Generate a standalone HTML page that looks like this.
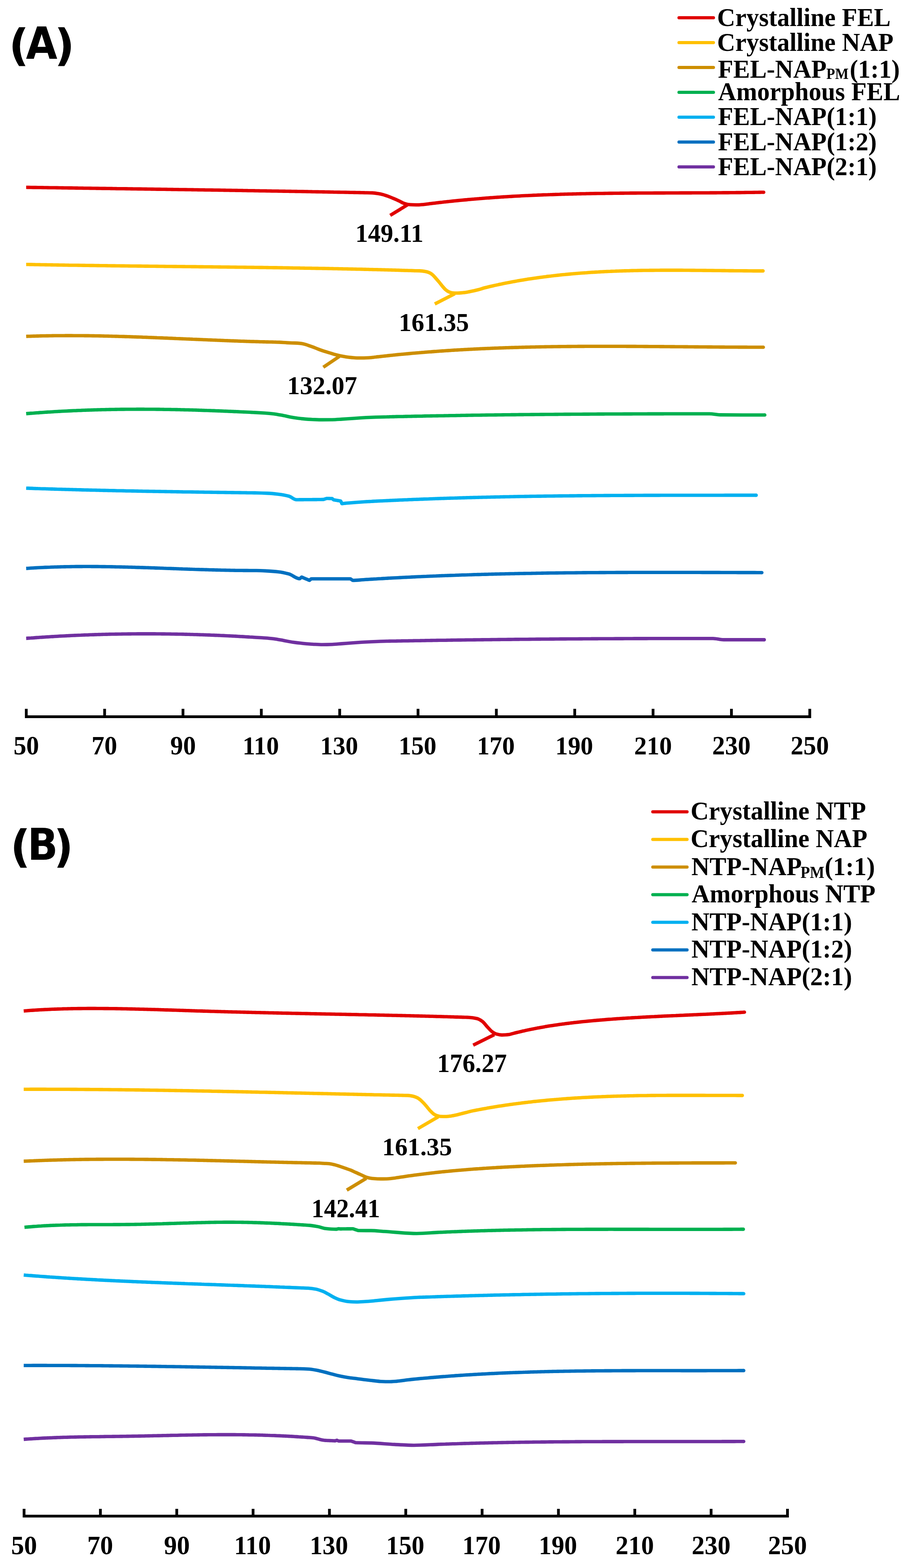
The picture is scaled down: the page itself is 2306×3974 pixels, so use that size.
<!DOCTYPE html>
<html><head><meta charset="utf-8"><title>DSC thermograms</title>
<style>html,body{margin:0;padding:0;background:#fff}svg{display:block;filter:blur(0.6px)}</style></head>
<body><svg width="2306" height="3974" viewBox="0 0 2306 3974">
<rect width="2306" height="3974" fill="#fff"/>
<text transform="translate(22.21,153.12) scale(1.0071,1)" font-family="DejaVu Sans, sans-serif" font-weight="bold" font-size="111.35">(</text>
<text transform="translate(65.77,149.10) scale(0.9192,1)" font-family="DejaVu Sans, sans-serif" font-weight="bold" font-size="111.94">A</text>
<text transform="translate(137.81,153.12) scale(1.0096,1)" font-family="DejaVu Sans, sans-serif" font-weight="bold" font-size="111.35">)</text>
<text transform="translate(25.91,2184.15) scale(0.9951,1)" font-family="DejaVu Sans, sans-serif" font-weight="bold" font-size="112.70">(</text>
<text transform="translate(69.83,2179.10) scale(0.9133,1)" font-family="DejaVu Sans, sans-serif" font-weight="bold" font-size="110.41">B</text>
<text transform="translate(136.34,2184.15) scale(0.9608,1)" font-family="DejaVu Sans, sans-serif" font-weight="bold" font-size="112.70">)</text>
<line x1="1720.6" y1="44.9" x2="1807.9" y2="44.9" stroke="#E00000" stroke-width="8" stroke-linecap="round"/>
<line x1="1720.6" y1="107.9" x2="1807.9" y2="107.9" stroke="#FFC000" stroke-width="8" stroke-linecap="round"/>
<line x1="1720.6" y1="170.9" x2="1807.9" y2="170.9" stroke="#CD8E00" stroke-width="8" stroke-linecap="round"/>
<line x1="1720.6" y1="233.9" x2="1807.9" y2="233.9" stroke="#00B050" stroke-width="8" stroke-linecap="round"/>
<line x1="1720.6" y1="296.9" x2="1807.9" y2="296.9" stroke="#00B0F0" stroke-width="8" stroke-linecap="round"/>
<line x1="1720.6" y1="359.9" x2="1807.9" y2="359.9" stroke="#0070C0" stroke-width="8" stroke-linecap="round"/>
<line x1="1720.6" y1="422.9" x2="1807.9" y2="422.9" stroke="#7030A0" stroke-width="8" stroke-linecap="round"/>
<text transform="translate(1817.32,65.70) scale(0.9783,1)" font-family="Liberation Serif, serif" font-weight="bold" font-size="65.00">Crystalline FEL</text>
<text transform="translate(1817.32,128.70) scale(0.9783,1)" font-family="Liberation Serif, serif" font-weight="bold" font-size="65.00">Crystalline NAP</text>
<text transform="translate(1819.23,197.20) scale(0.9783,1)" font-family="Liberation Serif, serif" font-weight="bold" font-size="65.00">FEL-NAP</text>
<text transform="translate(2094.08,200.00) scale(0.9210,1)" font-family="Liberation Serif, serif" font-weight="bold" font-size="39.23">PM</text>
<text transform="translate(2153.16,197.20) scale(0.9783,1)" font-family="Liberation Serif, serif" font-weight="bold" font-size="65.00">(1:1)</text>
<text transform="translate(1819.86,254.10) scale(0.9783,1)" font-family="Liberation Serif, serif" font-weight="bold" font-size="65.00">Amorphous FEL</text>
<text transform="translate(1819.23,316.70) scale(0.9783,1)" font-family="Liberation Serif, serif" font-weight="bold" font-size="65.00">FEL-NAP(1:1)</text>
<text transform="translate(1819.23,380.60) scale(0.9783,1)" font-family="Liberation Serif, serif" font-weight="bold" font-size="65.00">FEL-NAP(1:2)</text>
<text transform="translate(1819.23,443.60) scale(0.9783,1)" font-family="Liberation Serif, serif" font-weight="bold" font-size="65.00">FEL-NAP(2:1)</text>
<line x1="1654.2" y1="2057.4" x2="1741.0" y2="2057.4" stroke="#E00000" stroke-width="8" stroke-linecap="round"/>
<line x1="1654.2" y1="2127.4" x2="1741.0" y2="2127.4" stroke="#FFC000" stroke-width="8" stroke-linecap="round"/>
<line x1="1654.2" y1="2197.4" x2="1741.0" y2="2197.4" stroke="#CD8E00" stroke-width="8" stroke-linecap="round"/>
<line x1="1654.2" y1="2267.4" x2="1741.0" y2="2267.4" stroke="#00B050" stroke-width="8" stroke-linecap="round"/>
<line x1="1654.2" y1="2337.4" x2="1741.0" y2="2337.4" stroke="#00B0F0" stroke-width="8" stroke-linecap="round"/>
<line x1="1654.2" y1="2407.4" x2="1741.0" y2="2407.4" stroke="#0070C0" stroke-width="8" stroke-linecap="round"/>
<line x1="1654.2" y1="2477.4" x2="1741.0" y2="2477.4" stroke="#7030A0" stroke-width="8" stroke-linecap="round"/>
<text transform="translate(1750.01,2077.10) scale(0.9743,1)" font-family="Liberation Serif, serif" font-weight="bold" font-size="65.45">Crystalline NTP</text>
<text transform="translate(1750.01,2146.90) scale(0.9743,1)" font-family="Liberation Serif, serif" font-weight="bold" font-size="65.45">Crystalline NAP</text>
<text transform="translate(1751.92,2217.90) scale(0.9743,1)" font-family="Liberation Serif, serif" font-weight="bold" font-size="65.45">NTP-NAP</text>
<text transform="translate(2028.42,2225.30) scale(0.9459,1)" font-family="Liberation Serif, serif" font-weight="bold" font-size="41.23">PM</text>
<text transform="translate(2089.75,2217.90) scale(0.9743,1)" font-family="Liberation Serif, serif" font-weight="bold" font-size="65.45">(1:1)</text>
<text transform="translate(1752.56,2287.40) scale(0.9743,1)" font-family="Liberation Serif, serif" font-weight="bold" font-size="65.45">Amorphous NTP</text>
<text transform="translate(1751.92,2357.60) scale(0.9743,1)" font-family="Liberation Serif, serif" font-weight="bold" font-size="65.45">NTP-NAP(1:1)</text>
<text transform="translate(1751.92,2427.30) scale(0.9743,1)" font-family="Liberation Serif, serif" font-weight="bold" font-size="65.45">NTP-NAP(1:2)</text>
<text transform="translate(1751.92,2497.10) scale(0.9743,1)" font-family="Liberation Serif, serif" font-weight="bold" font-size="65.45">NTP-NAP(2:1)</text>
<path d="M66.6,1796.5 L66.6,1816.5 L2052.0,1816.5 L2052.0,1796.5" fill="none" stroke="#000" stroke-width="7" stroke-linejoin="miter"/>
<line x1="265.1" y1="1796.5" x2="265.1" y2="1816.5" stroke="#000" stroke-width="7"/>
<line x1="463.7" y1="1796.5" x2="463.7" y2="1816.5" stroke="#000" stroke-width="7"/>
<line x1="662.2" y1="1796.5" x2="662.2" y2="1816.5" stroke="#000" stroke-width="7"/>
<line x1="860.8" y1="1796.5" x2="860.8" y2="1816.5" stroke="#000" stroke-width="7"/>
<line x1="1059.3" y1="1796.5" x2="1059.3" y2="1816.5" stroke="#000" stroke-width="7"/>
<line x1="1257.8" y1="1796.5" x2="1257.8" y2="1816.5" stroke="#000" stroke-width="7"/>
<line x1="1456.4" y1="1796.5" x2="1456.4" y2="1816.5" stroke="#000" stroke-width="7"/>
<line x1="1654.9" y1="1796.5" x2="1654.9" y2="1816.5" stroke="#000" stroke-width="7"/>
<line x1="1853.5" y1="1796.5" x2="1853.5" y2="1816.5" stroke="#000" stroke-width="7"/>
<text transform="translate(34.19,1911.66) scale(0.9650,1)" font-family="Liberation Serif, serif" font-weight="bold" font-size="67.16">50</text>
<text transform="translate(232.09,1911.66) scale(0.9650,1)" font-family="Liberation Serif, serif" font-weight="bold" font-size="67.16">70</text>
<text transform="translate(431.60,1911.66) scale(0.9650,1)" font-family="Liberation Serif, serif" font-weight="bold" font-size="67.16">90</text>
<text transform="translate(614.64,1911.68) scale(0.9650,1)" font-family="Liberation Serif, serif" font-weight="bold" font-size="66.18">110</text>
<text transform="translate(811.59,1911.68) scale(0.9650,1)" font-family="Liberation Serif, serif" font-weight="bold" font-size="66.18">130</text>
<text transform="translate(1010.13,1911.68) scale(0.9650,1)" font-family="Liberation Serif, serif" font-weight="bold" font-size="66.18">150</text>
<text transform="translate(1208.67,1911.68) scale(0.9650,1)" font-family="Liberation Serif, serif" font-weight="bold" font-size="66.18">170</text>
<text transform="translate(1407.21,1911.68) scale(0.9650,1)" font-family="Liberation Serif, serif" font-weight="bold" font-size="66.18">190</text>
<text transform="translate(1607.02,1911.68) scale(0.9650,1)" font-family="Liberation Serif, serif" font-weight="bold" font-size="66.18">210</text>
<text transform="translate(1804.85,1911.66) scale(0.9650,1)" font-family="Liberation Serif, serif" font-weight="bold" font-size="67.16">230</text>
<text transform="translate(2003.39,1911.66) scale(0.9650,1)" font-family="Liberation Serif, serif" font-weight="bold" font-size="67.16">250</text>
<path d="M61.0,3824.1 L61.0,3842.4 L1995.5,3842.4 L1995.5,3824.1" fill="none" stroke="#000" stroke-width="7" stroke-linejoin="miter"/>
<line x1="254.4" y1="3824.1" x2="254.4" y2="3842.4" stroke="#000" stroke-width="7"/>
<line x1="447.9" y1="3824.1" x2="447.9" y2="3842.4" stroke="#000" stroke-width="7"/>
<line x1="641.3" y1="3824.1" x2="641.3" y2="3842.4" stroke="#000" stroke-width="7"/>
<line x1="834.8" y1="3824.1" x2="834.8" y2="3842.4" stroke="#000" stroke-width="7"/>
<line x1="1028.2" y1="3824.1" x2="1028.2" y2="3842.4" stroke="#000" stroke-width="7"/>
<line x1="1221.7" y1="3824.1" x2="1221.7" y2="3842.4" stroke="#000" stroke-width="7"/>
<line x1="1415.1" y1="3824.1" x2="1415.1" y2="3842.4" stroke="#000" stroke-width="7"/>
<line x1="1608.6" y1="3824.1" x2="1608.6" y2="3842.4" stroke="#000" stroke-width="7"/>
<line x1="1802.0" y1="3824.1" x2="1802.0" y2="3842.4" stroke="#000" stroke-width="7"/>
<text transform="translate(28.16,3938.64) scale(0.9650,1)" font-family="Liberation Serif, serif" font-weight="bold" font-size="68.06">50</text>
<text transform="translate(220.95,3938.64) scale(0.9650,1)" font-family="Liberation Serif, serif" font-weight="bold" font-size="68.06">70</text>
<text transform="translate(415.39,3938.64) scale(0.9650,1)" font-family="Liberation Serif, serif" font-weight="bold" font-size="68.06">90</text>
<text transform="translate(593.14,3938.66) scale(0.9650,1)" font-family="Liberation Serif, serif" font-weight="bold" font-size="67.06">110</text>
<text transform="translate(784.97,3938.66) scale(0.9650,1)" font-family="Liberation Serif, serif" font-weight="bold" font-size="67.06">130</text>
<text transform="translate(978.42,3938.66) scale(0.9650,1)" font-family="Liberation Serif, serif" font-weight="bold" font-size="67.06">150</text>
<text transform="translate(1171.87,3938.66) scale(0.9650,1)" font-family="Liberation Serif, serif" font-weight="bold" font-size="67.06">170</text>
<text transform="translate(1365.32,3938.66) scale(0.9650,1)" font-family="Liberation Serif, serif" font-weight="bold" font-size="67.06">190</text>
<text transform="translate(1560.07,3938.66) scale(0.9650,1)" font-family="Liberation Serif, serif" font-weight="bold" font-size="67.06">210</text>
<text transform="translate(1752.79,3938.64) scale(0.9650,1)" font-family="Liberation Serif, serif" font-weight="bold" font-size="68.06">230</text>
<text transform="translate(1946.24,3938.64) scale(0.9650,1)" font-family="Liberation Serif, serif" font-weight="bold" font-size="68.06">250</text>
<path d="M66.3,474.8 C68.3,474.8 70.3,474.9 72.3,474.9 C74.4,474.9 76.4,474.9 78.4,475.0 C80.4,475.0 82.4,475.0 84.4,475.1 C86.4,475.1 88.4,475.1 90.5,475.1 C92.5,475.2 94.5,475.2 96.5,475.2 C98.5,475.3 100.5,475.3 102.5,475.3 C104.6,475.4 106.6,475.4 108.6,475.4 C110.6,475.4 112.6,475.5 114.6,475.5 C116.6,475.5 118.6,475.6 120.7,475.6 C122.7,475.6 124.7,475.6 126.7,475.7 C128.7,475.7 130.7,475.7 132.7,475.8 C134.8,475.8 136.8,475.8 138.8,475.8 C140.8,475.9 142.8,475.9 144.8,475.9 C146.8,476.0 148.8,476.0 150.9,476.0 C152.9,476.0 154.9,476.1 156.9,476.1 C158.9,476.1 160.9,476.2 162.9,476.2 C165.0,476.2 167.0,476.2 169.0,476.3 C171.0,476.3 173.0,476.3 175.0,476.4 C177.0,476.4 179.0,476.4 181.1,476.4 C183.1,476.5 185.1,476.5 187.1,476.5 C189.1,476.6 191.1,476.6 193.1,476.6 C195.2,476.6 197.2,476.7 199.2,476.7 C201.2,476.7 203.2,476.8 205.2,476.8 C207.2,476.8 209.2,476.8 211.3,476.9 C213.3,476.9 215.3,476.9 217.3,477.0 C219.3,477.0 221.3,477.0 223.3,477.0 C225.3,477.1 227.4,477.1 229.4,477.1 C231.4,477.2 233.4,477.2 235.4,477.2 C237.4,477.2 239.4,477.3 241.5,477.3 C243.5,477.3 245.5,477.4 247.5,477.4 C249.5,477.4 251.5,477.4 253.5,477.5 C255.5,477.5 257.6,477.5 259.6,477.6 C261.6,477.6 263.6,477.6 265.6,477.6 C267.6,477.7 269.6,477.7 271.7,477.7 C273.7,477.8 275.7,477.8 277.7,477.8 C279.7,477.8 281.7,477.9 283.7,477.9 C285.7,477.9 287.8,478.0 289.8,478.0 C291.8,478.0 293.8,478.0 295.8,478.1 C297.8,478.1 299.8,478.1 301.9,478.2 C303.9,478.2 305.9,478.2 307.9,478.2 C309.9,478.3 311.9,478.3 313.9,478.3 C315.9,478.4 318.0,478.4 320.0,478.4 C322.0,478.5 324.0,478.5 326.0,478.5 C328.0,478.5 330.0,478.6 332.1,478.6 C334.1,478.6 336.1,478.7 338.1,478.7 C340.1,478.7 342.1,478.7 344.1,478.8 C346.1,478.8 348.2,478.8 350.2,478.9 C352.2,478.9 354.2,478.9 356.2,478.9 C358.2,479.0 360.2,479.0 362.3,479.0 C364.3,479.1 366.3,479.1 368.3,479.1 C370.3,479.1 372.3,479.2 374.3,479.2 C376.3,479.2 378.4,479.3 380.4,479.3 C382.4,479.3 384.4,479.4 386.4,479.4 C388.4,479.4 390.4,479.4 392.5,479.5 C394.5,479.5 396.5,479.5 398.5,479.6 C400.5,479.6 402.5,479.6 404.5,479.6 C406.5,479.7 408.6,479.7 410.6,479.7 C412.6,479.8 414.6,479.8 416.6,479.8 C418.6,479.9 420.6,479.9 422.7,479.9 C424.7,479.9 426.7,480.0 428.7,480.0 C430.7,480.0 432.7,480.1 434.7,480.1 C436.7,480.1 438.8,480.2 440.8,480.2 C442.8,480.2 444.8,480.2 446.8,480.3 C448.8,480.3 450.8,480.3 452.9,480.4 C454.9,480.4 456.9,480.4 458.9,480.5 C460.9,480.5 462.9,480.5 464.9,480.5 C466.9,480.6 469.0,480.6 471.0,480.6 C473.0,480.7 475.0,480.7 477.0,480.7 C479.0,480.8 481.0,480.8 483.1,480.8 C485.1,480.8 487.1,480.9 489.1,480.9 C491.1,480.9 493.1,481.0 495.1,481.0 C497.1,481.0 499.2,481.1 501.2,481.1 C503.2,481.1 505.2,481.1 507.2,481.2 C509.2,481.2 511.2,481.2 513.2,481.3 C515.3,481.3 517.3,481.3 519.3,481.4 C521.3,481.4 523.3,481.4 525.3,481.5 C527.3,481.5 529.4,481.5 531.4,481.5 C533.4,481.6 535.4,481.6 537.4,481.6 C539.4,481.7 541.4,481.7 543.4,481.7 C545.5,481.8 547.5,481.8 549.5,481.8 C551.5,481.9 553.5,481.9 555.5,481.9 C557.5,482.0 559.6,482.0 561.6,482.0 C563.6,482.0 565.6,482.1 567.6,482.1 C569.6,482.1 571.6,482.2 573.6,482.2 C575.7,482.2 577.7,482.3 579.7,482.3 C581.7,482.3 583.7,482.4 585.7,482.4 C587.7,482.4 589.8,482.5 591.8,482.5 C593.8,482.5 595.8,482.6 597.8,482.6 C599.8,482.6 601.8,482.7 603.8,482.7 C605.9,482.7 607.9,482.8 609.9,482.8 C611.9,482.8 613.9,482.8 615.9,482.9 C617.9,482.9 620.0,482.9 622.0,483.0 C624.0,483.0 626.0,483.0 628.0,483.1 C630.0,483.1 632.0,483.1 634.0,483.2 C636.1,483.2 638.1,483.2 640.1,483.3 C642.1,483.3 644.1,483.3 646.1,483.4 C648.1,483.4 650.2,483.4 652.2,483.5 C654.2,483.5 656.2,483.5 658.2,483.6 C660.2,483.6 662.2,483.6 664.2,483.7 C666.3,483.7 668.3,483.7 670.3,483.8 C672.3,483.8 674.3,483.8 676.3,483.9 C678.3,483.9 680.4,483.9 682.4,484.0 C684.4,484.0 686.4,484.0 688.4,484.1 C690.4,484.1 692.4,484.1 694.4,484.2 C696.5,484.2 698.5,484.2 700.5,484.3 C702.5,484.3 704.5,484.3 706.5,484.4 C708.5,484.4 710.6,484.4 712.6,484.5 C714.6,484.5 716.6,484.5 718.6,484.6 C720.6,484.6 722.6,484.7 724.6,484.7 C726.7,484.7 728.7,484.8 730.7,484.8 C732.7,484.8 734.7,484.9 736.7,484.9 C738.7,484.9 740.8,485.0 742.8,485.0 C744.8,485.0 746.8,485.1 748.8,485.1 C750.8,485.1 752.8,485.2 754.8,485.2 C756.9,485.2 758.9,485.3 760.9,485.3 C762.9,485.4 764.9,485.4 766.9,485.4 C768.9,485.5 771.0,485.5 773.0,485.5 C775.0,485.6 777.0,485.6 779.0,485.6 C781.0,485.7 783.0,485.7 785.0,485.8 C787.1,485.8 789.1,485.8 791.1,485.9 C793.1,485.9 795.1,485.9 797.1,486.0 C799.1,486.0 801.1,486.0 803.2,486.1 C805.2,486.1 807.2,486.2 809.2,486.2 C811.2,486.2 813.2,486.3 815.2,486.3 C817.3,486.3 819.3,486.4 821.3,486.4 C823.3,486.4 825.3,486.5 827.3,486.5 C829.3,486.6 831.3,486.6 833.4,486.6 C835.4,486.7 837.4,486.7 839.4,486.7 C841.4,486.8 843.4,486.8 845.4,486.9 C847.5,486.9 849.5,486.9 851.5,487.0 C853.5,487.0 855.5,487.0 857.5,487.1 C859.5,487.1 861.5,487.2 863.6,487.2 C865.6,487.2 867.6,487.3 869.6,487.3 C871.6,487.4 873.6,487.4 875.6,487.4 C877.7,487.5 879.7,487.5 881.7,487.5 C883.7,487.6 885.7,487.6 887.7,487.7 C889.7,487.7 891.7,487.7 893.8,487.8 C895.8,487.8 897.8,487.9 899.8,487.9 C901.8,487.9 903.8,488.0 905.8,488.0 C907.9,488.1 909.9,488.1 911.9,488.1 C913.9,488.2 915.9,488.2 917.9,488.3 C919.9,488.3 921.9,488.3 924.0,488.4 C926.0,488.4 928.0,488.5 930.0,488.5 C934.6,488.6 939.1,488.7 943.7,488.9 C948.3,489.1 952.8,489.8 957.4,490.5 C961.9,491.2 966.5,492.1 971.0,493.3 C975.6,494.5 980.1,496.3 984.7,498.0 C989.3,499.7 993.8,501.6 998.4,503.5 C1003.0,505.4 1007.5,507.5 1012.1,509.7 C1015.7,511.4 1019.4,513.8 1023.0,515.1 C1026.2,516.3 1029.4,517.5 1032.6,517.9 C1037.2,518.5 1041.7,518.9 1046.3,519.0 C1050.9,519.1 1055.4,519.2 1060.0,519.2 C1064.5,519.2 1069.1,518.6 1073.6,518.2 C1078.2,517.8 1082.7,517.1 1087.3,516.5 C1089.3,516.2 1091.3,516.0 1093.3,515.7 C1095.3,515.5 1097.3,515.3 1099.3,515.0 C1101.3,514.8 1103.3,514.5 1105.3,514.3 C1107.3,514.0 1109.3,513.8 1111.4,513.6 C1113.4,513.3 1115.4,513.1 1117.4,512.9 C1119.4,512.6 1121.4,512.4 1123.4,512.2 C1125.4,512.0 1127.4,511.7 1129.4,511.5 C1131.4,511.3 1133.4,511.1 1135.4,510.9 C1137.4,510.6 1139.4,510.4 1141.4,510.2 C1143.4,510.0 1145.4,509.8 1147.4,509.6 C1149.4,509.4 1151.4,509.2 1153.4,509.0 C1155.5,508.8 1157.5,508.6 1159.5,508.4 C1161.5,508.2 1163.5,508.0 1165.5,507.8 C1167.5,507.6 1169.5,507.4 1171.5,507.2 C1173.5,507.0 1175.5,506.8 1177.5,506.6 C1179.5,506.4 1181.5,506.2 1183.5,506.1 C1185.5,505.9 1187.5,505.7 1189.5,505.5 C1191.5,505.3 1193.5,505.2 1195.5,505.0 C1197.5,504.8 1199.6,504.6 1201.6,504.5 C1203.6,504.3 1205.6,504.1 1207.6,504.0 C1209.6,503.8 1211.6,503.6 1213.6,503.5 C1215.6,503.3 1217.6,503.1 1219.6,503.0 C1221.6,502.8 1223.6,502.7 1225.6,502.5 C1227.6,502.3 1229.6,502.2 1231.6,502.0 C1233.6,501.9 1235.6,501.7 1237.6,501.6 C1239.6,501.4 1241.6,501.3 1243.7,501.1 C1245.7,501.0 1247.7,500.9 1249.7,500.7 C1251.7,500.6 1253.7,500.4 1255.7,500.3 C1257.7,500.2 1259.7,500.0 1261.7,499.9 C1263.7,499.8 1265.7,499.6 1267.7,499.5 C1269.7,499.4 1271.7,499.2 1273.7,499.1 C1275.7,499.0 1277.7,498.8 1279.7,498.7 C1281.7,498.6 1283.7,498.5 1285.7,498.4 C1287.7,498.2 1289.8,498.1 1291.8,498.0 C1293.8,497.9 1295.8,497.8 1297.8,497.6 C1299.8,497.5 1301.8,497.4 1303.8,497.3 C1305.8,497.2 1307.8,497.1 1309.8,497.0 C1311.8,496.9 1313.8,496.8 1315.8,496.7 C1317.8,496.6 1319.8,496.4 1321.8,496.3 C1323.8,496.2 1325.8,496.1 1327.8,496.0 C1329.8,495.9 1331.8,495.8 1333.9,495.7 C1335.9,495.7 1337.9,495.6 1339.9,495.5 C1341.9,495.4 1343.9,495.3 1345.9,495.2 C1347.9,495.1 1349.9,495.0 1351.9,494.9 C1353.9,494.8 1355.9,494.7 1357.9,494.7 C1359.9,494.6 1361.9,494.5 1363.9,494.4 C1365.9,494.3 1367.9,494.2 1369.9,494.2 C1371.9,494.1 1373.9,494.0 1375.9,493.9 C1378.0,493.8 1380.0,493.8 1382.0,493.7 C1384.0,493.6 1386.0,493.5 1388.0,493.5 C1390.0,493.4 1392.0,493.3 1394.0,493.3 C1396.0,493.2 1398.0,493.1 1400.0,493.1 C1402.0,493.0 1404.0,492.9 1406.0,492.9 C1408.0,492.8 1410.0,492.7 1412.0,492.7 C1414.0,492.6 1416.0,492.5 1418.0,492.5 C1420.0,492.4 1422.1,492.4 1424.1,492.3 C1426.1,492.2 1428.1,492.2 1430.1,492.1 C1432.1,492.1 1434.1,492.0 1436.1,492.0 C1438.1,491.9 1440.1,491.9 1442.1,491.8 C1444.1,491.8 1446.1,491.7 1448.1,491.7 C1450.1,491.6 1452.1,491.6 1454.1,491.5 C1456.1,491.5 1458.1,491.4 1460.1,491.4 C1462.1,491.3 1464.1,491.3 1466.1,491.2 C1468.2,491.2 1470.2,491.1 1472.2,491.1 C1474.2,491.1 1476.2,491.0 1478.2,491.0 C1480.2,490.9 1482.2,490.9 1484.2,490.9 C1486.2,490.8 1488.2,490.8 1490.2,490.7 C1492.2,490.7 1494.2,490.7 1496.2,490.6 C1498.2,490.6 1500.2,490.6 1502.2,490.5 C1504.2,490.5 1506.2,490.5 1508.2,490.4 C1510.2,490.4 1512.3,490.4 1514.3,490.3 C1516.3,490.3 1518.3,490.3 1520.3,490.2 C1522.3,490.2 1524.3,490.2 1526.3,490.2 C1528.3,490.1 1530.3,490.1 1532.3,490.1 C1534.3,490.1 1536.3,490.0 1538.3,490.0 C1540.3,490.0 1542.3,490.0 1544.3,489.9 C1546.3,489.9 1548.3,489.9 1550.3,489.9 C1552.3,489.8 1554.3,489.8 1556.4,489.8 C1558.4,489.8 1560.4,489.8 1562.4,489.7 C1564.4,489.7 1566.4,489.7 1568.4,489.7 C1570.4,489.7 1572.4,489.6 1574.4,489.6 C1576.4,489.6 1578.4,489.6 1580.4,489.6 C1582.4,489.6 1584.4,489.5 1586.4,489.5 C1588.4,489.5 1590.4,489.5 1592.4,489.5 C1594.4,489.5 1596.4,489.5 1598.4,489.4 C1600.4,489.4 1602.5,489.4 1604.5,489.4 C1606.5,489.4 1608.5,489.4 1610.5,489.4 C1612.5,489.3 1614.5,489.3 1616.5,489.3 C1618.5,489.3 1620.5,489.3 1622.5,489.3 C1624.5,489.3 1626.5,489.3 1628.5,489.3 C1630.5,489.3 1632.5,489.2 1634.5,489.2 C1636.5,489.2 1638.5,489.2 1640.5,489.2 C1642.5,489.2 1644.5,489.2 1646.6,489.2 C1648.6,489.2 1650.6,489.2 1652.6,489.2 C1654.6,489.1 1656.6,489.1 1658.6,489.1 C1660.6,489.1 1662.6,489.1 1664.6,489.1 C1666.6,489.1 1668.6,489.1 1670.6,489.1 C1672.6,489.1 1674.6,489.1 1676.6,489.1 C1678.6,489.1 1680.6,489.1 1682.6,489.1 C1684.6,489.0 1686.6,489.0 1688.6,489.0 C1690.7,489.0 1692.7,489.0 1694.7,489.0 C1696.7,489.0 1698.7,489.0 1700.7,489.0 C1702.7,489.0 1704.7,489.0 1706.7,489.0 C1708.7,489.0 1710.7,489.0 1712.7,489.0 C1714.7,489.0 1716.7,489.0 1718.7,489.0 C1720.7,488.9 1722.7,488.9 1724.7,488.9 C1726.7,488.9 1728.7,488.9 1730.7,488.9 C1732.7,488.9 1734.8,488.9 1736.8,488.9 C1738.8,488.9 1740.8,488.9 1742.8,488.9 C1744.8,488.9 1746.8,488.9 1748.8,488.9 C1750.8,488.9 1752.8,488.8 1754.8,488.8 C1756.8,488.8 1758.8,488.8 1760.8,488.8 C1762.8,488.8 1764.8,488.8 1766.8,488.8 C1768.8,488.8 1770.8,488.8 1772.8,488.8 C1774.8,488.8 1776.8,488.8 1778.8,488.8 C1780.9,488.7 1782.9,488.7 1784.9,488.7 C1786.9,488.7 1788.9,488.7 1790.9,488.7 C1792.9,488.7 1794.9,488.7 1796.9,488.7 C1798.9,488.7 1800.9,488.6 1802.9,488.6 C1804.9,488.6 1806.9,488.6 1808.9,488.6 C1810.9,488.6 1812.9,488.6 1814.9,488.6 C1816.9,488.6 1818.9,488.5 1820.9,488.5 C1822.9,488.5 1825.0,488.5 1827.0,488.5 C1829.0,488.5 1831.0,488.5 1833.0,488.4 C1835.0,488.4 1837.0,488.4 1839.0,488.4 C1841.0,488.4 1843.0,488.4 1845.0,488.4 C1847.0,488.3 1849.0,488.3 1851.0,488.3 C1853.0,488.3 1855.0,488.3 1857.0,488.2 C1859.0,488.2 1861.0,488.2 1863.0,488.2 C1865.0,488.2 1867.0,488.1 1869.1,488.1 C1871.1,488.1 1873.1,488.1 1875.1,488.1 C1877.1,488.0 1879.1,488.0 1881.1,488.0 C1883.1,488.0 1885.1,487.9 1887.1,487.9 C1889.1,487.9 1891.1,487.9 1893.1,487.8 C1895.1,487.8 1897.1,487.8 1899.1,487.8 C1901.1,487.7 1903.1,487.7 1905.1,487.7 C1907.1,487.6 1909.1,487.6 1911.1,487.6 C1913.2,487.6 1915.2,487.5 1917.2,487.5 C1919.2,487.5 1921.2,487.4 1923.2,487.4 C1925.2,487.4 1927.2,487.3 1929.2,487.3 C1931.2,487.3 1933.2,487.2 1935.2,487.2" fill="none" stroke="#E00000" stroke-width="8.6" stroke-linecap="butt" stroke-linejoin="round"/>
<circle cx="1935.2" cy="487.2" r="4.3" fill="#E00000"/>
<path d="M66.3,670.2 C68.3,670.2 70.3,670.3 72.3,670.3 C74.3,670.3 76.4,670.4 78.4,670.4 C80.4,670.5 82.4,670.5 84.4,670.5 C86.4,670.6 88.4,670.6 90.4,670.7 C92.5,670.7 94.5,670.7 96.5,670.8 C98.5,670.8 100.5,670.8 102.5,670.9 C104.5,670.9 106.5,670.9 108.5,671.0 C110.6,671.0 112.6,671.1 114.6,671.1 C116.6,671.1 118.6,671.2 120.6,671.2 C122.6,671.2 124.6,671.3 126.6,671.3 C128.7,671.3 130.7,671.4 132.7,671.4 C134.7,671.4 136.7,671.5 138.7,671.5 C140.7,671.5 142.7,671.6 144.8,671.6 C146.8,671.6 148.8,671.7 150.8,671.7 C152.8,671.7 154.8,671.8 156.8,671.8 C158.8,671.8 160.8,671.9 162.9,671.9 C164.9,671.9 166.9,672.0 168.9,672.0 C170.9,672.0 172.9,672.0 174.9,672.1 C176.9,672.1 179.0,672.1 181.0,672.2 C183.0,672.2 185.0,672.2 187.0,672.3 C189.0,672.3 191.0,672.3 193.0,672.3 C195.0,672.4 197.1,672.4 199.1,672.4 C201.1,672.5 203.1,672.5 205.1,672.5 C207.1,672.6 209.1,672.6 211.1,672.6 C213.2,672.6 215.2,672.7 217.2,672.7 C219.2,672.7 221.2,672.8 223.2,672.8 C225.2,672.8 227.2,672.8 229.2,672.9 C231.3,672.9 233.3,672.9 235.3,672.9 C237.3,673.0 239.3,673.0 241.3,673.0 C243.3,673.1 245.3,673.1 247.3,673.1 C249.4,673.1 251.4,673.2 253.4,673.2 C255.4,673.2 257.4,673.2 259.4,673.3 C261.4,673.3 263.4,673.3 265.5,673.3 C267.5,673.4 269.5,673.4 271.5,673.4 C273.5,673.4 275.5,673.5 277.5,673.5 C279.5,673.5 281.5,673.5 283.6,673.6 C285.6,673.6 287.6,673.6 289.6,673.6 C291.6,673.7 293.6,673.7 295.6,673.7 C297.6,673.7 299.7,673.8 301.7,673.8 C303.7,673.8 305.7,673.8 307.7,673.9 C309.7,673.9 311.7,673.9 313.7,673.9 C315.7,674.0 317.8,674.0 319.8,674.0 C321.8,674.0 323.8,674.1 325.8,674.1 C327.8,674.1 329.8,674.1 331.8,674.2 C333.9,674.2 335.9,674.2 337.9,674.2 C339.9,674.2 341.9,674.3 343.9,674.3 C345.9,674.3 347.9,674.3 349.9,674.4 C352.0,674.4 354.0,674.4 356.0,674.4 C358.0,674.5 360.0,674.5 362.0,674.5 C364.0,674.5 366.0,674.5 368.0,674.6 C370.1,674.6 372.1,674.6 374.1,674.6 C376.1,674.7 378.1,674.7 380.1,674.7 C382.1,674.7 384.1,674.7 386.2,674.8 C388.2,674.8 390.2,674.8 392.2,674.8 C394.2,674.9 396.2,674.9 398.2,674.9 C400.2,674.9 402.2,674.9 404.3,675.0 C406.3,675.0 408.3,675.0 410.3,675.0 C412.3,675.0 414.3,675.1 416.3,675.1 C418.3,675.1 420.4,675.1 422.4,675.2 C424.4,675.2 426.4,675.2 428.4,675.2 C430.4,675.2 432.4,675.3 434.4,675.3 C436.4,675.3 438.5,675.3 440.5,675.4 C442.5,675.4 444.5,675.4 446.5,675.4 C448.5,675.4 450.5,675.5 452.5,675.5 C454.5,675.5 456.6,675.5 458.6,675.5 C460.6,675.6 462.6,675.6 464.6,675.6 C466.6,675.6 468.6,675.7 470.6,675.7 C472.7,675.7 474.7,675.7 476.7,675.7 C478.7,675.8 480.7,675.8 482.7,675.8 C484.7,675.8 486.7,675.9 488.7,675.9 C490.8,675.9 492.8,675.9 494.8,675.9 C496.8,676.0 498.8,676.0 500.8,676.0 C502.8,676.0 504.8,676.0 506.9,676.1 C508.9,676.1 510.9,676.1 512.9,676.1 C514.9,676.2 516.9,676.2 518.9,676.2 C520.9,676.2 522.9,676.2 525.0,676.3 C527.0,676.3 529.0,676.3 531.0,676.3 C533.0,676.4 535.0,676.4 537.0,676.4 C539.0,676.4 541.1,676.4 543.1,676.5 C545.1,676.5 547.1,676.5 549.1,676.5 C551.1,676.6 553.1,676.6 555.1,676.6 C557.1,676.6 559.2,676.7 561.2,676.7 C563.2,676.7 565.2,676.7 567.2,676.7 C569.2,676.8 571.2,676.8 573.2,676.8 C575.2,676.8 577.3,676.9 579.3,676.9 C581.3,676.9 583.3,676.9 585.3,677.0 C587.3,677.0 589.3,677.0 591.3,677.0 C593.4,677.1 595.4,677.1 597.4,677.1 C599.4,677.1 601.4,677.1 603.4,677.2 C605.4,677.2 607.4,677.2 609.4,677.2 C611.5,677.3 613.5,677.3 615.5,677.3 C617.5,677.3 619.5,677.4 621.5,677.4 C623.5,677.4 625.5,677.4 627.6,677.5 C629.6,677.5 631.6,677.5 633.6,677.5 C635.6,677.6 637.6,677.6 639.6,677.6 C641.6,677.6 643.6,677.7 645.7,677.7 C647.7,677.7 649.7,677.8 651.7,677.8 C653.7,677.8 655.7,677.8 657.7,677.9 C659.7,677.9 661.8,677.9 663.8,677.9 C665.8,678.0 667.8,678.0 669.8,678.0 C671.8,678.0 673.8,678.1 675.8,678.1 C677.8,678.1 679.9,678.2 681.9,678.2 C683.9,678.2 685.9,678.2 687.9,678.3 C689.9,678.3 691.9,678.3 693.9,678.4 C695.9,678.4 698.0,678.4 700.0,678.4 C702.0,678.5 704.0,678.5 706.0,678.5 C708.0,678.6 710.0,678.6 712.0,678.6 C714.1,678.6 716.1,678.7 718.1,678.7 C720.1,678.7 722.1,678.8 724.1,678.8 C726.1,678.8 728.1,678.9 730.1,678.9 C732.2,678.9 734.2,678.9 736.2,679.0 C738.2,679.0 740.2,679.0 742.2,679.1 C744.2,679.1 746.2,679.1 748.3,679.2 C750.3,679.2 752.3,679.2 754.3,679.3 C756.3,679.3 758.3,679.3 760.3,679.4 C762.3,679.4 764.3,679.4 766.4,679.5 C768.4,679.5 770.4,679.5 772.4,679.6 C774.4,679.6 776.4,679.6 778.4,679.7 C780.4,679.7 782.4,679.7 784.5,679.8 C786.5,679.8 788.5,679.8 790.5,679.9 C792.5,679.9 794.5,679.9 796.5,680.0 C798.5,680.0 800.6,680.0 802.6,680.1 C804.6,680.1 806.6,680.2 808.6,680.2 C810.6,680.2 812.6,680.3 814.6,680.3 C816.6,680.3 818.7,680.4 820.7,680.4 C822.7,680.5 824.7,680.5 826.7,680.5 C828.7,680.6 830.7,680.6 832.7,680.6 C834.8,680.7 836.8,680.7 838.8,680.8 C840.8,680.8 842.8,680.8 844.8,680.9 C846.8,680.9 848.8,681.0 850.8,681.0 C852.9,681.0 854.9,681.1 856.9,681.1 C858.9,681.2 860.9,681.2 862.9,681.3 C864.9,681.3 866.9,681.3 869.0,681.4 C871.0,681.4 873.0,681.5 875.0,681.5 C877.0,681.5 879.0,681.6 881.0,681.6 C883.0,681.7 885.0,681.7 887.1,681.8 C889.1,681.8 891.1,681.9 893.1,681.9 C895.1,681.9 897.1,682.0 899.1,682.0 C901.1,682.1 903.1,682.1 905.2,682.2 C907.2,682.2 909.2,682.3 911.2,682.3 C913.2,682.4 915.2,682.4 917.2,682.4 C919.2,682.5 921.3,682.5 923.3,682.6 C925.3,682.6 927.3,682.7 929.3,682.7 C931.3,682.8 933.3,682.8 935.3,682.9 C937.3,682.9 939.4,683.0 941.4,683.0 C943.4,683.1 945.4,683.1 947.4,683.2 C949.4,683.2 951.4,683.3 953.4,683.3 C955.5,683.4 957.5,683.4 959.5,683.5 C961.5,683.5 963.5,683.6 965.5,683.6 C967.5,683.7 969.5,683.8 971.5,683.8 C973.6,683.9 975.6,683.9 977.6,684.0 C979.6,684.0 981.6,684.1 983.6,684.1 C985.6,684.2 987.6,684.2 989.7,684.3 C991.7,684.4 993.7,684.4 995.7,684.5 C997.7,684.5 999.7,684.6 1001.7,684.6 C1003.7,684.7 1005.7,684.8 1007.8,684.8 C1009.8,684.9 1011.8,684.9 1013.8,685.0 C1015.8,685.1 1017.8,685.1 1019.8,685.2 C1021.8,685.2 1023.8,685.3 1025.9,685.4 C1027.9,685.4 1029.9,685.5 1031.9,685.5 C1033.9,685.6 1035.9,685.7 1037.9,685.7 C1039.9,685.8 1042.0,685.8 1044.0,685.9 C1046.0,686.0 1048.0,686.0 1050.0,686.1 C1054.6,686.2 1059.1,686.2 1063.7,686.4 C1068.3,686.6 1072.8,687.3 1077.4,688.1 C1081.0,688.7 1084.7,689.7 1088.3,691.2 C1091.0,692.3 1093.8,694.4 1096.5,696.7 C1099.2,699.0 1102.0,702.5 1104.7,705.6 C1107.4,708.7 1110.2,711.8 1112.9,715.1 C1115.6,718.4 1118.4,722.2 1121.1,725.4 C1123.8,728.6 1126.6,732.0 1129.3,734.3 C1132.1,736.6 1134.8,738.7 1137.6,739.8 C1140.3,740.9 1143.1,742.0 1145.8,742.2 C1150.3,742.6 1154.9,742.8 1159.4,742.8 C1164.0,742.8 1168.5,742.2 1173.1,741.8 C1177.7,741.4 1182.2,740.6 1186.8,739.8 C1191.4,739.0 1195.9,738.0 1200.5,737.0 C1205.1,736.0 1209.6,734.8 1214.2,733.6 C1218.7,732.4 1223.3,730.7 1227.8,729.5 C1235.2,727.5 1242.6,725.9 1250.0,724.2 C1252.0,723.7 1254.0,723.3 1256.0,722.9 C1258.1,722.4 1260.1,722.0 1262.1,721.6 C1264.1,721.1 1266.1,720.7 1268.1,720.3 C1270.2,719.9 1272.2,719.4 1274.2,719.0 C1276.2,718.6 1278.2,718.2 1280.2,717.8 C1282.3,717.4 1284.3,717.0 1286.3,716.6 C1288.3,716.2 1290.3,715.8 1292.3,715.5 C1294.4,715.1 1296.4,714.7 1298.4,714.3 C1300.4,713.9 1302.4,713.6 1304.4,713.2 C1306.5,712.8 1308.5,712.5 1310.5,712.1 C1312.5,711.8 1314.5,711.4 1316.5,711.1 C1318.6,710.7 1320.6,710.4 1322.6,710.0 C1324.6,709.7 1326.6,709.4 1328.6,709.0 C1330.7,708.7 1332.7,708.4 1334.7,708.1 C1336.7,707.7 1338.7,707.4 1340.7,707.1 C1342.8,706.8 1344.8,706.5 1346.8,706.2 C1348.8,705.9 1350.8,705.6 1352.8,705.3 C1354.9,705.0 1356.9,704.7 1358.9,704.4 C1360.9,704.1 1362.9,703.8 1364.9,703.6 C1367.0,703.3 1369.0,703.0 1371.0,702.7 C1373.0,702.5 1375.0,702.2 1377.0,701.9 C1379.1,701.7 1381.1,701.4 1383.1,701.2 C1385.1,700.9 1387.1,700.6 1389.1,700.4 C1391.2,700.2 1393.2,699.9 1395.2,699.7 C1397.2,699.4 1399.2,699.2 1401.2,699.0 C1403.3,698.7 1405.3,698.5 1407.3,698.3 C1409.3,698.0 1411.3,697.8 1413.3,697.6 C1415.4,697.4 1417.4,697.2 1419.4,696.9 C1421.4,696.7 1423.4,696.5 1425.4,696.3 C1427.5,696.1 1429.5,695.9 1431.5,695.7 C1433.5,695.5 1435.5,695.3 1437.5,695.1 C1439.6,694.9 1441.6,694.8 1443.6,694.6 C1445.6,694.4 1447.6,694.2 1449.6,694.0 C1451.7,693.8 1453.7,693.7 1455.7,693.5 C1457.7,693.3 1459.7,693.2 1461.7,693.0 C1463.8,692.8 1465.8,692.7 1467.8,692.5 C1469.8,692.3 1471.8,692.2 1473.8,692.0 C1475.9,691.9 1477.9,691.7 1479.9,691.6 C1481.9,691.4 1483.9,691.3 1485.9,691.2 C1487.9,691.0 1490.0,690.9 1492.0,690.7 C1494.0,690.6 1496.0,690.5 1498.0,690.3 C1500.0,690.2 1502.1,690.1 1504.1,690.0 C1506.1,689.8 1508.1,689.7 1510.1,689.6 C1512.1,689.5 1514.2,689.4 1516.2,689.3 C1518.2,689.1 1520.2,689.0 1522.2,688.9 C1524.2,688.8 1526.3,688.7 1528.3,688.6 C1530.3,688.5 1532.3,688.4 1534.3,688.3 C1536.3,688.2 1538.4,688.1 1540.4,688.0 C1542.4,687.9 1544.4,687.8 1546.4,687.8 C1548.4,687.7 1550.5,687.6 1552.5,687.5 C1554.5,687.4 1556.5,687.3 1558.5,687.3 C1560.5,687.2 1562.6,687.1 1564.6,687.0 C1566.6,687.0 1568.6,686.9 1570.6,686.8 C1572.6,686.7 1574.7,686.7 1576.7,686.6 C1578.7,686.5 1580.7,686.5 1582.7,686.4 C1584.7,686.4 1586.8,686.3 1588.8,686.3 C1590.8,686.2 1592.8,686.1 1594.8,686.1 C1596.8,686.0 1598.9,686.0 1600.9,685.9 C1602.9,685.9 1604.9,685.8 1606.9,685.8 C1608.9,685.8 1611.0,685.7 1613.0,685.7 C1615.0,685.6 1617.0,685.6 1619.0,685.5 C1621.0,685.5 1623.1,685.5 1625.1,685.4 C1627.1,685.4 1629.1,685.4 1631.1,685.3 C1633.1,685.3 1635.2,685.3 1637.2,685.3 C1639.2,685.2 1641.2,685.2 1643.2,685.2 C1645.2,685.2 1647.3,685.1 1649.3,685.1 C1651.3,685.1 1653.3,685.1 1655.3,685.1 C1657.3,685.0 1659.4,685.0 1661.4,685.0 C1663.4,685.0 1665.4,685.0 1667.4,685.0 C1669.4,685.0 1671.5,684.9 1673.5,684.9 C1675.5,684.9 1677.5,684.9 1679.5,684.9 C1681.5,684.9 1683.6,684.9 1685.6,684.9 C1687.6,684.9 1689.6,684.9 1691.6,684.9 C1693.6,684.9 1695.7,684.9 1697.7,684.9 C1699.7,684.9 1701.7,684.9 1703.7,684.9 C1705.7,684.9 1707.7,684.9 1709.8,684.9 C1711.8,684.9 1713.8,684.9 1715.8,684.9 C1717.8,684.9 1719.8,684.9 1721.9,684.9 C1723.9,684.9 1725.9,684.9 1727.9,684.9 C1729.9,685.0 1731.9,685.0 1734.0,685.0 C1736.0,685.0 1738.0,685.0 1740.0,685.0 C1742.0,685.0 1744.0,685.0 1746.1,685.0 C1748.1,685.1 1750.1,685.1 1752.1,685.1 C1754.1,685.1 1756.1,685.1 1758.2,685.1 C1760.2,685.2 1762.2,685.2 1764.2,685.2 C1766.2,685.2 1768.2,685.2 1770.3,685.2 C1772.3,685.3 1774.3,685.3 1776.3,685.3 C1778.3,685.3 1780.3,685.3 1782.4,685.4 C1784.4,685.4 1786.4,685.4 1788.4,685.4 C1790.4,685.4 1792.4,685.5 1794.5,685.5 C1796.5,685.5 1798.5,685.5 1800.5,685.5 C1802.5,685.6 1804.5,685.6 1806.6,685.6 C1808.6,685.6 1810.6,685.6 1812.6,685.7 C1814.6,685.7 1816.6,685.7 1818.7,685.7 C1820.7,685.8 1822.7,685.8 1824.7,685.8 C1826.7,685.8 1828.7,685.8 1830.8,685.9 C1832.8,685.9 1834.8,685.9 1836.8,685.9 C1838.8,685.9 1840.8,686.0 1842.9,686.0 C1844.9,686.0 1846.9,686.0 1848.9,686.1 C1850.9,686.1 1852.9,686.1 1855.0,686.1 C1857.0,686.1 1859.0,686.2 1861.0,686.2 C1863.0,686.2 1865.0,686.2 1867.1,686.2 C1869.1,686.3 1871.1,686.3 1873.1,686.3 C1875.1,686.3 1877.1,686.3 1879.2,686.3 C1881.2,686.4 1883.2,686.4 1885.2,686.4 C1887.2,686.4 1889.2,686.4 1891.3,686.4 C1893.3,686.5 1895.3,686.5 1897.3,686.5 C1899.3,686.5 1901.3,686.5 1903.4,686.5 C1905.4,686.5 1907.4,686.5 1909.4,686.6 C1911.4,686.6 1913.4,686.6 1915.5,686.6 C1917.5,686.6 1919.5,686.6 1921.5,686.6 C1923.5,686.6 1925.5,686.6 1927.6,686.6 C1929.6,686.6 1931.6,686.6 1933.6,686.6" fill="none" stroke="#FFC000" stroke-width="8.6" stroke-linecap="butt" stroke-linejoin="round"/>
<circle cx="1933.6" cy="686.6" r="4.3" fill="#FFC000"/>
<path d="M66.3,852.5 C68.3,852.4 70.3,852.4 72.3,852.3 C74.3,852.2 76.4,852.2 78.4,852.1 C80.4,852.0 82.4,852.0 84.4,851.9 C86.4,851.9 88.4,851.8 90.4,851.7 C92.5,851.7 94.5,851.6 96.5,851.6 C98.5,851.5 100.5,851.5 102.5,851.4 C104.5,851.4 106.5,851.4 108.5,851.3 C110.6,851.3 112.6,851.2 114.6,851.2 C116.6,851.2 118.6,851.1 120.6,851.1 C122.6,851.0 124.6,851.0 126.7,851.0 C128.7,851.0 130.7,850.9 132.7,850.9 C134.7,850.9 136.7,850.9 138.7,850.8 C140.7,850.8 142.7,850.8 144.8,850.8 C146.8,850.8 148.8,850.7 150.8,850.7 C152.8,850.7 154.8,850.7 156.8,850.7 C158.8,850.7 160.9,850.7 162.9,850.7 C164.9,850.7 166.9,850.6 168.9,850.6 C170.9,850.6 172.9,850.6 174.9,850.6 C176.9,850.6 179.0,850.6 181.0,850.6 C183.0,850.6 185.0,850.6 187.0,850.7 C189.0,850.7 191.0,850.7 193.0,850.7 C195.1,850.7 197.1,850.7 199.1,850.7 C201.1,850.7 203.1,850.7 205.1,850.8 C207.1,850.8 209.1,850.8 211.1,850.8 C213.2,850.8 215.2,850.9 217.2,850.9 C219.2,850.9 221.2,850.9 223.2,850.9 C225.2,851.0 227.2,851.0 229.3,851.0 C231.3,851.1 233.3,851.1 235.3,851.1 C237.3,851.1 239.3,851.2 241.3,851.2 C243.3,851.2 245.3,851.3 247.4,851.3 C249.4,851.4 251.4,851.4 253.4,851.4 C255.4,851.5 257.4,851.5 259.4,851.5 C261.4,851.6 263.5,851.6 265.5,851.7 C267.5,851.7 269.5,851.8 271.5,851.8 C273.5,851.9 275.5,851.9 277.5,852.0 C279.5,852.0 281.6,852.1 283.6,852.1 C285.6,852.2 287.6,852.2 289.6,852.3 C291.6,852.3 293.6,852.4 295.6,852.4 C297.7,852.5 299.7,852.5 301.7,852.6 C303.7,852.6 305.7,852.7 307.7,852.8 C309.7,852.8 311.7,852.9 313.7,852.9 C315.8,853.0 317.8,853.1 319.8,853.1 C321.8,853.2 323.8,853.3 325.8,853.3 C327.8,853.4 329.8,853.4 331.9,853.5 C333.9,853.6 335.9,853.6 337.9,853.7 C339.9,853.8 341.9,853.9 343.9,853.9 C345.9,854.0 347.9,854.1 350.0,854.1 C352.0,854.2 354.0,854.3 356.0,854.3 C358.0,854.4 360.0,854.5 362.0,854.6 C364.0,854.6 366.1,854.7 368.1,854.8 C370.1,854.9 372.1,854.9 374.1,855.0 C376.1,855.1 378.1,855.2 380.1,855.2 C382.1,855.3 384.2,855.4 386.2,855.5 C388.2,855.6 390.2,855.6 392.2,855.7 C394.2,855.8 396.2,855.9 398.2,856.0 C400.2,856.0 402.3,856.1 404.3,856.2 C406.3,856.3 408.3,856.4 410.3,856.4 C412.3,856.5 414.3,856.6 416.3,856.7 C418.4,856.8 420.4,856.9 422.4,856.9 C424.4,857.0 426.4,857.1 428.4,857.2 C430.4,857.3 432.4,857.4 434.4,857.4 C436.5,857.5 438.5,857.6 440.5,857.7 C442.5,857.8 444.5,857.9 446.5,858.0 C448.5,858.0 450.5,858.1 452.6,858.2 C454.6,858.3 456.6,858.4 458.6,858.5 C460.6,858.6 462.6,858.6 464.6,858.7 C466.6,858.8 468.6,858.9 470.7,859.0 C472.7,859.1 474.7,859.2 476.7,859.2 C478.7,859.3 480.7,859.4 482.7,859.5 C484.7,859.6 486.8,859.7 488.8,859.8 C490.8,859.8 492.8,859.9 494.8,860.0 C496.8,860.1 498.8,860.2 500.8,860.3 C502.8,860.4 504.9,860.4 506.9,860.5 C508.9,860.6 510.9,860.7 512.9,860.8 C514.9,860.9 516.9,861.0 518.9,861.0 C521.0,861.1 523.0,861.2 525.0,861.3 C527.0,861.4 529.0,861.5 531.0,861.5 C533.0,861.6 535.0,861.7 537.0,861.8 C539.1,861.9 541.1,862.0 543.1,862.0 C545.1,862.1 547.1,862.2 549.1,862.3 C551.1,862.4 553.1,862.5 555.2,862.5 C557.2,862.6 559.2,862.7 561.2,862.8 C563.2,862.9 565.2,862.9 567.2,863.0 C569.2,863.1 571.2,863.2 573.3,863.2 C575.3,863.3 577.3,863.4 579.3,863.5 C581.3,863.6 583.3,863.6 585.3,863.7 C587.3,863.8 589.4,863.9 591.4,863.9 C593.4,864.0 595.4,864.1 597.4,864.1 C599.4,864.2 601.4,864.3 603.4,864.4 C605.4,864.4 607.5,864.5 609.5,864.6 C611.5,864.6 613.5,864.7 615.5,864.8 C617.5,864.9 619.5,864.9 621.5,865.0 C623.6,865.1 625.6,865.1 627.6,865.2 C629.6,865.2 631.6,865.3 633.6,865.4 C635.6,865.4 637.6,865.5 639.6,865.6 C641.7,865.6 643.7,865.7 645.7,865.7 C647.7,865.8 649.7,865.9 651.7,865.9 C653.7,866.0 655.7,866.0 657.8,866.1 C659.8,866.1 661.8,866.2 663.8,866.3 C665.8,866.3 667.8,866.4 669.8,866.4 C671.8,866.5 673.8,866.5 675.9,866.6 C677.9,866.6 679.9,866.7 681.9,866.7 C683.9,866.8 685.9,866.8 687.9,866.8 C689.9,866.9 692.0,866.9 694.0,867.0 C696.0,867.0 698.0,867.0 700.0,867.1 C709.1,867.3 718.3,868.1 727.4,868.6 C731.6,868.8 735.8,869.0 740.0,869.2 C744.6,869.4 749.1,869.4 753.7,869.6 C758.3,869.8 762.8,870.4 767.4,871.2 C771.9,872.0 776.5,873.8 781.0,875.3 C785.6,876.8 790.1,878.4 794.7,880.1 C799.3,881.8 803.8,883.9 808.4,885.6 C813.0,887.3 817.5,888.9 822.1,890.4 C826.7,891.9 831.2,893.1 835.8,894.5 C840.3,895.9 844.9,897.4 849.4,898.6 C854.0,899.8 858.5,901.1 863.1,902.0 C867.7,902.9 872.2,903.7 876.8,904.4 C881.4,905.1 885.9,905.7 890.5,906.1 C895.1,906.5 899.6,907.2 904.2,907.2 C908.7,907.2 913.3,907.2 917.8,907.2 C925.5,907.2 933.3,906.7 941.0,906.2 C943.0,906.1 945.0,905.7 947.0,905.5 C949.0,905.2 951.0,905.0 953.0,904.8 C955.0,904.5 957.1,904.3 959.1,904.1 C961.1,903.9 963.1,903.6 965.1,903.4 C967.1,903.2 969.1,903.0 971.1,902.7 C973.1,902.5 975.1,902.3 977.1,902.1 C979.1,901.9 981.1,901.6 983.1,901.4 C985.1,901.2 987.2,901.0 989.2,900.8 C991.2,900.6 993.2,900.4 995.2,900.2 C997.2,900.0 999.2,899.7 1001.2,899.5 C1003.2,899.3 1005.2,899.1 1007.2,898.9 C1009.2,898.7 1011.2,898.5 1013.2,898.3 C1015.2,898.1 1017.3,898.0 1019.3,897.8 C1021.3,897.6 1023.3,897.4 1025.3,897.2 C1027.3,897.0 1029.3,896.8 1031.3,896.6 C1033.3,896.4 1035.3,896.3 1037.3,896.1 C1039.3,895.9 1041.3,895.7 1043.3,895.5 C1045.3,895.4 1047.4,895.2 1049.4,895.0 C1051.4,894.8 1053.4,894.7 1055.4,894.5 C1057.4,894.3 1059.4,894.1 1061.4,894.0 C1063.4,893.8 1065.4,893.6 1067.4,893.5 C1069.4,893.3 1071.4,893.1 1073.4,893.0 C1075.4,892.8 1077.5,892.7 1079.5,892.5 C1081.5,892.3 1083.5,892.2 1085.5,892.0 C1087.5,891.9 1089.5,891.7 1091.5,891.6 C1093.5,891.4 1095.5,891.3 1097.5,891.1 C1099.5,891.0 1101.5,890.8 1103.5,890.7 C1105.5,890.5 1107.6,890.4 1109.6,890.2 C1111.6,890.1 1113.6,889.9 1115.6,889.8 C1117.6,889.7 1119.6,889.5 1121.6,889.4 C1123.6,889.3 1125.6,889.1 1127.6,889.0 C1129.6,888.9 1131.6,888.7 1133.6,888.6 C1135.6,888.5 1137.7,888.3 1139.7,888.2 C1141.7,888.1 1143.7,887.9 1145.7,887.8 C1147.7,887.7 1149.7,887.6 1151.7,887.4 C1153.7,887.3 1155.7,887.2 1157.7,887.1 C1159.7,887.0 1161.7,886.8 1163.7,886.7 C1165.7,886.6 1167.8,886.5 1169.8,886.4 C1171.8,886.3 1173.8,886.2 1175.8,886.0 C1177.8,885.9 1179.8,885.8 1181.8,885.7 C1183.8,885.6 1185.8,885.5 1187.8,885.4 C1189.8,885.3 1191.8,885.2 1193.8,885.1 C1195.8,885.0 1197.9,884.9 1199.9,884.8 C1201.9,884.7 1203.9,884.6 1205.9,884.5 C1207.9,884.4 1209.9,884.3 1211.9,884.2 C1213.9,884.1 1215.9,884.0 1217.9,883.9 C1219.9,883.8 1221.9,883.7 1223.9,883.6 C1225.9,883.6 1228.0,883.5 1230.0,883.4 C1232.0,883.3 1234.0,883.2 1236.0,883.1 C1238.0,883.0 1240.0,882.9 1242.0,882.9 C1244.0,882.8 1246.0,882.7 1248.0,882.6 C1250.0,882.5 1252.0,882.5 1254.0,882.4 C1256.0,882.3 1258.1,882.2 1260.1,882.2 C1262.1,882.1 1264.1,882.0 1266.1,881.9 C1268.1,881.9 1270.1,881.8 1272.1,881.7 C1274.1,881.6 1276.1,881.6 1278.1,881.5 C1280.1,881.4 1282.1,881.4 1284.1,881.3 C1286.1,881.2 1288.2,881.2 1290.2,881.1 C1292.2,881.0 1294.2,881.0 1296.2,880.9 C1298.2,880.9 1300.2,880.8 1302.2,880.7 C1304.2,880.7 1306.2,880.6 1308.2,880.6 C1310.2,880.5 1312.2,880.4 1314.2,880.4 C1316.2,880.3 1318.3,880.3 1320.3,880.2 C1322.3,880.2 1324.3,880.1 1326.3,880.1 C1328.3,880.0 1330.3,880.0 1332.3,879.9 C1334.3,879.9 1336.3,879.8 1338.3,879.8 C1340.3,879.7 1342.3,879.7 1344.3,879.6 C1346.3,879.6 1348.4,879.5 1350.4,879.5 C1352.4,879.5 1354.4,879.4 1356.4,879.4 C1358.4,879.3 1360.4,879.3 1362.4,879.2 C1364.4,879.2 1366.4,879.2 1368.4,879.1 C1370.4,879.1 1372.4,879.1 1374.4,879.0 C1376.4,879.0 1378.5,878.9 1380.5,878.9 C1382.5,878.9 1384.5,878.8 1386.5,878.8 C1388.5,878.8 1390.5,878.7 1392.5,878.7 C1394.5,878.7 1396.5,878.7 1398.5,878.6 C1400.5,878.6 1402.5,878.6 1404.5,878.5 C1406.5,878.5 1408.6,878.5 1410.6,878.5 C1412.6,878.4 1414.6,878.4 1416.6,878.4 C1418.6,878.4 1420.6,878.3 1422.6,878.3 C1424.6,878.3 1426.6,878.3 1428.6,878.2 C1430.6,878.2 1432.6,878.2 1434.6,878.2 C1436.6,878.2 1438.7,878.1 1440.7,878.1 C1442.7,878.1 1444.7,878.1 1446.7,878.1 C1448.7,878.1 1450.7,878.0 1452.7,878.0 C1454.7,878.0 1456.7,878.0 1458.7,878.0 C1460.7,878.0 1462.7,877.9 1464.7,877.9 C1466.7,877.9 1468.8,877.9 1470.8,877.9 C1472.8,877.9 1474.8,877.9 1476.8,877.9 C1478.8,877.9 1480.8,877.8 1482.8,877.8 C1484.8,877.8 1486.8,877.8 1488.8,877.8 C1490.8,877.8 1492.8,877.8 1494.8,877.8 C1496.8,877.8 1498.9,877.8 1500.9,877.8 C1502.9,877.8 1504.9,877.8 1506.9,877.8 C1508.9,877.8 1510.9,877.7 1512.9,877.7 C1514.9,877.7 1516.9,877.7 1518.9,877.7 C1520.9,877.7 1522.9,877.7 1524.9,877.7 C1526.9,877.7 1529.0,877.7 1531.0,877.7 C1533.0,877.7 1535.0,877.7 1537.0,877.7 C1539.0,877.7 1541.0,877.7 1543.0,877.7 C1545.0,877.7 1547.0,877.7 1549.0,877.7 C1551.0,877.7 1553.0,877.7 1555.0,877.7 C1557.0,877.8 1559.1,877.8 1561.1,877.8 C1563.1,877.8 1565.1,877.8 1567.1,877.8 C1569.1,877.8 1571.1,877.8 1573.1,877.8 C1575.1,877.8 1577.1,877.8 1579.1,877.8 C1581.1,877.8 1583.1,877.8 1585.1,877.8 C1587.1,877.8 1589.2,877.9 1591.2,877.9 C1593.2,877.9 1595.2,877.9 1597.2,877.9 C1599.2,877.9 1601.2,877.9 1603.2,877.9 C1605.2,877.9 1607.2,877.9 1609.2,877.9 C1611.2,878.0 1613.2,878.0 1615.2,878.0 C1617.2,878.0 1619.3,878.0 1621.3,878.0 C1623.3,878.0 1625.3,878.0 1627.3,878.0 C1629.3,878.1 1631.3,878.1 1633.3,878.1 C1635.3,878.1 1637.3,878.1 1639.3,878.1 C1641.3,878.1 1643.3,878.1 1645.3,878.2 C1647.3,878.2 1649.4,878.2 1651.4,878.2 C1653.4,878.2 1655.4,878.2 1657.4,878.2 C1659.4,878.3 1661.4,878.3 1663.4,878.3 C1665.4,878.3 1667.4,878.3 1669.4,878.3 C1671.4,878.3 1673.4,878.4 1675.4,878.4 C1677.4,878.4 1679.5,878.4 1681.5,878.4 C1683.5,878.4 1685.5,878.5 1687.5,878.5 C1689.5,878.5 1691.5,878.5 1693.5,878.5 C1695.5,878.5 1697.5,878.6 1699.5,878.6 C1701.5,878.6 1703.5,878.6 1705.5,878.6 C1707.5,878.6 1709.6,878.7 1711.6,878.7 C1713.6,878.7 1715.6,878.7 1717.6,878.7 C1719.6,878.7 1721.6,878.8 1723.6,878.8 C1725.6,878.8 1727.6,878.8 1729.6,878.8 C1731.6,878.8 1733.6,878.9 1735.6,878.9 C1737.6,878.9 1739.7,878.9 1741.7,878.9 C1743.7,878.9 1745.7,879.0 1747.7,879.0 C1749.7,879.0 1751.7,879.0 1753.7,879.0 C1755.7,879.0 1757.7,879.1 1759.7,879.1 C1761.7,879.1 1763.7,879.1 1765.7,879.1 C1767.7,879.1 1769.8,879.2 1771.8,879.2 C1773.8,879.2 1775.8,879.2 1777.8,879.2 C1779.8,879.2 1781.8,879.3 1783.8,879.3 C1785.8,879.3 1787.8,879.3 1789.8,879.3 C1791.8,879.3 1793.8,879.4 1795.8,879.4 C1797.8,879.4 1799.9,879.4 1801.9,879.4 C1803.9,879.4 1805.9,879.4 1807.9,879.5 C1809.9,879.5 1811.9,879.5 1813.9,879.5 C1815.9,879.5 1817.9,879.5 1819.9,879.5 C1821.9,879.6 1823.9,879.6 1825.9,879.6 C1827.9,879.6 1830.0,879.6 1832.0,879.6 C1834.0,879.6 1836.0,879.7 1838.0,879.7 C1840.0,879.7 1842.0,879.7 1844.0,879.7 C1846.0,879.7 1848.0,879.7 1850.0,879.7 C1852.0,879.8 1854.0,879.8 1856.0,879.8 C1858.0,879.8 1860.1,879.8 1862.1,879.8 C1864.1,879.8 1866.1,879.8 1868.1,879.8 C1870.1,879.8 1872.1,879.9 1874.1,879.9 C1876.1,879.9 1878.1,879.9 1880.1,879.9 C1882.1,879.9 1884.1,879.9 1886.1,879.9 C1888.1,879.9 1890.2,879.9 1892.2,879.9 C1894.2,879.9 1896.2,880.0 1898.2,880.0 C1900.2,880.0 1902.2,880.0 1904.2,880.0 C1906.2,880.0 1908.2,880.0 1910.2,880.0 C1912.2,880.0 1914.2,880.0 1916.2,880.0 C1918.2,880.0 1920.3,880.0 1922.3,880.0 C1924.3,880.0 1926.3,880.0 1928.3,880.0 C1930.3,880.0 1932.3,880.0 1934.3,880.0" fill="none" stroke="#CD8E00" stroke-width="8.6" stroke-linecap="butt" stroke-linejoin="round"/>
<circle cx="1934.3" cy="880.0" r="4.3" fill="#CD8E00"/>
<path d="M66.3,1048.4 C68.3,1048.2 70.3,1048.1 72.3,1047.9 C74.3,1047.7 76.3,1047.6 78.3,1047.4 C80.4,1047.3 82.4,1047.1 84.4,1047.0 C86.4,1046.8 88.4,1046.7 90.4,1046.5 C92.4,1046.4 94.4,1046.2 96.4,1046.1 C98.4,1045.9 100.4,1045.8 102.4,1045.6 C104.5,1045.5 106.5,1045.4 108.5,1045.2 C110.5,1045.1 112.5,1045.0 114.5,1044.8 C116.5,1044.7 118.5,1044.6 120.5,1044.4 C122.5,1044.3 124.5,1044.2 126.5,1044.1 C128.5,1043.9 130.6,1043.8 132.6,1043.7 C134.6,1043.6 136.6,1043.4 138.6,1043.3 C140.6,1043.2 142.6,1043.1 144.6,1043.0 C146.6,1042.9 148.6,1042.7 150.6,1042.6 C152.6,1042.5 154.7,1042.4 156.7,1042.3 C158.7,1042.2 160.7,1042.1 162.7,1042.0 C164.7,1041.9 166.7,1041.8 168.7,1041.7 C170.7,1041.6 172.7,1041.5 174.7,1041.4 C176.7,1041.3 178.7,1041.2 180.8,1041.1 C182.8,1041.0 184.8,1040.9 186.8,1040.8 C188.8,1040.7 190.8,1040.6 192.8,1040.6 C194.8,1040.5 196.8,1040.4 198.8,1040.3 C200.8,1040.2 202.8,1040.1 204.9,1040.1 C206.9,1040.0 208.9,1039.9 210.9,1039.8 C212.9,1039.7 214.9,1039.7 216.9,1039.6 C218.9,1039.5 220.9,1039.5 222.9,1039.4 C224.9,1039.3 226.9,1039.2 228.9,1039.2 C231.0,1039.1 233.0,1039.1 235.0,1039.0 C237.0,1038.9 239.0,1038.9 241.0,1038.8 C243.0,1038.7 245.0,1038.7 247.0,1038.6 C249.0,1038.6 251.0,1038.5 253.0,1038.5 C255.1,1038.4 257.1,1038.4 259.1,1038.3 C261.1,1038.3 263.1,1038.2 265.1,1038.2 C267.1,1038.1 269.1,1038.1 271.1,1038.0 C273.1,1038.0 275.1,1037.9 277.1,1037.9 C279.1,1037.9 281.2,1037.8 283.2,1037.8 C285.2,1037.8 287.2,1037.7 289.2,1037.7 C291.2,1037.7 293.2,1037.6 295.2,1037.6 C297.2,1037.6 299.2,1037.5 301.2,1037.5 C303.2,1037.5 305.3,1037.5 307.3,1037.4 C309.3,1037.4 311.3,1037.4 313.3,1037.4 C315.3,1037.3 317.3,1037.3 319.3,1037.3 C321.3,1037.3 323.3,1037.3 325.3,1037.3 C327.3,1037.2 329.3,1037.2 331.4,1037.2 C333.4,1037.2 335.4,1037.2 337.4,1037.2 C339.4,1037.2 341.4,1037.2 343.4,1037.2 C345.4,1037.2 347.4,1037.1 349.4,1037.1 C351.4,1037.1 353.4,1037.1 355.5,1037.1 C357.5,1037.1 359.5,1037.1 361.5,1037.1 C363.5,1037.1 365.5,1037.2 367.5,1037.2 C369.5,1037.2 371.5,1037.2 373.5,1037.2 C375.5,1037.2 377.5,1037.2 379.5,1037.2 C381.6,1037.2 383.6,1037.2 385.6,1037.3 C387.6,1037.3 389.6,1037.3 391.6,1037.3 C393.6,1037.3 395.6,1037.3 397.6,1037.4 C399.6,1037.4 401.6,1037.4 403.6,1037.4 C405.6,1037.4 407.7,1037.5 409.7,1037.5 C411.7,1037.5 413.7,1037.5 415.7,1037.6 C417.7,1037.6 419.7,1037.6 421.7,1037.7 C423.7,1037.7 425.7,1037.7 427.7,1037.8 C429.7,1037.8 431.8,1037.8 433.8,1037.9 C435.8,1037.9 437.8,1037.9 439.8,1038.0 C441.8,1038.0 443.8,1038.1 445.8,1038.1 C447.8,1038.1 449.8,1038.2 451.8,1038.2 C453.8,1038.3 455.8,1038.3 457.9,1038.4 C459.9,1038.4 461.9,1038.5 463.9,1038.5 C465.9,1038.6 467.9,1038.6 469.9,1038.7 C471.9,1038.7 473.9,1038.8 475.9,1038.8 C477.9,1038.9 479.9,1038.9 482.0,1039.0 C484.0,1039.0 486.0,1039.1 488.0,1039.1 C490.0,1039.2 492.0,1039.3 494.0,1039.3 C496.0,1039.4 498.0,1039.4 500.0,1039.5 C502.0,1039.6 504.0,1039.6 506.0,1039.7 C508.1,1039.7 510.1,1039.8 512.1,1039.9 C514.1,1039.9 516.1,1040.0 518.1,1040.1 C520.1,1040.1 522.1,1040.2 524.1,1040.3 C526.1,1040.3 528.1,1040.4 530.1,1040.5 C532.2,1040.6 534.2,1040.6 536.2,1040.7 C538.2,1040.8 540.2,1040.9 542.2,1040.9 C544.2,1041.0 546.2,1041.1 548.2,1041.2 C550.2,1041.2 552.2,1041.3 554.2,1041.4 C556.2,1041.5 558.3,1041.5 560.3,1041.6 C562.3,1041.7 564.3,1041.8 566.3,1041.9 C568.3,1041.9 570.3,1042.0 572.3,1042.1 C574.3,1042.2 576.3,1042.3 578.3,1042.4 C580.3,1042.4 582.4,1042.5 584.4,1042.6 C586.4,1042.7 588.4,1042.8 590.4,1042.9 C592.4,1043.0 594.4,1043.1 596.4,1043.1 C598.4,1043.2 600.4,1043.3 602.4,1043.4 C604.4,1043.5 606.4,1043.6 608.5,1043.7 C610.5,1043.8 612.5,1043.9 614.5,1044.0 C616.5,1044.1 618.5,1044.1 620.5,1044.2 C622.5,1044.3 624.5,1044.4 626.5,1044.5 C628.5,1044.6 630.5,1044.7 632.6,1044.8 C634.6,1044.9 636.6,1045.0 638.6,1045.1 C640.6,1045.2 642.6,1045.3 644.6,1045.4 C652.8,1045.8 661.0,1046.2 669.2,1046.7 C677.4,1047.2 685.7,1047.9 693.9,1048.9 C702.1,1049.9 710.3,1051.8 718.5,1053.3 C726.7,1054.8 734.9,1056.9 743.1,1058.2 C751.3,1059.5 759.5,1060.6 767.7,1061.4 C775.9,1062.2 784.2,1062.9 792.4,1063.2 C800.6,1063.5 808.8,1063.9 817.0,1063.9 C825.2,1063.9 833.4,1063.8 841.6,1063.7 C849.8,1063.6 858.0,1062.9 866.2,1062.4 C874.4,1061.9 882.7,1061.3 890.9,1060.7 C899.1,1060.1 907.3,1059.5 915.5,1059.0 C923.7,1058.5 931.9,1058.1 940.1,1057.8 C953.4,1057.3 966.7,1056.8 980.0,1056.5 C982.0,1056.4 984.0,1056.4 986.0,1056.4 C988.0,1056.3 990.0,1056.3 992.0,1056.2 C994.0,1056.2 996.0,1056.1 998.0,1056.1 C1000.0,1056.0 1002.1,1056.0 1004.1,1055.9 C1006.1,1055.9 1008.1,1055.9 1010.1,1055.8 C1012.1,1055.8 1014.1,1055.7 1016.1,1055.7 C1018.1,1055.6 1020.1,1055.6 1022.1,1055.6 C1024.1,1055.5 1026.1,1055.5 1028.1,1055.4 C1030.1,1055.4 1032.1,1055.3 1034.1,1055.3 C1036.1,1055.3 1038.1,1055.2 1040.1,1055.2 C1042.2,1055.1 1044.2,1055.1 1046.2,1055.0 C1048.2,1055.0 1050.2,1055.0 1052.2,1054.9 C1054.2,1054.9 1056.2,1054.8 1058.2,1054.8 C1060.2,1054.8 1062.2,1054.7 1064.2,1054.7 C1066.2,1054.6 1068.2,1054.6 1070.2,1054.6 C1072.2,1054.5 1074.2,1054.5 1076.2,1054.4 C1078.2,1054.4 1080.2,1054.4 1082.2,1054.3 C1084.3,1054.3 1086.3,1054.3 1088.3,1054.2 C1090.3,1054.2 1092.3,1054.1 1094.3,1054.1 C1096.3,1054.1 1098.3,1054.0 1100.3,1054.0 C1102.3,1054.0 1104.3,1053.9 1106.3,1053.9 C1108.3,1053.9 1110.3,1053.8 1112.3,1053.8 C1114.3,1053.7 1116.3,1053.7 1118.3,1053.7 C1120.3,1053.6 1122.3,1053.6 1124.4,1053.6 C1126.4,1053.5 1128.4,1053.5 1130.4,1053.5 C1132.4,1053.4 1134.4,1053.4 1136.4,1053.4 C1138.4,1053.3 1140.4,1053.3 1142.4,1053.3 C1144.4,1053.2 1146.4,1053.2 1148.4,1053.2 C1150.4,1053.1 1152.4,1053.1 1154.4,1053.1 C1156.4,1053.0 1158.4,1053.0 1160.4,1053.0 C1162.4,1052.9 1164.5,1052.9 1166.5,1052.9 C1168.5,1052.8 1170.5,1052.8 1172.5,1052.8 C1174.5,1052.8 1176.5,1052.7 1178.5,1052.7 C1180.5,1052.7 1182.5,1052.6 1184.5,1052.6 C1186.5,1052.6 1188.5,1052.5 1190.5,1052.5 C1192.5,1052.5 1194.5,1052.5 1196.5,1052.4 C1198.5,1052.4 1200.5,1052.4 1202.5,1052.3 C1204.5,1052.3 1206.6,1052.3 1208.6,1052.3 C1210.6,1052.2 1212.6,1052.2 1214.6,1052.2 C1216.6,1052.1 1218.6,1052.1 1220.6,1052.1 C1222.6,1052.1 1224.6,1052.0 1226.6,1052.0 C1228.6,1052.0 1230.6,1052.0 1232.6,1051.9 C1234.6,1051.9 1236.6,1051.9 1238.6,1051.8 C1240.6,1051.8 1242.6,1051.8 1244.6,1051.8 C1246.7,1051.7 1248.7,1051.7 1250.7,1051.7 C1252.7,1051.7 1254.7,1051.6 1256.7,1051.6 C1258.7,1051.6 1260.7,1051.6 1262.7,1051.5 C1264.7,1051.5 1266.7,1051.5 1268.7,1051.5 C1270.7,1051.4 1272.7,1051.4 1274.7,1051.4 C1276.7,1051.4 1278.7,1051.4 1280.7,1051.3 C1282.7,1051.3 1284.7,1051.3 1286.8,1051.3 C1288.8,1051.2 1290.8,1051.2 1292.8,1051.2 C1294.8,1051.2 1296.8,1051.1 1298.8,1051.1 C1300.8,1051.1 1302.8,1051.1 1304.8,1051.1 C1306.8,1051.0 1308.8,1051.0 1310.8,1051.0 C1312.8,1051.0 1314.8,1051.0 1316.8,1050.9 C1318.8,1050.9 1320.8,1050.9 1322.8,1050.9 C1324.8,1050.9 1326.8,1050.8 1328.9,1050.8 C1330.9,1050.8 1332.9,1050.8 1334.9,1050.7 C1336.9,1050.7 1338.9,1050.7 1340.9,1050.7 C1342.9,1050.7 1344.9,1050.7 1346.9,1050.6 C1348.9,1050.6 1350.9,1050.6 1352.9,1050.6 C1354.9,1050.6 1356.9,1050.5 1358.9,1050.5 C1360.9,1050.5 1362.9,1050.5 1364.9,1050.5 C1366.9,1050.4 1369.0,1050.4 1371.0,1050.4 C1373.0,1050.4 1375.0,1050.4 1377.0,1050.4 C1379.0,1050.3 1381.0,1050.3 1383.0,1050.3 C1385.0,1050.3 1387.0,1050.3 1389.0,1050.3 C1391.0,1050.2 1393.0,1050.2 1395.0,1050.2 C1397.0,1050.2 1399.0,1050.2 1401.0,1050.2 C1403.0,1050.1 1405.0,1050.1 1407.0,1050.1 C1409.0,1050.1 1411.1,1050.1 1413.1,1050.1 C1415.1,1050.1 1417.1,1050.0 1419.1,1050.0 C1421.1,1050.0 1423.1,1050.0 1425.1,1050.0 C1427.1,1050.0 1429.1,1050.0 1431.1,1049.9 C1433.1,1049.9 1435.1,1049.9 1437.1,1049.9 C1439.1,1049.9 1441.1,1049.9 1443.1,1049.9 C1445.1,1049.8 1447.1,1049.8 1449.1,1049.8 C1451.2,1049.8 1453.2,1049.8 1455.2,1049.8 C1457.2,1049.8 1459.2,1049.7 1461.2,1049.7 C1463.2,1049.7 1465.2,1049.7 1467.2,1049.7 C1469.2,1049.7 1471.2,1049.7 1473.2,1049.7 C1475.2,1049.6 1477.2,1049.6 1479.2,1049.6 C1481.2,1049.6 1483.2,1049.6 1485.2,1049.6 C1487.2,1049.6 1489.2,1049.6 1491.2,1049.6 C1493.3,1049.5 1495.3,1049.5 1497.3,1049.5 C1499.3,1049.5 1501.3,1049.5 1503.3,1049.5 C1505.3,1049.5 1507.3,1049.5 1509.3,1049.5 C1511.3,1049.4 1513.3,1049.4 1515.3,1049.4 C1517.3,1049.4 1519.3,1049.4 1521.3,1049.4 C1523.3,1049.4 1525.3,1049.4 1527.3,1049.4 C1529.3,1049.4 1531.3,1049.3 1533.4,1049.3 C1535.4,1049.3 1537.4,1049.3 1539.4,1049.3 C1541.4,1049.3 1543.4,1049.3 1545.4,1049.3 C1547.4,1049.3 1549.4,1049.3 1551.4,1049.3 C1553.4,1049.2 1555.4,1049.2 1557.4,1049.2 C1559.4,1049.2 1561.4,1049.2 1563.4,1049.2 C1565.4,1049.2 1567.4,1049.2 1569.4,1049.2 C1571.4,1049.2 1573.5,1049.2 1575.5,1049.2 C1577.5,1049.1 1579.5,1049.1 1581.5,1049.1 C1583.5,1049.1 1585.5,1049.1 1587.5,1049.1 C1589.5,1049.1 1591.5,1049.1 1593.5,1049.1 C1595.5,1049.1 1597.5,1049.1 1599.5,1049.1 C1601.5,1049.1 1603.5,1049.1 1605.5,1049.0 C1607.5,1049.0 1609.5,1049.0 1611.5,1049.0 C1613.5,1049.0 1615.6,1049.0 1617.6,1049.0 C1619.6,1049.0 1621.6,1049.0 1623.6,1049.0 C1625.6,1049.0 1627.6,1049.0 1629.6,1049.0 C1631.6,1049.0 1633.6,1049.0 1635.6,1049.0 C1637.6,1049.0 1639.6,1048.9 1641.6,1048.9 C1643.6,1048.9 1645.6,1048.9 1647.6,1048.9 C1649.6,1048.9 1651.6,1048.9 1653.6,1048.9 C1655.7,1048.9 1657.7,1048.9 1659.7,1048.9 C1661.7,1048.9 1663.7,1048.9 1665.7,1048.9 C1667.7,1048.9 1669.7,1048.9 1671.7,1048.9 C1673.7,1048.9 1675.7,1048.9 1677.7,1048.9 C1679.7,1048.9 1681.7,1048.8 1683.7,1048.8 C1685.7,1048.8 1687.7,1048.8 1689.7,1048.8 C1691.7,1048.8 1693.7,1048.8 1695.8,1048.8 C1697.8,1048.8 1699.8,1048.8 1701.8,1048.8 C1703.8,1048.8 1705.8,1048.8 1707.8,1048.8 C1709.8,1048.8 1711.8,1048.8 1713.8,1048.8 C1715.8,1048.8 1717.8,1048.8 1719.8,1048.8 C1721.8,1048.8 1723.8,1048.8 1725.8,1048.8 C1727.8,1048.8 1729.8,1048.8 1731.8,1048.8 C1733.8,1048.8 1735.8,1048.8 1737.9,1048.8 C1739.9,1048.8 1741.9,1048.8 1743.9,1048.7 C1745.9,1048.7 1747.9,1048.7 1749.9,1048.7 C1751.9,1048.7 1753.9,1048.7 1755.9,1048.7 C1757.9,1048.7 1759.9,1048.7 1761.9,1048.7 C1763.9,1048.7 1765.9,1048.7 1767.9,1048.7 C1769.9,1048.7 1771.9,1048.7 1773.9,1048.7 C1775.9,1048.7 1778.0,1048.7 1780.0,1048.7 C1782.0,1048.7 1784.0,1048.7 1786.0,1048.7 C1788.0,1048.7 1790.0,1048.7 1792.0,1048.7 C1794.0,1048.7 1796.0,1048.7 1798.0,1048.7 C1806.9,1048.7 1815.8,1051.3 1824.7,1051.4 C1862.5,1051.7 1900.2,1051.7 1938.0,1051.8" fill="none" stroke="#00B050" stroke-width="8.6" stroke-linecap="butt" stroke-linejoin="round"/>
<circle cx="1938.0" cy="1051.8" r="4.3" fill="#00B050"/>
<path d="M66.3,1237.2 C68.3,1237.3 70.3,1237.4 72.3,1237.4 C74.3,1237.5 76.3,1237.6 78.3,1237.6 C80.3,1237.7 82.3,1237.8 84.4,1237.9 C86.4,1237.9 88.4,1238.0 90.4,1238.1 C92.4,1238.1 94.4,1238.2 96.4,1238.3 C98.4,1238.3 100.4,1238.4 102.4,1238.5 C104.4,1238.5 106.4,1238.6 108.4,1238.7 C110.4,1238.7 112.4,1238.8 114.4,1238.8 C116.4,1238.9 118.5,1239.0 120.5,1239.0 C122.5,1239.1 124.5,1239.2 126.5,1239.2 C128.5,1239.3 130.5,1239.4 132.5,1239.4 C134.5,1239.5 136.5,1239.5 138.5,1239.6 C140.5,1239.7 142.5,1239.7 144.5,1239.8 C146.5,1239.8 148.5,1239.9 150.5,1240.0 C152.6,1240.0 154.6,1240.1 156.6,1240.1 C158.6,1240.2 160.6,1240.2 162.6,1240.3 C164.6,1240.4 166.6,1240.4 168.6,1240.5 C170.6,1240.5 172.6,1240.6 174.6,1240.6 C176.6,1240.7 178.6,1240.8 180.6,1240.8 C182.6,1240.9 184.6,1240.9 186.7,1241.0 C188.7,1241.0 190.7,1241.1 192.7,1241.1 C194.7,1241.2 196.7,1241.2 198.7,1241.3 C200.7,1241.3 202.7,1241.4 204.7,1241.4 C206.7,1241.5 208.7,1241.6 210.7,1241.6 C212.7,1241.7 214.7,1241.7 216.7,1241.8 C218.7,1241.8 220.7,1241.9 222.8,1241.9 C224.8,1242.0 226.8,1242.0 228.8,1242.1 C230.8,1242.1 232.8,1242.2 234.8,1242.2 C236.8,1242.3 238.8,1242.3 240.8,1242.3 C242.8,1242.4 244.8,1242.4 246.8,1242.5 C248.8,1242.5 250.8,1242.6 252.8,1242.6 C254.8,1242.7 256.9,1242.7 258.9,1242.8 C260.9,1242.8 262.9,1242.9 264.9,1242.9 C266.9,1243.0 268.9,1243.0 270.9,1243.0 C272.9,1243.1 274.9,1243.1 276.9,1243.2 C278.9,1243.2 280.9,1243.3 282.9,1243.3 C284.9,1243.3 286.9,1243.4 288.9,1243.4 C291.0,1243.5 293.0,1243.5 295.0,1243.6 C297.0,1243.6 299.0,1243.6 301.0,1243.7 C303.0,1243.7 305.0,1243.8 307.0,1243.8 C309.0,1243.9 311.0,1243.9 313.0,1243.9 C315.0,1244.0 317.0,1244.0 319.0,1244.1 C321.0,1244.1 323.0,1244.1 325.1,1244.2 C327.1,1244.2 329.1,1244.3 331.1,1244.3 C333.1,1244.3 335.1,1244.4 337.1,1244.4 C339.1,1244.5 341.1,1244.5 343.1,1244.5 C345.1,1244.6 347.1,1244.6 349.1,1244.6 C351.1,1244.7 353.1,1244.7 355.1,1244.8 C357.1,1244.8 359.2,1244.8 361.2,1244.9 C363.2,1244.9 365.2,1244.9 367.2,1245.0 C369.2,1245.0 371.2,1245.0 373.2,1245.1 C375.2,1245.1 377.2,1245.2 379.2,1245.2 C381.2,1245.2 383.2,1245.3 385.2,1245.3 C387.2,1245.3 389.2,1245.4 391.2,1245.4 C393.3,1245.4 395.3,1245.5 397.3,1245.5 C399.3,1245.5 401.3,1245.6 403.3,1245.6 C405.3,1245.6 407.3,1245.7 409.3,1245.7 C411.3,1245.7 413.3,1245.8 415.3,1245.8 C417.3,1245.8 419.3,1245.9 421.3,1245.9 C423.3,1245.9 425.3,1246.0 427.4,1246.0 C429.4,1246.0 431.4,1246.1 433.4,1246.1 C435.4,1246.1 437.4,1246.2 439.4,1246.2 C441.4,1246.2 443.4,1246.3 445.4,1246.3 C447.4,1246.3 449.4,1246.4 451.4,1246.4 C453.4,1246.4 455.4,1246.4 457.4,1246.5 C459.4,1246.5 461.5,1246.5 463.5,1246.6 C465.5,1246.6 467.5,1246.6 469.5,1246.7 C471.5,1246.7 473.5,1246.7 475.5,1246.8 C477.5,1246.8 479.5,1246.8 481.5,1246.8 C483.5,1246.9 485.5,1246.9 487.5,1246.9 C489.5,1247.0 491.5,1247.0 493.5,1247.0 C495.6,1247.1 497.6,1247.1 499.6,1247.1 C501.6,1247.1 503.6,1247.2 505.6,1247.2 C507.6,1247.2 509.6,1247.3 511.6,1247.3 C513.6,1247.3 515.6,1247.3 517.6,1247.4 C519.6,1247.4 521.6,1247.4 523.6,1247.5 C525.6,1247.5 527.6,1247.5 529.6,1247.5 C531.7,1247.6 533.7,1247.6 535.7,1247.6 C537.7,1247.7 539.7,1247.7 541.7,1247.7 C543.7,1247.7 545.7,1247.8 547.7,1247.8 C549.7,1247.8 551.7,1247.9 553.7,1247.9 C555.7,1247.9 557.7,1247.9 559.7,1248.0 C561.7,1248.0 563.7,1248.0 565.8,1248.0 C567.8,1248.1 569.8,1248.1 571.8,1248.1 C573.8,1248.2 575.8,1248.2 577.8,1248.2 C579.8,1248.2 581.8,1248.3 583.8,1248.3 C585.8,1248.3 587.8,1248.4 589.8,1248.4 C591.8,1248.4 593.8,1248.4 595.8,1248.5 C597.8,1248.5 599.9,1248.5 601.9,1248.5 C603.9,1248.6 605.9,1248.6 607.9,1248.6 C609.9,1248.7 611.9,1248.7 613.9,1248.7 C615.9,1248.7 617.9,1248.8 619.9,1248.8 C621.9,1248.8 623.9,1248.8 625.9,1248.9 C627.9,1248.9 629.9,1248.9 631.9,1249.0 C634.0,1249.0 636.0,1249.0 638.0,1249.0 C640.0,1249.1 642.0,1249.1 644.0,1249.1 C646.0,1249.1 648.0,1249.2 650.0,1249.2 C659.1,1249.4 668.3,1249.7 677.4,1250.1 C686.5,1250.5 695.6,1251.4 704.7,1252.5 C713.8,1253.6 723.0,1255.0 732.1,1257.5 C738.5,1259.2 744.8,1266.5 751.2,1266.5 C751.9,1266.5 752.6,1266.5 753.3,1266.5 C754.0,1266.5 754.7,1266.5 755.4,1266.5 C756.1,1266.5 756.8,1266.5 757.5,1266.4 C758.2,1266.4 758.9,1266.4 759.6,1266.4 C760.3,1266.4 761.0,1266.4 761.7,1266.4 C762.4,1266.4 763.1,1266.4 763.8,1266.4 C764.5,1266.4 765.2,1266.4 765.9,1266.4 C766.6,1266.4 767.3,1266.4 768.0,1266.4 C768.7,1266.4 769.3,1266.3 770.0,1266.3 C770.7,1266.3 771.4,1266.3 772.1,1266.3 C772.8,1266.3 773.5,1266.3 774.2,1266.3 C774.9,1266.3 775.6,1266.3 776.3,1266.3 C777.0,1266.3 777.7,1266.3 778.4,1266.3 C779.1,1266.3 779.8,1266.3 780.5,1266.3 C781.2,1266.2 781.9,1266.2 782.6,1266.2 C783.3,1266.2 784.0,1266.2 784.7,1266.2 C785.4,1266.2 786.1,1266.2 786.8,1266.2 C787.5,1266.2 788.2,1266.2 788.8,1266.2 C789.5,1266.2 790.2,1266.2 790.9,1266.2 C791.6,1266.2 792.3,1266.1 792.9,1266.1 C793.6,1266.1 794.3,1266.1 795.0,1266.1 C795.7,1266.1 796.4,1266.1 797.0,1266.1 C797.7,1266.1 798.4,1266.1 799.1,1266.1 C799.8,1266.1 800.5,1266.1 801.1,1266.1 C801.8,1266.1 802.5,1266.1 803.2,1266.1 C803.9,1266.0 804.6,1266.0 805.2,1266.0 C805.9,1266.0 806.6,1266.0 807.3,1266.0 C808.0,1266.0 808.7,1266.0 809.4,1266.0 C810.0,1266.0 810.7,1266.0 811.4,1266.0 C812.1,1266.0 812.8,1266.0 813.5,1266.0 C814.1,1266.0 814.8,1265.9 815.5,1265.9 C816.2,1265.9 816.9,1265.9 817.6,1265.9 C818.2,1265.9 818.9,1265.9 819.6,1265.9 C820.3,1265.9 821.0,1265.5 821.6,1265.2 C822.3,1265.0 823.0,1264.8 823.7,1264.6 C824.4,1264.3 825.1,1264.1 825.8,1263.9 C826.4,1263.7 827.1,1263.2 827.8,1263.2 C828.6,1263.2 829.3,1263.2 830.1,1263.3 C830.8,1263.3 831.6,1263.3 832.4,1263.3 C833.1,1263.4 833.9,1263.4 834.6,1263.4 C835.4,1263.4 836.2,1263.4 836.9,1263.5 C837.7,1263.5 838.5,1263.5 839.2,1263.5 C840.0,1263.6 840.7,1263.6 841.5,1263.6 C842.2,1263.6 842.9,1264.7 843.5,1265.2 C844.2,1265.7 844.9,1266.6 845.6,1266.8 C846.3,1267.0 846.9,1267.0 847.6,1267.1 C848.2,1267.2 848.9,1267.4 849.6,1267.5 C850.2,1267.6 850.9,1267.7 851.5,1267.8 C852.2,1267.9 852.9,1268.0 853.5,1268.1 C854.2,1268.2 854.8,1268.4 855.5,1268.5 C856.1,1268.6 856.8,1268.7 857.5,1268.8 C858.1,1268.9 858.8,1269.0 859.4,1269.1 C860.1,1269.2 860.8,1269.4 861.4,1269.5 C862.1,1269.6 862.7,1269.6 863.4,1269.8 C863.7,1269.9 864.1,1271.3 864.4,1272.0 C864.8,1272.7 865.1,1273.5 865.5,1274.2 C865.8,1274.9 866.2,1276.4 866.5,1276.4 C867.2,1276.4 867.9,1276.3 868.6,1276.2 C869.3,1276.1 870.0,1276.0 870.7,1276.0 C871.4,1275.9 872.2,1275.8 872.9,1275.7 C873.6,1275.7 874.3,1275.6 875.0,1275.5 C875.7,1275.4 876.4,1275.4 877.1,1275.3 C892.6,1273.9 908.1,1272.6 923.6,1271.7 C925.6,1271.6 927.6,1271.5 929.6,1271.4 C931.6,1271.3 933.6,1271.2 935.6,1271.1 C937.6,1271.0 939.6,1270.9 941.6,1270.8 C943.7,1270.6 945.7,1270.5 947.7,1270.4 C949.7,1270.3 951.7,1270.2 953.7,1270.1 C955.7,1270.0 957.7,1269.9 959.7,1269.8 C961.7,1269.7 963.7,1269.6 965.7,1269.5 C967.7,1269.5 969.7,1269.4 971.7,1269.3 C973.7,1269.2 975.7,1269.1 977.7,1269.0 C979.7,1268.9 981.8,1268.8 983.8,1268.7 C985.8,1268.6 987.8,1268.5 989.8,1268.4 C991.8,1268.3 993.8,1268.2 995.8,1268.1 C997.8,1268.0 999.8,1268.0 1001.8,1267.9 C1003.8,1267.8 1005.8,1267.7 1007.8,1267.6 C1009.8,1267.5 1011.8,1267.4 1013.8,1267.3 C1015.8,1267.2 1017.8,1267.2 1019.9,1267.1 C1021.9,1267.0 1023.9,1266.9 1025.9,1266.8 C1027.9,1266.7 1029.9,1266.6 1031.9,1266.6 C1033.9,1266.5 1035.9,1266.4 1037.9,1266.3 C1039.9,1266.2 1041.9,1266.2 1043.9,1266.1 C1045.9,1266.0 1047.9,1265.9 1049.9,1265.8 C1051.9,1265.8 1053.9,1265.7 1055.9,1265.6 C1058.0,1265.5 1060.0,1265.4 1062.0,1265.4 C1064.0,1265.3 1066.0,1265.2 1068.0,1265.1 C1070.0,1265.1 1072.0,1265.0 1074.0,1264.9 C1076.0,1264.8 1078.0,1264.8 1080.0,1264.7 C1082.0,1264.6 1084.0,1264.5 1086.0,1264.5 C1088.0,1264.4 1090.0,1264.3 1092.0,1264.2 C1094.0,1264.2 1096.1,1264.1 1098.1,1264.0 C1100.1,1264.0 1102.1,1263.9 1104.1,1263.8 C1106.1,1263.8 1108.1,1263.7 1110.1,1263.6 C1112.1,1263.5 1114.1,1263.5 1116.1,1263.4 C1118.1,1263.3 1120.1,1263.3 1122.1,1263.2 C1124.1,1263.1 1126.1,1263.1 1128.1,1263.0 C1130.1,1263.0 1132.1,1262.9 1134.2,1262.8 C1136.2,1262.8 1138.2,1262.7 1140.2,1262.6 C1142.2,1262.6 1144.2,1262.5 1146.2,1262.5 C1148.2,1262.4 1150.2,1262.3 1152.2,1262.3 C1154.2,1262.2 1156.2,1262.1 1158.2,1262.1 C1160.2,1262.0 1162.2,1262.0 1164.2,1261.9 C1166.2,1261.9 1168.2,1261.8 1170.2,1261.7 C1172.3,1261.7 1174.3,1261.6 1176.3,1261.6 C1178.3,1261.5 1180.3,1261.5 1182.3,1261.4 C1184.3,1261.3 1186.3,1261.3 1188.3,1261.2 C1190.3,1261.2 1192.3,1261.1 1194.3,1261.1 C1196.3,1261.0 1198.3,1261.0 1200.3,1260.9 C1202.3,1260.9 1204.3,1260.8 1206.3,1260.8 C1208.3,1260.7 1210.4,1260.7 1212.4,1260.6 C1214.4,1260.6 1216.4,1260.5 1218.4,1260.5 C1220.4,1260.4 1222.4,1260.4 1224.4,1260.3 C1226.4,1260.3 1228.4,1260.2 1230.4,1260.2 C1232.4,1260.1 1234.4,1260.1 1236.4,1260.0 C1238.4,1260.0 1240.4,1259.9 1242.4,1259.9 C1244.4,1259.8 1246.4,1259.8 1248.5,1259.7 C1250.5,1259.7 1252.5,1259.7 1254.5,1259.6 C1256.5,1259.6 1258.5,1259.5 1260.5,1259.5 C1262.5,1259.4 1264.5,1259.4 1266.5,1259.4 C1268.5,1259.3 1270.5,1259.3 1272.5,1259.2 C1274.5,1259.2 1276.5,1259.1 1278.5,1259.1 C1280.5,1259.1 1282.5,1259.0 1284.5,1259.0 C1286.6,1258.9 1288.6,1258.9 1290.6,1258.9 C1292.6,1258.8 1294.6,1258.8 1296.6,1258.8 C1298.6,1258.7 1300.6,1258.7 1302.6,1258.6 C1304.6,1258.6 1306.6,1258.6 1308.6,1258.5 C1310.6,1258.5 1312.6,1258.5 1314.6,1258.4 C1316.6,1258.4 1318.6,1258.4 1320.6,1258.3 C1322.6,1258.3 1324.7,1258.3 1326.7,1258.2 C1328.7,1258.2 1330.7,1258.1 1332.7,1258.1 C1334.7,1258.1 1336.7,1258.1 1338.7,1258.0 C1340.7,1258.0 1342.7,1258.0 1344.7,1257.9 C1346.7,1257.9 1348.7,1257.9 1350.7,1257.8 C1352.7,1257.8 1354.7,1257.8 1356.7,1257.7 C1358.7,1257.7 1360.7,1257.7 1362.8,1257.6 C1364.8,1257.6 1366.8,1257.6 1368.8,1257.6 C1370.8,1257.5 1372.8,1257.5 1374.8,1257.5 C1376.8,1257.4 1378.8,1257.4 1380.8,1257.4 C1382.8,1257.4 1384.8,1257.3 1386.8,1257.3 C1388.8,1257.3 1390.8,1257.3 1392.8,1257.2 C1394.8,1257.2 1396.8,1257.2 1398.8,1257.2 C1400.9,1257.1 1402.9,1257.1 1404.9,1257.1 C1406.9,1257.1 1408.9,1257.0 1410.9,1257.0 C1412.9,1257.0 1414.9,1257.0 1416.9,1256.9 C1418.9,1256.9 1420.9,1256.9 1422.9,1256.9 C1424.9,1256.8 1426.9,1256.8 1428.9,1256.8 C1430.9,1256.8 1432.9,1256.8 1434.9,1256.7 C1436.9,1256.7 1438.9,1256.7 1441.0,1256.7 C1443.0,1256.7 1445.0,1256.6 1447.0,1256.6 C1449.0,1256.6 1451.0,1256.6 1453.0,1256.6 C1455.0,1256.5 1457.0,1256.5 1459.0,1256.5 C1461.0,1256.5 1463.0,1256.5 1465.0,1256.4 C1467.0,1256.4 1469.0,1256.4 1471.0,1256.4 C1473.0,1256.4 1475.0,1256.3 1477.0,1256.3 C1479.1,1256.3 1481.1,1256.3 1483.1,1256.3 C1485.1,1256.3 1487.1,1256.2 1489.1,1256.2 C1491.1,1256.2 1493.1,1256.2 1495.1,1256.2 C1497.1,1256.2 1499.1,1256.2 1501.1,1256.1 C1503.1,1256.1 1505.1,1256.1 1507.1,1256.1 C1509.1,1256.1 1511.1,1256.1 1513.1,1256.0 C1515.1,1256.0 1517.2,1256.0 1519.2,1256.0 C1521.2,1256.0 1523.2,1256.0 1525.2,1256.0 C1527.2,1256.0 1529.2,1255.9 1531.2,1255.9 C1533.2,1255.9 1535.2,1255.9 1537.2,1255.9 C1539.2,1255.9 1541.2,1255.9 1543.2,1255.9 C1545.2,1255.8 1547.2,1255.8 1549.2,1255.8 C1551.2,1255.8 1553.2,1255.8 1555.3,1255.8 C1557.3,1255.8 1559.3,1255.8 1561.3,1255.7 C1563.3,1255.7 1565.3,1255.7 1567.3,1255.7 C1569.3,1255.7 1571.3,1255.7 1573.3,1255.7 C1575.3,1255.7 1577.3,1255.7 1579.3,1255.7 C1581.3,1255.7 1583.3,1255.6 1585.3,1255.6 C1587.3,1255.6 1589.3,1255.6 1591.3,1255.6 C1593.4,1255.6 1595.4,1255.6 1597.4,1255.6 C1599.4,1255.6 1601.4,1255.6 1603.4,1255.6 C1605.4,1255.5 1607.4,1255.5 1609.4,1255.5 C1611.4,1255.5 1613.4,1255.5 1615.4,1255.5 C1617.4,1255.5 1619.4,1255.5 1621.4,1255.5 C1623.4,1255.5 1625.4,1255.5 1627.4,1255.5 C1629.4,1255.5 1631.5,1255.5 1633.5,1255.4 C1635.5,1255.4 1637.5,1255.4 1639.5,1255.4 C1641.5,1255.4 1643.5,1255.4 1645.5,1255.4 C1647.5,1255.4 1649.5,1255.4 1651.5,1255.4 C1653.5,1255.4 1655.5,1255.4 1657.5,1255.4 C1659.5,1255.4 1661.5,1255.4 1663.5,1255.4 C1665.5,1255.4 1667.5,1255.4 1669.6,1255.4 C1671.6,1255.3 1673.6,1255.3 1675.6,1255.3 C1677.6,1255.3 1679.6,1255.3 1681.6,1255.3 C1683.6,1255.3 1685.6,1255.3 1687.6,1255.3 C1689.6,1255.3 1691.6,1255.3 1693.6,1255.3 C1695.6,1255.3 1697.6,1255.3 1699.6,1255.3 C1701.6,1255.3 1703.6,1255.3 1705.6,1255.3 C1707.7,1255.3 1709.7,1255.3 1711.7,1255.3 C1713.7,1255.3 1715.7,1255.3 1717.7,1255.3 C1719.7,1255.3 1721.7,1255.3 1723.7,1255.3 C1725.7,1255.3 1727.7,1255.2 1729.7,1255.2 C1731.7,1255.2 1733.7,1255.2 1735.7,1255.2 C1737.7,1255.2 1739.7,1255.2 1741.7,1255.2 C1743.7,1255.2 1745.8,1255.2 1747.8,1255.2 C1749.8,1255.2 1751.8,1255.2 1753.8,1255.2 C1755.8,1255.2 1757.8,1255.2 1759.8,1255.2 C1761.8,1255.2 1763.8,1255.2 1765.8,1255.2 C1767.8,1255.2 1769.8,1255.2 1771.8,1255.2 C1773.8,1255.2 1775.8,1255.2 1777.8,1255.2 C1779.8,1255.2 1781.8,1255.2 1783.9,1255.2 C1785.9,1255.2 1787.9,1255.2 1789.9,1255.2 C1791.9,1255.2 1793.9,1255.2 1795.9,1255.2 C1797.9,1255.2 1799.9,1255.2 1801.9,1255.2 C1803.9,1255.2 1805.9,1255.2 1807.9,1255.2 C1809.9,1255.2 1811.9,1255.2 1813.9,1255.2 C1815.9,1255.2 1817.9,1255.2 1819.9,1255.2 C1822.0,1255.2 1824.0,1255.2 1826.0,1255.2 C1828.0,1255.2 1830.0,1255.2 1832.0,1255.2 C1834.0,1255.2 1836.0,1255.2 1838.0,1255.1 C1840.0,1255.1 1842.0,1255.1 1844.0,1255.1 C1846.0,1255.1 1848.0,1255.1 1850.0,1255.1 C1852.0,1255.1 1854.0,1255.1 1856.0,1255.1 C1858.0,1255.1 1860.1,1255.1 1862.1,1255.1 C1864.1,1255.1 1866.1,1255.1 1868.1,1255.1 C1870.1,1255.1 1872.1,1255.1 1874.1,1255.1 C1876.1,1255.1 1878.1,1255.1 1880.1,1255.1 C1882.1,1255.1 1884.1,1255.1 1886.1,1255.1 C1888.1,1255.1 1890.1,1255.1 1892.1,1255.1 C1894.1,1255.1 1896.1,1255.1 1898.2,1255.1 C1900.2,1255.1 1902.2,1255.1 1904.2,1255.1 C1906.2,1255.1 1908.2,1255.1 1910.2,1255.1 C1912.2,1255.1 1914.2,1255.1 1916.2,1255.1" fill="none" stroke="#00B0F0" stroke-width="8.6" stroke-linecap="butt" stroke-linejoin="round"/>
<circle cx="1916.2" cy="1255.1" r="4.3" fill="#00B0F0"/>
<path d="M66.3,1440.6 C68.3,1440.5 70.3,1440.4 72.3,1440.2 C74.3,1440.1 76.3,1440.0 78.3,1439.8 C80.3,1439.7 82.3,1439.6 84.4,1439.5 C86.4,1439.4 88.4,1439.2 90.4,1439.1 C92.4,1439.0 94.4,1438.9 96.4,1438.8 C98.4,1438.7 100.4,1438.6 102.4,1438.5 C104.4,1438.4 106.4,1438.3 108.4,1438.2 C110.4,1438.1 112.4,1438.0 114.4,1437.9 C116.4,1437.9 118.5,1437.8 120.5,1437.7 C122.5,1437.6 124.5,1437.5 126.5,1437.5 C128.5,1437.4 130.5,1437.3 132.5,1437.2 C134.5,1437.2 136.5,1437.1 138.5,1437.0 C140.5,1437.0 142.5,1436.9 144.5,1436.9 C146.5,1436.8 148.5,1436.7 150.5,1436.7 C152.6,1436.6 154.6,1436.6 156.6,1436.5 C158.6,1436.5 160.6,1436.4 162.6,1436.4 C164.6,1436.4 166.6,1436.3 168.6,1436.3 C170.6,1436.2 172.6,1436.2 174.6,1436.2 C176.6,1436.1 178.6,1436.1 180.6,1436.1 C182.6,1436.1 184.6,1436.0 186.7,1436.0 C188.7,1436.0 190.7,1436.0 192.7,1435.9 C194.7,1435.9 196.7,1435.9 198.7,1435.9 C200.7,1435.9 202.7,1435.9 204.7,1435.9 C206.7,1435.9 208.7,1435.8 210.7,1435.8 C212.7,1435.8 214.7,1435.8 216.7,1435.8 C218.7,1435.8 220.7,1435.8 222.8,1435.8 C224.8,1435.8 226.8,1435.8 228.8,1435.8 C230.8,1435.8 232.8,1435.9 234.8,1435.9 C236.8,1435.9 238.8,1435.9 240.8,1435.9 C242.8,1435.9 244.8,1435.9 246.8,1435.9 C248.8,1436.0 250.8,1436.0 252.8,1436.0 C254.8,1436.0 256.9,1436.0 258.9,1436.1 C260.9,1436.1 262.9,1436.1 264.9,1436.1 C266.9,1436.2 268.9,1436.2 270.9,1436.2 C272.9,1436.3 274.9,1436.3 276.9,1436.3 C278.9,1436.4 280.9,1436.4 282.9,1436.4 C284.9,1436.5 286.9,1436.5 288.9,1436.5 C291.0,1436.6 293.0,1436.6 295.0,1436.7 C297.0,1436.7 299.0,1436.7 301.0,1436.8 C303.0,1436.8 305.0,1436.9 307.0,1436.9 C309.0,1437.0 311.0,1437.0 313.0,1437.1 C315.0,1437.1 317.0,1437.2 319.0,1437.2 C321.0,1437.3 323.0,1437.3 325.1,1437.4 C327.1,1437.4 329.1,1437.5 331.1,1437.5 C333.1,1437.6 335.1,1437.6 337.1,1437.7 C339.1,1437.8 341.1,1437.8 343.1,1437.9 C345.1,1437.9 347.1,1438.0 349.1,1438.1 C351.1,1438.1 353.1,1438.2 355.1,1438.2 C357.1,1438.3 359.2,1438.4 361.2,1438.4 C363.2,1438.5 365.2,1438.6 367.2,1438.6 C369.2,1438.7 371.2,1438.7 373.2,1438.8 C375.2,1438.9 377.2,1438.9 379.2,1439.0 C381.2,1439.1 383.2,1439.1 385.2,1439.2 C387.2,1439.3 389.2,1439.3 391.2,1439.4 C393.3,1439.5 395.3,1439.6 397.3,1439.6 C399.3,1439.7 401.3,1439.8 403.3,1439.8 C405.3,1439.9 407.3,1440.0 409.3,1440.0 C411.3,1440.1 413.3,1440.2 415.3,1440.3 C417.3,1440.3 419.3,1440.4 421.3,1440.5 C423.3,1440.5 425.3,1440.6 427.4,1440.7 C429.4,1440.8 431.4,1440.8 433.4,1440.9 C435.4,1441.0 437.4,1441.0 439.4,1441.1 C441.4,1441.2 443.4,1441.3 445.4,1441.3 C447.4,1441.4 449.4,1441.5 451.4,1441.5 C453.4,1441.6 455.4,1441.7 457.4,1441.7 C459.4,1441.8 461.5,1441.9 463.5,1442.0 C465.5,1442.0 467.5,1442.1 469.5,1442.2 C471.5,1442.2 473.5,1442.3 475.5,1442.4 C477.5,1442.4 479.5,1442.5 481.5,1442.6 C483.5,1442.6 485.5,1442.7 487.5,1442.8 C489.5,1442.8 491.5,1442.9 493.5,1443.0 C495.6,1443.0 497.6,1443.1 499.6,1443.2 C501.6,1443.2 503.6,1443.3 505.6,1443.4 C507.6,1443.4 509.6,1443.5 511.6,1443.6 C513.6,1443.6 515.6,1443.7 517.6,1443.7 C519.6,1443.8 521.6,1443.9 523.6,1443.9 C525.6,1444.0 527.6,1444.0 529.6,1444.1 C531.7,1444.1 533.7,1444.2 535.7,1444.3 C537.7,1444.3 539.7,1444.4 541.7,1444.4 C543.7,1444.5 545.7,1444.5 547.7,1444.6 C549.7,1444.6 551.7,1444.7 553.7,1444.7 C555.7,1444.8 557.7,1444.8 559.7,1444.9 C561.7,1444.9 563.7,1445.0 565.8,1445.0 C567.8,1445.1 569.8,1445.1 571.8,1445.1 C573.8,1445.2 575.8,1445.2 577.8,1445.3 C579.8,1445.3 581.8,1445.3 583.8,1445.4 C585.8,1445.4 587.8,1445.4 589.8,1445.5 C591.8,1445.5 593.8,1445.5 595.8,1445.6 C597.8,1445.6 599.9,1445.6 601.9,1445.7 C603.9,1445.7 605.9,1445.7 607.9,1445.7 C609.9,1445.8 611.9,1445.8 613.9,1445.8 C615.9,1445.8 617.9,1445.9 619.9,1445.9 C621.9,1445.9 623.9,1445.9 625.9,1445.9 C627.9,1445.9 629.9,1445.9 631.9,1446.0 C634.0,1446.0 636.0,1446.0 638.0,1446.0 C640.0,1446.0 642.0,1446.0 644.0,1446.0 C646.0,1446.0 648.0,1446.0 650.0,1446.0 C659.1,1446.0 668.3,1446.6 677.4,1447.1 C686.5,1447.6 695.6,1448.2 704.7,1449.2 C713.8,1450.2 723.0,1452.2 732.1,1454.7 C741.2,1457.2 750.3,1466.8 759.4,1466.8 C760.0,1466.8 760.5,1465.9 761.1,1465.4 C761.7,1464.9 762.2,1464.5 762.8,1464.0 C763.4,1463.5 763.9,1462.6 764.5,1462.6 C765.2,1462.6 765.8,1463.2 766.5,1463.4 C767.1,1463.7 767.8,1464.0 768.5,1464.3 C769.1,1464.5 769.8,1464.8 770.4,1465.1 C771.1,1465.4 771.8,1465.6 772.4,1465.9 C773.1,1466.2 773.7,1466.5 774.4,1466.8 C775.1,1467.0 775.7,1467.3 776.4,1467.6 C777.0,1467.9 777.7,1468.1 778.4,1468.4 C779.0,1468.7 779.7,1469.0 780.3,1469.2 C781.0,1469.5 781.7,1469.8 782.3,1470.1 C783.0,1470.3 783.6,1470.9 784.3,1470.9 C785.0,1470.9 785.7,1469.6 786.4,1469.0 C787.1,1468.3 787.8,1467.0 788.5,1467.0 C789.2,1467.0 789.9,1467.0 790.5,1467.0 C791.2,1467.0 791.9,1467.0 792.6,1467.0 C793.2,1467.0 793.9,1467.0 794.6,1467.0 C795.3,1467.0 795.9,1467.0 796.6,1467.0 C797.3,1467.0 798.0,1467.0 798.7,1467.0 C799.3,1467.0 800.0,1467.0 800.7,1467.0 C801.4,1467.0 802.0,1467.0 802.7,1467.0 C803.4,1467.0 804.1,1467.0 804.7,1467.0 C805.4,1467.0 806.1,1467.0 806.8,1467.0 C807.5,1467.0 808.1,1467.0 808.8,1467.0 C809.5,1467.0 810.2,1467.0 810.8,1467.0 C811.5,1467.0 812.2,1467.0 812.9,1467.0 C813.5,1467.0 814.2,1467.0 814.9,1467.0 C815.6,1467.0 816.3,1467.0 816.9,1467.0 C817.6,1467.0 818.3,1467.0 819.0,1467.0 C819.6,1467.0 820.3,1467.0 821.0,1467.0 C821.7,1467.0 822.3,1467.0 823.0,1467.0 C823.7,1467.0 824.4,1467.0 825.1,1467.0 C825.7,1467.0 826.4,1467.0 827.1,1467.0 C827.8,1467.0 828.4,1467.0 829.1,1467.0 C829.8,1467.0 830.5,1467.0 831.1,1467.0 C831.8,1467.0 832.5,1467.0 833.2,1467.0 C833.9,1467.0 834.5,1467.0 835.2,1467.0 C835.9,1467.0 836.6,1467.0 837.2,1467.0 C837.9,1467.0 838.6,1467.0 839.3,1467.0 C839.9,1467.0 840.6,1467.0 841.3,1467.0 C842.0,1467.0 842.6,1467.0 843.3,1467.0 C844.0,1467.0 844.7,1467.0 845.4,1467.0 C846.0,1467.0 846.7,1467.0 847.4,1467.0 C848.1,1467.0 848.7,1467.0 849.4,1467.0 C850.1,1467.0 850.8,1467.0 851.4,1467.0 C852.1,1467.0 852.8,1467.0 853.5,1467.0 C854.2,1467.0 854.8,1467.0 855.5,1467.0 C856.2,1467.0 856.9,1467.0 857.5,1467.0 C858.2,1467.0 858.9,1467.0 859.6,1467.0 C860.2,1467.0 860.9,1467.0 861.6,1467.0 C862.3,1467.0 863.0,1467.0 863.6,1467.0 C864.3,1467.0 865.0,1467.0 865.7,1467.0 C866.3,1467.0 867.0,1467.0 867.7,1467.0 C868.4,1467.0 869.0,1467.0 869.7,1467.0 C870.4,1467.0 871.1,1467.0 871.8,1467.0 C872.4,1467.0 873.1,1467.0 873.8,1467.0 C874.5,1467.0 875.1,1467.0 875.8,1467.0 C876.5,1467.0 877.2,1467.0 877.8,1467.0 C878.5,1467.0 879.2,1467.0 879.9,1467.0 C880.6,1467.0 881.2,1467.0 881.9,1467.0 C882.6,1467.0 883.3,1467.0 883.9,1467.0 C884.6,1467.0 885.3,1467.0 886.0,1467.0 C886.6,1467.0 887.3,1467.0 888.0,1467.0 C888.7,1467.0 889.3,1467.9 890.0,1468.3 C890.7,1468.8 891.3,1469.2 892.0,1469.7 C892.7,1470.1 893.3,1471.0 894.0,1471.0 C903.9,1471.0 913.7,1469.6 923.6,1469.0 C925.6,1468.9 927.6,1468.7 929.6,1468.6 C931.6,1468.5 933.6,1468.4 935.7,1468.2 C937.7,1468.1 939.7,1468.0 941.7,1467.9 C943.7,1467.8 945.7,1467.6 947.7,1467.5 C949.7,1467.4 951.7,1467.3 953.7,1467.2 C955.8,1467.0 957.8,1466.9 959.8,1466.8 C961.8,1466.7 963.8,1466.6 965.8,1466.5 C967.8,1466.3 969.8,1466.2 971.8,1466.1 C973.8,1466.0 975.9,1465.9 977.9,1465.8 C979.9,1465.7 981.9,1465.6 983.9,1465.4 C985.9,1465.3 987.9,1465.2 989.9,1465.1 C991.9,1465.0 993.9,1464.9 996.0,1464.8 C998.0,1464.7 1000.0,1464.6 1002.0,1464.5 C1004.0,1464.4 1006.0,1464.3 1008.0,1464.2 C1010.0,1464.1 1012.0,1464.0 1014.0,1463.9 C1016.0,1463.8 1018.1,1463.6 1020.1,1463.5 C1022.1,1463.4 1024.1,1463.3 1026.1,1463.2 C1028.1,1463.1 1030.1,1463.1 1032.1,1463.0 C1034.1,1462.9 1036.1,1462.8 1038.2,1462.7 C1040.2,1462.6 1042.2,1462.5 1044.2,1462.4 C1046.2,1462.3 1048.2,1462.2 1050.2,1462.1 C1052.2,1462.0 1054.2,1461.9 1056.2,1461.8 C1058.3,1461.7 1060.3,1461.6 1062.3,1461.5 C1064.3,1461.5 1066.3,1461.4 1068.3,1461.3 C1070.3,1461.2 1072.3,1461.1 1074.3,1461.0 C1076.3,1460.9 1078.4,1460.8 1080.4,1460.8 C1082.4,1460.7 1084.4,1460.6 1086.4,1460.5 C1088.4,1460.4 1090.4,1460.3 1092.4,1460.2 C1094.4,1460.2 1096.4,1460.1 1098.5,1460.0 C1100.5,1459.9 1102.5,1459.8 1104.5,1459.8 C1106.5,1459.7 1108.5,1459.6 1110.5,1459.5 C1112.5,1459.4 1114.5,1459.4 1116.5,1459.3 C1118.5,1459.2 1120.6,1459.1 1122.6,1459.0 C1124.6,1459.0 1126.6,1458.9 1128.6,1458.8 C1130.6,1458.7 1132.6,1458.7 1134.6,1458.6 C1136.6,1458.5 1138.6,1458.5 1140.7,1458.4 C1142.7,1458.3 1144.7,1458.2 1146.7,1458.2 C1148.7,1458.1 1150.7,1458.0 1152.7,1458.0 C1154.7,1457.9 1156.7,1457.8 1158.7,1457.7 C1160.8,1457.7 1162.8,1457.6 1164.8,1457.5 C1166.8,1457.5 1168.8,1457.4 1170.8,1457.3 C1172.8,1457.3 1174.8,1457.2 1176.8,1457.2 C1178.8,1457.1 1180.9,1457.0 1182.9,1457.0 C1184.9,1456.9 1186.9,1456.8 1188.9,1456.8 C1190.9,1456.7 1192.9,1456.6 1194.9,1456.6 C1196.9,1456.5 1198.9,1456.5 1200.9,1456.4 C1203.0,1456.3 1205.0,1456.3 1207.0,1456.2 C1209.0,1456.2 1211.0,1456.1 1213.0,1456.1 C1215.0,1456.0 1217.0,1455.9 1219.0,1455.9 C1221.0,1455.8 1223.1,1455.8 1225.1,1455.7 C1227.1,1455.7 1229.1,1455.6 1231.1,1455.6 C1233.1,1455.5 1235.1,1455.4 1237.1,1455.4 C1239.1,1455.3 1241.1,1455.3 1243.2,1455.2 C1245.2,1455.2 1247.2,1455.1 1249.2,1455.1 C1251.2,1455.0 1253.2,1455.0 1255.2,1454.9 C1257.2,1454.9 1259.2,1454.8 1261.2,1454.8 C1263.3,1454.7 1265.3,1454.7 1267.3,1454.6 C1269.3,1454.6 1271.3,1454.6 1273.3,1454.5 C1275.3,1454.5 1277.3,1454.4 1279.3,1454.4 C1281.3,1454.3 1283.4,1454.3 1285.4,1454.2 C1287.4,1454.2 1289.4,1454.2 1291.4,1454.1 C1293.4,1454.1 1295.4,1454.0 1297.4,1454.0 C1299.4,1453.9 1301.4,1453.9 1303.4,1453.9 C1305.5,1453.8 1307.5,1453.8 1309.5,1453.7 C1311.5,1453.7 1313.5,1453.7 1315.5,1453.6 C1317.5,1453.6 1319.5,1453.5 1321.5,1453.5 C1323.5,1453.5 1325.6,1453.4 1327.6,1453.4 C1329.6,1453.4 1331.6,1453.3 1333.6,1453.3 C1335.6,1453.2 1337.6,1453.2 1339.6,1453.2 C1341.6,1453.1 1343.6,1453.1 1345.7,1453.1 C1347.7,1453.0 1349.7,1453.0 1351.7,1453.0 C1353.7,1452.9 1355.7,1452.9 1357.7,1452.9 C1359.7,1452.8 1361.7,1452.8 1363.7,1452.8 C1365.8,1452.7 1367.8,1452.7 1369.8,1452.7 C1371.8,1452.7 1373.8,1452.6 1375.8,1452.6 C1377.8,1452.6 1379.8,1452.5 1381.8,1452.5 C1383.8,1452.5 1385.8,1452.5 1387.9,1452.4 C1389.9,1452.4 1391.9,1452.4 1393.9,1452.3 C1395.9,1452.3 1397.9,1452.3 1399.9,1452.3 C1401.9,1452.2 1403.9,1452.2 1405.9,1452.2 C1408.0,1452.2 1410.0,1452.1 1412.0,1452.1 C1414.0,1452.1 1416.0,1452.1 1418.0,1452.0 C1420.0,1452.0 1422.0,1452.0 1424.0,1452.0 C1426.0,1451.9 1428.1,1451.9 1430.1,1451.9 C1432.1,1451.9 1434.1,1451.9 1436.1,1451.8 C1438.1,1451.8 1440.1,1451.8 1442.1,1451.8 C1444.1,1451.8 1446.1,1451.7 1448.2,1451.7 C1450.2,1451.7 1452.2,1451.7 1454.2,1451.7 C1456.2,1451.6 1458.2,1451.6 1460.2,1451.6 C1462.2,1451.6 1464.2,1451.6 1466.2,1451.5 C1468.3,1451.5 1470.3,1451.5 1472.3,1451.5 C1474.3,1451.5 1476.3,1451.5 1478.3,1451.4 C1480.3,1451.4 1482.3,1451.4 1484.3,1451.4 C1486.3,1451.4 1488.3,1451.4 1490.4,1451.3 C1492.4,1451.3 1494.4,1451.3 1496.4,1451.3 C1498.4,1451.3 1500.4,1451.3 1502.4,1451.3 C1504.4,1451.2 1506.4,1451.2 1508.4,1451.2 C1510.5,1451.2 1512.5,1451.2 1514.5,1451.2 C1516.5,1451.2 1518.5,1451.2 1520.5,1451.1 C1522.5,1451.1 1524.5,1451.1 1526.5,1451.1 C1528.5,1451.1 1530.6,1451.1 1532.6,1451.1 C1534.6,1451.1 1536.6,1451.1 1538.6,1451.0 C1540.6,1451.0 1542.6,1451.0 1544.6,1451.0 C1546.6,1451.0 1548.6,1451.0 1550.7,1451.0 C1552.7,1451.0 1554.7,1451.0 1556.7,1451.0 C1558.7,1451.0 1560.7,1451.0 1562.7,1450.9 C1564.7,1450.9 1566.7,1450.9 1568.7,1450.9 C1570.7,1450.9 1572.8,1450.9 1574.8,1450.9 C1576.8,1450.9 1578.8,1450.9 1580.8,1450.9 C1582.8,1450.9 1584.8,1450.9 1586.8,1450.9 C1588.8,1450.9 1590.8,1450.8 1592.9,1450.8 C1594.9,1450.8 1596.9,1450.8 1598.9,1450.8 C1600.9,1450.8 1602.9,1450.8 1604.9,1450.8 C1606.9,1450.8 1608.9,1450.8 1610.9,1450.8 C1613.0,1450.8 1615.0,1450.8 1617.0,1450.8 C1619.0,1450.8 1621.0,1450.8 1623.0,1450.8 C1625.0,1450.8 1627.0,1450.8 1629.0,1450.8 C1631.0,1450.8 1633.1,1450.8 1635.1,1450.8 C1637.1,1450.8 1639.1,1450.8 1641.1,1450.8 C1643.1,1450.8 1645.1,1450.8 1647.1,1450.8 C1649.1,1450.8 1651.1,1450.8 1653.2,1450.7 C1655.2,1450.7 1657.2,1450.7 1659.2,1450.7 C1661.2,1450.7 1663.2,1450.7 1665.2,1450.7 C1667.2,1450.7 1669.2,1450.7 1671.2,1450.7 C1673.2,1450.7 1675.3,1450.7 1677.3,1450.7 C1679.3,1450.7 1681.3,1450.7 1683.3,1450.7 C1685.3,1450.7 1687.3,1450.7 1689.3,1450.7 C1691.3,1450.7 1693.3,1450.7 1695.4,1450.7 C1697.4,1450.7 1699.4,1450.8 1701.4,1450.8 C1703.4,1450.8 1705.4,1450.8 1707.4,1450.8 C1709.4,1450.8 1711.4,1450.8 1713.4,1450.8 C1715.5,1450.8 1717.5,1450.8 1719.5,1450.8 C1721.5,1450.8 1723.5,1450.8 1725.5,1450.8 C1727.5,1450.8 1729.5,1450.8 1731.5,1450.8 C1733.5,1450.8 1735.6,1450.8 1737.6,1450.8 C1739.6,1450.8 1741.6,1450.8 1743.6,1450.8 C1745.6,1450.8 1747.6,1450.8 1749.6,1450.8 C1751.6,1450.8 1753.6,1450.8 1755.6,1450.8 C1757.7,1450.8 1759.7,1450.8 1761.7,1450.8 C1763.7,1450.8 1765.7,1450.8 1767.7,1450.8 C1769.7,1450.8 1771.7,1450.8 1773.7,1450.8 C1775.7,1450.9 1777.8,1450.9 1779.8,1450.9 C1781.8,1450.9 1783.8,1450.9 1785.8,1450.9 C1787.8,1450.9 1789.8,1450.9 1791.8,1450.9 C1793.8,1450.9 1795.8,1450.9 1797.9,1450.9 C1799.9,1450.9 1801.9,1450.9 1803.9,1450.9 C1805.9,1450.9 1807.9,1450.9 1809.9,1450.9 C1811.9,1450.9 1813.9,1450.9 1815.9,1450.9 C1818.0,1450.9 1820.0,1450.9 1822.0,1450.9 C1824.0,1451.0 1826.0,1451.0 1828.0,1451.0 C1830.0,1451.0 1832.0,1451.0 1834.0,1451.0 C1836.0,1451.0 1838.1,1451.0 1840.1,1451.0 C1842.1,1451.0 1844.1,1451.0 1846.1,1451.0 C1848.1,1451.0 1850.1,1451.0 1852.1,1451.0 C1854.1,1451.0 1856.1,1451.0 1858.1,1451.0 C1860.2,1451.0 1862.2,1451.0 1864.2,1451.0 C1866.2,1451.0 1868.2,1451.0 1870.2,1451.1 C1872.2,1451.1 1874.2,1451.1 1876.2,1451.1 C1878.2,1451.1 1880.3,1451.1 1882.3,1451.1 C1884.3,1451.1 1886.3,1451.1 1888.3,1451.1 C1890.3,1451.1 1892.3,1451.1 1894.3,1451.1 C1896.3,1451.1 1898.3,1451.1 1900.4,1451.1 C1902.4,1451.1 1904.4,1451.1 1906.4,1451.1 C1908.4,1451.1 1910.4,1451.1 1912.4,1451.1 C1914.4,1451.1 1916.4,1451.1 1918.4,1451.2 C1920.5,1451.2 1922.5,1451.2 1924.5,1451.2 C1926.5,1451.2 1928.5,1451.2 1930.5,1451.2" fill="none" stroke="#0070C0" stroke-width="8.6" stroke-linecap="butt" stroke-linejoin="round"/>
<circle cx="1930.5" cy="1451.2" r="4.3" fill="#0070C0"/>
<path d="M66.3,1617.9 C68.3,1617.8 70.3,1617.6 72.3,1617.4 C74.3,1617.3 76.3,1617.1 78.3,1617.0 C80.4,1616.8 82.4,1616.7 84.4,1616.6 C86.4,1616.4 88.4,1616.3 90.4,1616.1 C92.4,1616.0 94.4,1615.8 96.4,1615.7 C98.4,1615.6 100.4,1615.4 102.4,1615.3 C104.5,1615.2 106.5,1615.0 108.5,1614.9 C110.5,1614.8 112.5,1614.6 114.5,1614.5 C116.5,1614.4 118.5,1614.2 120.5,1614.1 C122.5,1614.0 124.5,1613.9 126.5,1613.7 C128.5,1613.6 130.6,1613.5 132.6,1613.4 C134.6,1613.3 136.6,1613.1 138.6,1613.0 C140.6,1612.9 142.6,1612.8 144.6,1612.7 C146.6,1612.6 148.6,1612.5 150.6,1612.3 C152.6,1612.2 154.7,1612.1 156.7,1612.0 C158.7,1611.9 160.7,1611.8 162.7,1611.7 C164.7,1611.6 166.7,1611.5 168.7,1611.4 C170.7,1611.3 172.7,1611.2 174.7,1611.1 C176.7,1611.0 178.7,1610.9 180.8,1610.8 C182.8,1610.7 184.8,1610.6 186.8,1610.5 C188.8,1610.4 190.8,1610.4 192.8,1610.3 C194.8,1610.2 196.8,1610.1 198.8,1610.0 C200.8,1609.9 202.8,1609.8 204.9,1609.8 C206.9,1609.7 208.9,1609.6 210.9,1609.5 C212.9,1609.4 214.9,1609.4 216.9,1609.3 C218.9,1609.2 220.9,1609.1 222.9,1609.1 C224.9,1609.0 226.9,1608.9 228.9,1608.8 C231.0,1608.8 233.0,1608.7 235.0,1608.6 C237.0,1608.6 239.0,1608.5 241.0,1608.4 C243.0,1608.4 245.0,1608.3 247.0,1608.2 C249.0,1608.2 251.0,1608.1 253.0,1608.1 C255.1,1608.0 257.1,1608.0 259.1,1607.9 C261.1,1607.8 263.1,1607.8 265.1,1607.7 C267.1,1607.7 269.1,1607.6 271.1,1607.6 C273.1,1607.5 275.1,1607.5 277.1,1607.4 C279.1,1607.4 281.2,1607.4 283.2,1607.3 C285.2,1607.3 287.2,1607.2 289.2,1607.2 C291.2,1607.2 293.2,1607.1 295.2,1607.1 C297.2,1607.0 299.2,1607.0 301.2,1607.0 C303.2,1606.9 305.3,1606.9 307.3,1606.9 C309.3,1606.8 311.3,1606.8 313.3,1606.8 C315.3,1606.8 317.3,1606.7 319.3,1606.7 C321.3,1606.7 323.3,1606.7 325.3,1606.6 C327.3,1606.6 329.3,1606.6 331.4,1606.6 C333.4,1606.6 335.4,1606.5 337.4,1606.5 C339.4,1606.5 341.4,1606.5 343.4,1606.5 C345.4,1606.5 347.4,1606.5 349.4,1606.4 C351.4,1606.4 353.4,1606.4 355.5,1606.4 C357.5,1606.4 359.5,1606.4 361.5,1606.4 C363.5,1606.4 365.5,1606.4 367.5,1606.4 C369.5,1606.4 371.5,1606.4 373.5,1606.4 C375.5,1606.4 377.5,1606.4 379.5,1606.4 C381.6,1606.4 383.6,1606.4 385.6,1606.4 C387.6,1606.4 389.6,1606.4 391.6,1606.4 C393.6,1606.5 395.6,1606.5 397.6,1606.5 C399.6,1606.5 401.6,1606.5 403.6,1606.5 C405.6,1606.5 407.7,1606.6 409.7,1606.6 C411.7,1606.6 413.7,1606.6 415.7,1606.6 C417.7,1606.7 419.7,1606.7 421.7,1606.7 C423.7,1606.7 425.7,1606.8 427.7,1606.8 C429.7,1606.8 431.8,1606.8 433.8,1606.9 C435.8,1606.9 437.8,1606.9 439.8,1607.0 C441.8,1607.0 443.8,1607.0 445.8,1607.1 C447.8,1607.1 449.8,1607.2 451.8,1607.2 C453.8,1607.2 455.8,1607.3 457.9,1607.3 C459.9,1607.4 461.9,1607.4 463.9,1607.4 C465.9,1607.5 467.9,1607.5 469.9,1607.6 C471.9,1607.6 473.9,1607.7 475.9,1607.7 C477.9,1607.8 479.9,1607.8 482.0,1607.9 C484.0,1607.9 486.0,1608.0 488.0,1608.0 C490.0,1608.1 492.0,1608.2 494.0,1608.2 C496.0,1608.3 498.0,1608.3 500.0,1608.4 C502.0,1608.5 504.0,1608.5 506.0,1608.6 C508.1,1608.7 510.1,1608.7 512.1,1608.8 C514.1,1608.9 516.1,1608.9 518.1,1609.0 C520.1,1609.1 522.1,1609.1 524.1,1609.2 C526.1,1609.3 528.1,1609.4 530.1,1609.4 C532.2,1609.5 534.2,1609.6 536.2,1609.7 C538.2,1609.7 540.2,1609.8 542.2,1609.9 C544.2,1610.0 546.2,1610.1 548.2,1610.1 C550.2,1610.2 552.2,1610.3 554.2,1610.4 C556.2,1610.5 558.3,1610.6 560.3,1610.7 C562.3,1610.7 564.3,1610.8 566.3,1610.9 C568.3,1611.0 570.3,1611.1 572.3,1611.2 C574.3,1611.3 576.3,1611.4 578.3,1611.5 C580.3,1611.6 582.4,1611.7 584.4,1611.8 C586.4,1611.9 588.4,1612.0 590.4,1612.1 C592.4,1612.2 594.4,1612.3 596.4,1612.4 C598.4,1612.5 600.4,1612.6 602.4,1612.7 C604.4,1612.8 606.4,1612.9 608.5,1613.1 C610.5,1613.2 612.5,1613.3 614.5,1613.4 C616.5,1613.5 618.5,1613.6 620.5,1613.7 C622.5,1613.9 624.5,1614.0 626.5,1614.1 C628.5,1614.2 630.5,1614.3 632.6,1614.5 C634.6,1614.6 636.6,1614.7 638.6,1614.8 C640.6,1614.9 642.6,1615.1 644.6,1615.2 C652.8,1615.7 661.0,1616.1 669.2,1616.7 C677.4,1617.3 685.7,1617.9 693.9,1618.9 C702.1,1619.9 710.3,1621.8 718.5,1623.3 C726.7,1624.8 734.9,1626.6 743.1,1627.8 C751.3,1629.0 759.5,1629.9 767.7,1630.7 C775.9,1631.5 784.2,1632.3 792.4,1632.7 C800.6,1633.1 808.8,1633.7 817.0,1633.7 C825.2,1633.7 833.4,1633.5 841.6,1633.2 C849.8,1632.9 858.0,1632.0 866.2,1631.4 C874.4,1630.8 882.7,1630.1 890.9,1629.5 C899.1,1628.9 907.3,1628.3 915.5,1627.8 C923.7,1627.3 931.9,1626.9 940.1,1626.5 C953.4,1625.9 966.7,1625.3 980.0,1625.0 C982.0,1625.0 984.0,1624.9 986.0,1624.9 C988.0,1624.9 990.1,1624.8 992.1,1624.8 C994.1,1624.7 996.1,1624.7 998.1,1624.7 C1000.1,1624.6 1002.1,1624.6 1004.1,1624.6 C1006.2,1624.5 1008.2,1624.5 1010.2,1624.5 C1012.2,1624.4 1014.2,1624.4 1016.2,1624.4 C1018.2,1624.3 1020.2,1624.3 1022.3,1624.3 C1024.3,1624.2 1026.3,1624.2 1028.3,1624.2 C1030.3,1624.1 1032.3,1624.1 1034.3,1624.1 C1036.3,1624.0 1038.3,1624.0 1040.4,1624.0 C1042.4,1623.9 1044.4,1623.9 1046.4,1623.9 C1048.4,1623.8 1050.4,1623.8 1052.4,1623.8 C1054.4,1623.7 1056.5,1623.7 1058.5,1623.7 C1060.5,1623.6 1062.5,1623.6 1064.5,1623.6 C1066.5,1623.5 1068.5,1623.5 1070.5,1623.5 C1072.5,1623.4 1074.6,1623.4 1076.6,1623.4 C1078.6,1623.3 1080.6,1623.3 1082.6,1623.3 C1084.6,1623.3 1086.6,1623.2 1088.6,1623.2 C1090.7,1623.2 1092.7,1623.1 1094.7,1623.1 C1096.7,1623.1 1098.7,1623.0 1100.7,1623.0 C1102.7,1623.0 1104.7,1622.9 1106.8,1622.9 C1108.8,1622.9 1110.8,1622.9 1112.8,1622.8 C1114.8,1622.8 1116.8,1622.8 1118.8,1622.7 C1120.8,1622.7 1122.8,1622.7 1124.9,1622.7 C1126.9,1622.6 1128.9,1622.6 1130.9,1622.6 C1132.9,1622.5 1134.9,1622.5 1136.9,1622.5 C1138.9,1622.5 1141.0,1622.4 1143.0,1622.4 C1145.0,1622.4 1147.0,1622.3 1149.0,1622.3 C1151.0,1622.3 1153.0,1622.3 1155.0,1622.2 C1157.0,1622.2 1159.1,1622.2 1161.1,1622.1 C1163.1,1622.1 1165.1,1622.1 1167.1,1622.1 C1169.1,1622.0 1171.1,1622.0 1173.1,1622.0 C1175.2,1622.0 1177.2,1621.9 1179.2,1621.9 C1181.2,1621.9 1183.2,1621.9 1185.2,1621.8 C1187.2,1621.8 1189.2,1621.8 1191.3,1621.8 C1193.3,1621.7 1195.3,1621.7 1197.3,1621.7 C1199.3,1621.7 1201.3,1621.6 1203.3,1621.6 C1205.3,1621.6 1207.3,1621.6 1209.4,1621.5 C1211.4,1621.5 1213.4,1621.5 1215.4,1621.5 C1217.4,1621.4 1219.4,1621.4 1221.4,1621.4 C1223.4,1621.4 1225.5,1621.3 1227.5,1621.3 C1229.5,1621.3 1231.5,1621.3 1233.5,1621.2 C1235.5,1621.2 1237.5,1621.2 1239.5,1621.2 C1241.5,1621.1 1243.6,1621.1 1245.6,1621.1 C1247.6,1621.1 1249.6,1621.0 1251.6,1621.0 C1253.6,1621.0 1255.6,1621.0 1257.6,1621.0 C1259.7,1620.9 1261.7,1620.9 1263.7,1620.9 C1265.7,1620.9 1267.7,1620.8 1269.7,1620.8 C1271.7,1620.8 1273.7,1620.8 1275.8,1620.8 C1277.8,1620.7 1279.8,1620.7 1281.8,1620.7 C1283.8,1620.7 1285.8,1620.7 1287.8,1620.6 C1289.8,1620.6 1291.8,1620.6 1293.9,1620.6 C1295.9,1620.5 1297.9,1620.5 1299.9,1620.5 C1301.9,1620.5 1303.9,1620.5 1305.9,1620.4 C1307.9,1620.4 1310.0,1620.4 1312.0,1620.4 C1314.0,1620.4 1316.0,1620.3 1318.0,1620.3 C1320.0,1620.3 1322.0,1620.3 1324.0,1620.3 C1326.1,1620.2 1328.1,1620.2 1330.1,1620.2 C1332.1,1620.2 1334.1,1620.2 1336.1,1620.2 C1338.1,1620.1 1340.1,1620.1 1342.1,1620.1 C1344.2,1620.1 1346.2,1620.1 1348.2,1620.0 C1350.2,1620.0 1352.2,1620.0 1354.2,1620.0 C1356.2,1620.0 1358.2,1620.0 1360.3,1619.9 C1362.3,1619.9 1364.3,1619.9 1366.3,1619.9 C1368.3,1619.9 1370.3,1619.8 1372.3,1619.8 C1374.3,1619.8 1376.3,1619.8 1378.4,1619.8 C1380.4,1619.8 1382.4,1619.7 1384.4,1619.7 C1386.4,1619.7 1388.4,1619.7 1390.4,1619.7 C1392.4,1619.7 1394.5,1619.6 1396.5,1619.6 C1398.5,1619.6 1400.5,1619.6 1402.5,1619.6 C1404.5,1619.6 1406.5,1619.6 1408.5,1619.5 C1410.6,1619.5 1412.6,1619.5 1414.6,1619.5 C1416.6,1619.5 1418.6,1619.5 1420.6,1619.4 C1422.6,1619.4 1424.6,1619.4 1426.6,1619.4 C1428.7,1619.4 1430.7,1619.4 1432.7,1619.4 C1434.7,1619.3 1436.7,1619.3 1438.7,1619.3 C1440.7,1619.3 1442.7,1619.3 1444.8,1619.3 C1446.8,1619.3 1448.8,1619.2 1450.8,1619.2 C1452.8,1619.2 1454.8,1619.2 1456.8,1619.2 C1458.8,1619.2 1460.8,1619.2 1462.9,1619.2 C1464.9,1619.1 1466.9,1619.1 1468.9,1619.1 C1470.9,1619.1 1472.9,1619.1 1474.9,1619.1 C1476.9,1619.1 1479.0,1619.0 1481.0,1619.0 C1483.0,1619.0 1485.0,1619.0 1487.0,1619.0 C1489.0,1619.0 1491.0,1619.0 1493.0,1619.0 C1495.1,1619.0 1497.1,1618.9 1499.1,1618.9 C1501.1,1618.9 1503.1,1618.9 1505.1,1618.9 C1507.1,1618.9 1509.1,1618.9 1511.1,1618.9 C1513.2,1618.9 1515.2,1618.8 1517.2,1618.8 C1519.2,1618.8 1521.2,1618.8 1523.2,1618.8 C1525.2,1618.8 1527.2,1618.8 1529.3,1618.8 C1531.3,1618.8 1533.3,1618.7 1535.3,1618.7 C1537.3,1618.7 1539.3,1618.7 1541.3,1618.7 C1543.3,1618.7 1545.4,1618.7 1547.4,1618.7 C1549.4,1618.7 1551.4,1618.7 1553.4,1618.7 C1555.4,1618.6 1557.4,1618.6 1559.4,1618.6 C1561.4,1618.6 1563.5,1618.6 1565.5,1618.6 C1567.5,1618.6 1569.5,1618.6 1571.5,1618.6 C1573.5,1618.6 1575.5,1618.6 1577.5,1618.6 C1579.6,1618.5 1581.6,1618.5 1583.6,1618.5 C1585.6,1618.5 1587.6,1618.5 1589.6,1618.5 C1591.6,1618.5 1593.6,1618.5 1595.6,1618.5 C1597.7,1618.5 1599.7,1618.5 1601.7,1618.5 C1603.7,1618.5 1605.7,1618.5 1607.7,1618.4 C1609.7,1618.4 1611.7,1618.4 1613.8,1618.4 C1615.8,1618.4 1617.8,1618.4 1619.8,1618.4 C1621.8,1618.4 1623.8,1618.4 1625.8,1618.4 C1627.8,1618.4 1629.9,1618.4 1631.9,1618.4 C1633.9,1618.4 1635.9,1618.4 1637.9,1618.4 C1639.9,1618.3 1641.9,1618.3 1643.9,1618.3 C1645.9,1618.3 1648.0,1618.3 1650.0,1618.3 C1652.0,1618.3 1654.0,1618.3 1656.0,1618.3 C1658.0,1618.3 1660.0,1618.3 1662.0,1618.3 C1664.1,1618.3 1666.1,1618.3 1668.1,1618.3 C1670.1,1618.3 1672.1,1618.3 1674.1,1618.3 C1676.1,1618.3 1678.1,1618.3 1680.1,1618.3 C1682.2,1618.3 1684.2,1618.3 1686.2,1618.2 C1688.2,1618.2 1690.2,1618.2 1692.2,1618.2 C1694.2,1618.2 1696.2,1618.2 1698.3,1618.2 C1700.3,1618.2 1702.3,1618.2 1704.3,1618.2 C1706.3,1618.2 1708.3,1618.2 1710.3,1618.2 C1712.3,1618.2 1714.4,1618.2 1716.4,1618.2 C1718.4,1618.2 1720.4,1618.2 1722.4,1618.2 C1724.4,1618.2 1726.4,1618.2 1728.4,1618.2 C1730.4,1618.2 1732.5,1618.2 1734.5,1618.2 C1736.5,1618.2 1738.5,1618.2 1740.5,1618.2 C1742.5,1618.2 1744.5,1618.2 1746.5,1618.2 C1748.6,1618.2 1750.6,1618.2 1752.6,1618.2 C1754.6,1618.2 1756.6,1618.2 1758.6,1618.2 C1760.6,1618.2 1762.6,1618.2 1764.6,1618.2 C1766.7,1618.2 1768.7,1618.2 1770.7,1618.2 C1772.7,1618.2 1774.7,1618.2 1776.7,1618.2 C1778.7,1618.2 1780.7,1618.2 1782.8,1618.2 C1784.8,1618.2 1786.8,1618.2 1788.8,1618.2 C1790.8,1618.2 1792.8,1618.2 1794.8,1618.2 C1796.8,1618.2 1798.9,1618.2 1800.9,1618.2 C1802.9,1618.2 1804.9,1618.2 1806.9,1618.2 C1815.8,1618.2 1824.7,1621.4 1833.6,1621.4 C1868.0,1621.4 1902.3,1621.4 1936.7,1621.4" fill="none" stroke="#7030A0" stroke-width="8.6" stroke-linecap="butt" stroke-linejoin="round"/>
<circle cx="1936.7" cy="1621.4" r="4.3" fill="#7030A0"/>
<path d="M60.1,2562.2 C62.1,2562.0 64.1,2561.9 66.1,2561.7 C68.1,2561.5 70.1,2561.4 72.2,2561.2 C74.2,2561.1 76.2,2560.9 78.2,2560.8 C80.2,2560.7 82.2,2560.5 84.2,2560.4 C86.2,2560.3 88.2,2560.1 90.2,2560.0 C92.2,2559.9 94.2,2559.8 96.3,2559.6 C98.3,2559.5 100.3,2559.4 102.3,2559.3 C104.3,2559.2 106.3,2559.1 108.3,2559.0 C110.3,2558.8 112.3,2558.7 114.3,2558.6 C116.3,2558.5 118.3,2558.4 120.4,2558.4 C122.4,2558.3 124.4,2558.2 126.4,2558.1 C128.4,2558.0 130.4,2557.9 132.4,2557.8 C134.4,2557.7 136.4,2557.7 138.4,2557.6 C140.4,2557.5 142.4,2557.4 144.5,2557.4 C146.5,2557.3 148.5,2557.2 150.5,2557.2 C152.5,2557.1 154.5,2557.0 156.5,2557.0 C158.5,2556.9 160.5,2556.9 162.5,2556.8 C164.5,2556.8 166.5,2556.7 168.6,2556.7 C170.6,2556.6 172.6,2556.6 174.6,2556.5 C176.6,2556.5 178.6,2556.4 180.6,2556.4 C182.6,2556.4 184.6,2556.3 186.6,2556.3 C188.6,2556.3 190.6,2556.2 192.7,2556.2 C194.7,2556.2 196.7,2556.2 198.7,2556.1 C200.7,2556.1 202.7,2556.1 204.7,2556.1 C206.7,2556.0 208.7,2556.0 210.7,2556.0 C212.7,2556.0 214.7,2556.0 216.8,2556.0 C218.8,2556.0 220.8,2556.0 222.8,2555.9 C224.8,2555.9 226.8,2555.9 228.8,2555.9 C230.8,2555.9 232.8,2555.9 234.8,2555.9 C236.8,2555.9 238.8,2555.9 240.9,2555.9 C242.9,2555.9 244.9,2555.9 246.9,2556.0 C248.9,2556.0 250.9,2556.0 252.9,2556.0 C254.9,2556.0 256.9,2556.0 258.9,2556.0 C260.9,2556.0 262.9,2556.0 265.0,2556.1 C267.0,2556.1 269.0,2556.1 271.0,2556.1 C273.0,2556.1 275.0,2556.2 277.0,2556.2 C279.0,2556.2 281.0,2556.2 283.0,2556.3 C285.0,2556.3 287.0,2556.3 289.1,2556.3 C291.1,2556.4 293.1,2556.4 295.1,2556.4 C297.1,2556.5 299.1,2556.5 301.1,2556.5 C303.1,2556.5 305.1,2556.6 307.1,2556.6 C309.1,2556.7 311.1,2556.7 313.2,2556.7 C315.2,2556.8 317.2,2556.8 319.2,2556.8 C321.2,2556.9 323.2,2556.9 325.2,2557.0 C327.2,2557.0 329.2,2557.0 331.2,2557.1 C333.2,2557.1 335.2,2557.2 337.3,2557.2 C339.3,2557.3 341.3,2557.3 343.3,2557.4 C345.3,2557.4 347.3,2557.5 349.3,2557.5 C351.3,2557.6 353.3,2557.6 355.3,2557.7 C357.3,2557.7 359.3,2557.8 361.4,2557.8 C363.4,2557.9 365.4,2557.9 367.4,2558.0 C369.4,2558.0 371.4,2558.1 373.4,2558.1 C375.4,2558.2 377.4,2558.2 379.4,2558.3 C381.4,2558.4 383.4,2558.4 385.5,2558.5 C387.5,2558.5 389.5,2558.6 391.5,2558.6 C393.5,2558.7 395.5,2558.8 397.5,2558.8 C399.5,2558.9 401.5,2558.9 403.5,2559.0 C405.5,2559.1 407.5,2559.1 409.6,2559.2 C411.6,2559.2 413.6,2559.3 415.6,2559.4 C417.6,2559.4 419.6,2559.5 421.6,2559.6 C423.6,2559.6 425.6,2559.7 427.6,2559.7 C429.6,2559.8 431.6,2559.9 433.7,2559.9 C435.7,2560.0 437.7,2560.1 439.7,2560.1 C441.7,2560.2 443.7,2560.3 445.7,2560.3 C447.7,2560.4 449.7,2560.5 451.7,2560.5 C453.7,2560.6 455.8,2560.6 457.8,2560.7 C459.8,2560.8 461.8,2560.8 463.8,2560.9 C465.8,2561.0 467.8,2561.0 469.8,2561.1 C471.8,2561.2 473.8,2561.2 475.8,2561.3 C477.8,2561.4 479.9,2561.4 481.9,2561.5 C483.9,2561.6 485.9,2561.6 487.9,2561.7 C489.9,2561.7 491.9,2561.8 493.9,2561.9 C495.9,2561.9 497.9,2562.0 499.9,2562.1 C501.9,2562.1 504.0,2562.2 506.0,2562.3 C508.0,2562.3 510.0,2562.4 512.0,2562.4 C514.0,2562.5 516.0,2562.6 518.0,2562.6 C520.0,2562.7 522.0,2562.8 524.0,2562.8 C526.0,2562.9 528.1,2562.9 530.1,2563.0 C532.1,2563.1 534.1,2563.1 536.1,2563.2 C538.1,2563.2 540.1,2563.3 542.1,2563.3 C544.1,2563.4 546.1,2563.5 548.1,2563.5 C550.1,2563.6 552.2,2563.6 554.2,2563.7 C556.2,2563.8 558.2,2563.8 560.2,2563.9 C562.2,2563.9 564.2,2564.0 566.2,2564.0 C568.2,2564.1 570.2,2564.1 572.2,2564.2 C574.2,2564.3 576.3,2564.3 578.3,2564.4 C580.3,2564.4 582.3,2564.5 584.3,2564.5 C586.3,2564.6 588.3,2564.6 590.3,2564.7 C592.3,2564.7 594.3,2564.8 596.3,2564.8 C598.3,2564.9 600.4,2564.9 602.4,2565.0 C604.4,2565.0 606.4,2565.1 608.4,2565.1 C610.4,2565.2 612.4,2565.2 614.4,2565.3 C616.4,2565.3 618.4,2565.4 620.4,2565.4 C622.4,2565.5 624.5,2565.5 626.5,2565.6 C628.5,2565.6 630.5,2565.7 632.5,2565.7 C634.5,2565.8 636.5,2565.8 638.5,2565.9 C640.5,2565.9 642.5,2566.0 644.5,2566.0 C646.5,2566.1 648.6,2566.1 650.6,2566.2 C652.6,2566.2 654.6,2566.3 656.6,2566.3 C658.6,2566.4 660.6,2566.4 662.6,2566.5 C664.6,2566.5 666.6,2566.6 668.6,2566.6 C670.6,2566.6 672.7,2566.7 674.7,2566.7 C676.7,2566.8 678.7,2566.8 680.7,2566.9 C682.7,2566.9 684.7,2567.0 686.7,2567.0 C688.7,2567.0 690.7,2567.1 692.7,2567.1 C694.7,2567.2 696.8,2567.2 698.8,2567.3 C700.8,2567.3 702.8,2567.4 704.8,2567.4 C706.8,2567.4 708.8,2567.5 710.8,2567.5 C712.8,2567.6 714.8,2567.6 716.8,2567.7 C718.8,2567.7 720.9,2567.7 722.9,2567.8 C724.9,2567.8 726.9,2567.9 728.9,2567.9 C730.9,2568.0 732.9,2568.0 734.9,2568.0 C736.9,2568.1 738.9,2568.1 740.9,2568.2 C742.9,2568.2 745.0,2568.3 747.0,2568.3 C749.0,2568.3 751.0,2568.4 753.0,2568.4 C755.0,2568.5 757.0,2568.5 759.0,2568.5 C761.0,2568.6 763.0,2568.6 765.0,2568.7 C767.0,2568.7 769.1,2568.8 771.1,2568.8 C773.1,2568.8 775.1,2568.9 777.1,2568.9 C779.1,2569.0 781.1,2569.0 783.1,2569.0 C785.1,2569.1 787.1,2569.1 789.1,2569.2 C791.1,2569.2 793.2,2569.2 795.2,2569.3 C797.2,2569.3 799.2,2569.4 801.2,2569.4 C803.2,2569.4 805.2,2569.5 807.2,2569.5 C809.2,2569.6 811.2,2569.6 813.2,2569.6 C815.3,2569.7 817.3,2569.7 819.3,2569.8 C821.3,2569.8 823.3,2569.8 825.3,2569.9 C827.3,2569.9 829.3,2570.0 831.3,2570.0 C833.3,2570.0 835.3,2570.1 837.3,2570.1 C839.4,2570.2 841.4,2570.2 843.4,2570.2 C845.4,2570.3 847.4,2570.3 849.4,2570.4 C851.4,2570.4 853.4,2570.4 855.4,2570.5 C857.4,2570.5 859.4,2570.6 861.4,2570.6 C863.5,2570.6 865.5,2570.7 867.5,2570.7 C869.5,2570.8 871.5,2570.8 873.5,2570.8 C875.5,2570.9 877.5,2570.9 879.5,2571.0 C881.5,2571.0 883.5,2571.0 885.5,2571.1 C887.6,2571.1 889.6,2571.2 891.6,2571.2 C893.6,2571.2 895.6,2571.3 897.6,2571.3 C899.6,2571.4 901.6,2571.4 903.6,2571.4 C905.6,2571.5 907.6,2571.5 909.6,2571.6 C911.7,2571.6 913.7,2571.6 915.7,2571.7 C917.7,2571.7 919.7,2571.8 921.7,2571.8 C923.7,2571.9 925.7,2571.9 927.7,2571.9 C929.7,2572.0 931.7,2572.0 933.7,2572.1 C935.8,2572.1 937.8,2572.1 939.8,2572.2 C941.8,2572.2 943.8,2572.3 945.8,2572.3 C947.8,2572.4 949.8,2572.4 951.8,2572.4 C953.8,2572.5 955.8,2572.5 957.8,2572.6 C959.9,2572.6 961.9,2572.7 963.9,2572.7 C965.9,2572.7 967.9,2572.8 969.9,2572.8 C971.9,2572.9 973.9,2572.9 975.9,2573.0 C977.9,2573.0 979.9,2573.0 981.9,2573.1 C984.0,2573.1 986.0,2573.2 988.0,2573.2 C990.0,2573.3 992.0,2573.3 994.0,2573.4 C996.0,2573.4 998.0,2573.4 1000.0,2573.5 C1002.0,2573.5 1004.0,2573.6 1006.0,2573.6 C1008.1,2573.7 1010.1,2573.7 1012.1,2573.8 C1014.1,2573.8 1016.1,2573.9 1018.1,2573.9 C1020.1,2573.9 1022.1,2574.0 1024.1,2574.0 C1026.1,2574.1 1028.1,2574.1 1030.1,2574.2 C1032.2,2574.2 1034.2,2574.3 1036.2,2574.3 C1038.2,2574.4 1040.2,2574.4 1042.2,2574.5 C1044.2,2574.5 1046.2,2574.6 1048.2,2574.6 C1050.2,2574.7 1052.2,2574.7 1054.2,2574.8 C1056.3,2574.8 1058.3,2574.9 1060.3,2574.9 C1062.3,2575.0 1064.3,2575.0 1066.3,2575.1 C1068.3,2575.1 1070.3,2575.2 1072.3,2575.2 C1074.3,2575.3 1076.3,2575.3 1078.3,2575.4 C1080.4,2575.4 1082.4,2575.5 1084.4,2575.5 C1086.4,2575.6 1088.4,2575.6 1090.4,2575.7 C1092.4,2575.7 1094.4,2575.8 1096.4,2575.8 C1098.4,2575.9 1100.4,2576.0 1102.4,2576.0 C1104.5,2576.1 1106.5,2576.1 1108.5,2576.2 C1110.5,2576.2 1112.5,2576.3 1114.5,2576.3 C1116.5,2576.4 1118.5,2576.4 1120.5,2576.5 C1122.5,2576.6 1124.5,2576.6 1126.5,2576.7 C1128.6,2576.7 1130.6,2576.8 1132.6,2576.8 C1134.6,2576.9 1136.6,2577.0 1138.6,2577.0 C1140.6,2577.1 1142.6,2577.1 1144.6,2577.2 C1146.6,2577.3 1148.6,2577.3 1150.6,2577.4 C1152.7,2577.4 1154.7,2577.5 1156.7,2577.6 C1158.7,2577.6 1160.7,2577.7 1162.7,2577.7 C1164.7,2577.8 1166.7,2577.9 1168.7,2577.9 C1170.7,2578.0 1172.7,2578.1 1174.7,2578.1 C1176.8,2578.2 1178.8,2578.2 1180.8,2578.3 C1182.8,2578.4 1184.8,2578.4 1186.8,2578.5 C1194.1,2578.8 1201.4,2579.8 1208.7,2581.5 C1213.3,2582.5 1217.8,2585.4 1222.4,2588.7 C1226.9,2591.9 1231.5,2599.1 1236.0,2603.8 C1239.7,2607.6 1243.3,2612.1 1247.0,2614.7 C1250.6,2617.3 1254.3,2619.7 1257.9,2620.7 C1262.6,2622.0 1267.3,2623.1 1272.0,2623.1 C1278.3,2623.1 1284.7,2622.5 1291.0,2621.7 C1293.0,2621.4 1295.0,2620.6 1297.0,2620.1 C1299.0,2619.6 1301.0,2619.1 1303.0,2618.5 C1305.0,2618.0 1307.0,2617.5 1309.0,2617.0 C1311.0,2616.5 1313.1,2616.1 1315.1,2615.6 C1317.1,2615.1 1319.1,2614.6 1321.1,2614.2 C1323.1,2613.7 1325.1,2613.2 1327.1,2612.8 C1329.1,2612.3 1331.1,2611.9 1333.1,2611.4 C1335.1,2611.0 1337.1,2610.6 1339.1,2610.1 C1341.1,2609.7 1343.1,2609.3 1345.1,2608.9 C1347.1,2608.5 1349.1,2608.1 1351.1,2607.7 C1353.1,2607.3 1355.2,2606.9 1357.2,2606.5 C1359.2,2606.1 1361.2,2605.7 1363.2,2605.3 C1365.2,2605.0 1367.2,2604.6 1369.2,2604.2 C1371.2,2603.9 1373.2,2603.5 1375.2,2603.2 C1377.2,2602.8 1379.2,2602.5 1381.2,2602.1 C1383.2,2601.8 1385.2,2601.4 1387.2,2601.1 C1389.2,2600.8 1391.2,2600.4 1393.2,2600.1 C1395.2,2599.8 1397.2,2599.5 1399.3,2599.2 C1401.3,2598.9 1403.3,2598.6 1405.3,2598.3 C1407.3,2598.0 1409.3,2597.7 1411.3,2597.4 C1413.3,2597.1 1415.3,2596.8 1417.3,2596.5 C1419.3,2596.2 1421.3,2596.0 1423.3,2595.7 C1425.3,2595.4 1427.3,2595.2 1429.3,2594.9 C1431.3,2594.6 1433.3,2594.4 1435.3,2594.1 C1437.3,2593.9 1439.3,2593.6 1441.4,2593.4 C1443.4,2593.1 1445.4,2592.9 1447.4,2592.6 C1449.4,2592.4 1451.4,2592.2 1453.4,2591.9 C1455.4,2591.7 1457.4,2591.5 1459.4,2591.2 C1461.4,2591.0 1463.4,2590.8 1465.4,2590.6 C1467.4,2590.4 1469.4,2590.1 1471.4,2589.9 C1473.4,2589.7 1475.4,2589.5 1477.4,2589.3 C1479.4,2589.1 1481.4,2588.9 1483.5,2588.7 C1485.5,2588.5 1487.5,2588.3 1489.5,2588.1 C1491.5,2587.9 1493.5,2587.7 1495.5,2587.5 C1497.5,2587.3 1499.5,2587.2 1501.5,2587.0 C1503.5,2586.8 1505.5,2586.6 1507.5,2586.4 C1509.5,2586.2 1511.5,2586.1 1513.5,2585.9 C1515.5,2585.7 1517.5,2585.5 1519.5,2585.4 C1521.5,2585.2 1523.5,2585.0 1525.6,2584.9 C1527.6,2584.7 1529.6,2584.5 1531.6,2584.4 C1533.6,2584.2 1535.6,2584.1 1537.6,2583.9 C1539.6,2583.8 1541.6,2583.6 1543.6,2583.4 C1545.6,2583.3 1547.6,2583.1 1549.6,2583.0 C1551.6,2582.8 1553.6,2582.7 1555.6,2582.5 C1557.6,2582.4 1559.6,2582.3 1561.6,2582.1 C1563.6,2582.0 1565.6,2581.8 1567.7,2581.7 C1569.7,2581.6 1571.7,2581.4 1573.7,2581.3 C1575.7,2581.2 1577.7,2581.0 1579.7,2580.9 C1581.7,2580.8 1583.7,2580.6 1585.7,2580.5 C1587.7,2580.4 1589.7,2580.3 1591.7,2580.1 C1593.7,2580.0 1595.7,2579.9 1597.7,2579.8 C1599.7,2579.6 1601.7,2579.5 1603.7,2579.4 C1605.7,2579.3 1607.7,2579.2 1609.7,2579.0 C1611.8,2578.9 1613.8,2578.8 1615.8,2578.7 C1617.8,2578.6 1619.8,2578.5 1621.8,2578.4 C1623.8,2578.2 1625.8,2578.1 1627.8,2578.0 C1629.8,2577.9 1631.8,2577.8 1633.8,2577.7 C1635.8,2577.6 1637.8,2577.5 1639.8,2577.4 C1641.8,2577.3 1643.8,2577.2 1645.8,2577.1 C1647.8,2577.0 1649.8,2576.9 1651.8,2576.8 C1653.9,2576.7 1655.9,2576.6 1657.9,2576.5 C1659.9,2576.4 1661.9,2576.3 1663.9,2576.2 C1665.9,2576.1 1667.9,2576.0 1669.9,2575.9 C1671.9,2575.8 1673.9,2575.7 1675.9,2575.6 C1677.9,2575.5 1679.9,2575.4 1681.9,2575.3 C1683.9,2575.2 1685.9,2575.1 1687.9,2575.0 C1689.9,2574.9 1691.9,2574.9 1693.9,2574.8 C1696.0,2574.7 1698.0,2574.6 1700.0,2574.5 C1702.0,2574.4 1704.0,2574.3 1706.0,2574.2 C1708.0,2574.1 1710.0,2574.0 1712.0,2574.0 C1714.0,2573.9 1716.0,2573.8 1718.0,2573.7 C1720.0,2573.6 1722.0,2573.5 1724.0,2573.4 C1726.0,2573.3 1728.0,2573.2 1730.0,2573.2 C1732.0,2573.1 1734.0,2573.0 1736.0,2572.9 C1738.1,2572.8 1740.1,2572.7 1742.1,2572.6 C1744.1,2572.5 1746.1,2572.5 1748.1,2572.4 C1750.1,2572.3 1752.1,2572.2 1754.1,2572.1 C1756.1,2572.0 1758.1,2571.9 1760.1,2571.8 C1762.1,2571.7 1764.1,2571.7 1766.1,2571.6 C1768.1,2571.5 1770.1,2571.4 1772.1,2571.3 C1774.1,2571.2 1776.1,2571.1 1778.1,2571.0 C1780.2,2570.9 1782.2,2570.8 1784.2,2570.7 C1786.2,2570.7 1788.2,2570.6 1790.2,2570.5 C1792.2,2570.4 1794.2,2570.3 1796.2,2570.2 C1798.2,2570.1 1800.2,2570.0 1802.2,2569.9 C1804.2,2569.8 1806.2,2569.7 1808.2,2569.6 C1810.2,2569.5 1812.2,2569.4 1814.2,2569.3 C1816.2,2569.2 1818.2,2569.1 1820.2,2569.0 C1822.2,2568.9 1824.3,2568.8 1826.3,2568.7 C1828.3,2568.6 1830.3,2568.5 1832.3,2568.4 C1834.3,2568.3 1836.3,2568.2 1838.3,2568.1 C1840.3,2568.0 1842.3,2567.9 1844.3,2567.8 C1846.3,2567.7 1848.3,2567.6 1850.3,2567.5 C1852.3,2567.3 1854.3,2567.2 1856.3,2567.1 C1858.3,2567.0 1860.3,2566.9 1862.3,2566.8 C1864.3,2566.7 1866.4,2566.5 1868.4,2566.4 C1870.4,2566.3 1872.4,2566.2 1874.4,2566.1 C1876.4,2566.0 1878.4,2565.8 1880.4,2565.7 C1882.4,2565.6 1884.4,2565.5 1886.4,2565.3" fill="none" stroke="#E00000" stroke-width="8.6" stroke-linecap="butt" stroke-linejoin="round"/>
<circle cx="1886.4" cy="2565.3" r="4.3" fill="#E00000"/>
<path d="M60.1,2760.7 C62.1,2760.7 64.1,2760.7 66.1,2760.7 C68.1,2760.7 70.2,2760.7 72.2,2760.7 C74.2,2760.7 76.2,2760.7 78.2,2760.6 C80.2,2760.6 82.2,2760.6 84.2,2760.6 C86.3,2760.6 88.3,2760.6 90.3,2760.6 C92.3,2760.6 94.3,2760.6 96.3,2760.6 C98.3,2760.6 100.3,2760.6 102.4,2760.6 C104.4,2760.6 106.4,2760.6 108.4,2760.6 C110.4,2760.6 112.4,2760.6 114.4,2760.6 C116.4,2760.7 118.5,2760.7 120.5,2760.7 C122.5,2760.7 124.5,2760.7 126.5,2760.7 C128.5,2760.7 130.5,2760.7 132.5,2760.7 C134.6,2760.7 136.6,2760.7 138.6,2760.7 C140.6,2760.7 142.6,2760.7 144.6,2760.7 C146.6,2760.7 148.6,2760.7 150.7,2760.7 C152.7,2760.7 154.7,2760.7 156.7,2760.8 C158.7,2760.8 160.7,2760.8 162.7,2760.8 C164.7,2760.8 166.8,2760.8 168.8,2760.8 C170.8,2760.8 172.8,2760.8 174.8,2760.8 C176.8,2760.8 178.8,2760.8 180.8,2760.9 C182.9,2760.9 184.9,2760.9 186.9,2760.9 C188.9,2760.9 190.9,2760.9 192.9,2760.9 C194.9,2760.9 196.9,2760.9 199.0,2761.0 C201.0,2761.0 203.0,2761.0 205.0,2761.0 C207.0,2761.0 209.0,2761.0 211.0,2761.0 C213.0,2761.1 215.1,2761.1 217.1,2761.1 C219.1,2761.1 221.1,2761.1 223.1,2761.1 C225.1,2761.1 227.1,2761.2 229.1,2761.2 C231.2,2761.2 233.2,2761.2 235.2,2761.2 C237.2,2761.2 239.2,2761.2 241.2,2761.3 C243.2,2761.3 245.2,2761.3 247.3,2761.3 C249.3,2761.3 251.3,2761.3 253.3,2761.4 C255.3,2761.4 257.3,2761.4 259.3,2761.4 C261.3,2761.4 263.3,2761.5 265.4,2761.5 C267.4,2761.5 269.4,2761.5 271.4,2761.5 C273.4,2761.6 275.4,2761.6 277.4,2761.6 C279.4,2761.6 281.5,2761.6 283.5,2761.7 C285.5,2761.7 287.5,2761.7 289.5,2761.7 C291.5,2761.7 293.5,2761.8 295.5,2761.8 C297.6,2761.8 299.6,2761.8 301.6,2761.9 C303.6,2761.9 305.6,2761.9 307.6,2761.9 C309.6,2761.9 311.6,2762.0 313.7,2762.0 C315.7,2762.0 317.7,2762.0 319.7,2762.1 C321.7,2762.1 323.7,2762.1 325.7,2762.1 C327.7,2762.2 329.8,2762.2 331.8,2762.2 C333.8,2762.2 335.8,2762.3 337.8,2762.3 C339.8,2762.3 341.8,2762.3 343.8,2762.4 C345.9,2762.4 347.9,2762.4 349.9,2762.4 C351.9,2762.5 353.9,2762.5 355.9,2762.5 C357.9,2762.6 359.9,2762.6 362.0,2762.6 C364.0,2762.6 366.0,2762.7 368.0,2762.7 C370.0,2762.7 372.0,2762.8 374.0,2762.8 C376.0,2762.8 378.1,2762.8 380.1,2762.9 C382.1,2762.9 384.1,2762.9 386.1,2763.0 C388.1,2763.0 390.1,2763.0 392.1,2763.0 C394.2,2763.1 396.2,2763.1 398.2,2763.1 C400.2,2763.2 402.2,2763.2 404.2,2763.2 C406.2,2763.3 408.2,2763.3 410.3,2763.3 C412.3,2763.4 414.3,2763.4 416.3,2763.4 C418.3,2763.4 420.3,2763.5 422.3,2763.5 C424.3,2763.5 426.4,2763.6 428.4,2763.6 C430.4,2763.6 432.4,2763.7 434.4,2763.7 C436.4,2763.7 438.4,2763.8 440.4,2763.8 C442.5,2763.8 444.5,2763.9 446.5,2763.9 C448.5,2763.9 450.5,2764.0 452.5,2764.0 C454.5,2764.0 456.5,2764.1 458.5,2764.1 C460.6,2764.1 462.6,2764.2 464.6,2764.2 C466.6,2764.3 468.6,2764.3 470.6,2764.3 C472.6,2764.4 474.6,2764.4 476.7,2764.4 C478.7,2764.5 480.7,2764.5 482.7,2764.5 C484.7,2764.6 486.7,2764.6 488.7,2764.6 C490.7,2764.7 492.8,2764.7 494.8,2764.8 C496.8,2764.8 498.8,2764.8 500.8,2764.9 C502.8,2764.9 504.8,2764.9 506.8,2765.0 C508.9,2765.0 510.9,2765.1 512.9,2765.1 C514.9,2765.1 516.9,2765.2 518.9,2765.2 C520.9,2765.2 522.9,2765.3 525.0,2765.3 C527.0,2765.4 529.0,2765.4 531.0,2765.4 C533.0,2765.5 535.0,2765.5 537.0,2765.6 C539.0,2765.6 541.1,2765.6 543.1,2765.7 C545.1,2765.7 547.1,2765.8 549.1,2765.8 C551.1,2765.8 553.1,2765.9 555.1,2765.9 C557.2,2766.0 559.2,2766.0 561.2,2766.0 C563.2,2766.1 565.2,2766.1 567.2,2766.2 C569.2,2766.2 571.2,2766.2 573.3,2766.3 C575.3,2766.3 577.3,2766.4 579.3,2766.4 C581.3,2766.4 583.3,2766.5 585.3,2766.5 C587.3,2766.6 589.4,2766.6 591.4,2766.6 C593.4,2766.7 595.4,2766.7 597.4,2766.8 C599.4,2766.8 601.4,2766.9 603.4,2766.9 C605.5,2766.9 607.5,2767.0 609.5,2767.0 C611.5,2767.1 613.5,2767.1 615.5,2767.1 C617.5,2767.2 619.5,2767.2 621.6,2767.3 C623.6,2767.3 625.6,2767.4 627.6,2767.4 C629.6,2767.4 631.6,2767.5 633.6,2767.5 C635.6,2767.6 637.6,2767.6 639.7,2767.7 C641.7,2767.7 643.7,2767.7 645.7,2767.8 C647.7,2767.8 649.7,2767.9 651.7,2767.9 C653.7,2768.0 655.8,2768.0 657.8,2768.1 C659.8,2768.1 661.8,2768.1 663.8,2768.2 C665.8,2768.2 667.8,2768.3 669.8,2768.3 C671.9,2768.4 673.9,2768.4 675.9,2768.4 C677.9,2768.5 679.9,2768.5 681.9,2768.6 C683.9,2768.6 685.9,2768.7 688.0,2768.7 C690.0,2768.8 692.0,2768.8 694.0,2768.8 C696.0,2768.9 698.0,2768.9 700.0,2769.0 C702.0,2769.0 704.1,2769.1 706.1,2769.1 C708.1,2769.2 710.1,2769.2 712.1,2769.2 C714.1,2769.3 716.1,2769.3 718.1,2769.4 C720.2,2769.4 722.2,2769.5 724.2,2769.5 C726.2,2769.6 728.2,2769.6 730.2,2769.7 C732.2,2769.7 734.2,2769.7 736.3,2769.8 C738.3,2769.8 740.3,2769.9 742.3,2769.9 C744.3,2770.0 746.3,2770.0 748.3,2770.1 C750.3,2770.1 752.4,2770.2 754.4,2770.2 C756.4,2770.2 758.4,2770.3 760.4,2770.3 C762.4,2770.4 764.4,2770.4 766.4,2770.5 C768.5,2770.5 770.5,2770.6 772.5,2770.6 C774.5,2770.7 776.5,2770.7 778.5,2770.7 C780.5,2770.8 782.5,2770.8 784.6,2770.9 C786.6,2770.9 788.6,2771.0 790.6,2771.0 C792.6,2771.1 794.6,2771.1 796.6,2771.2 C798.6,2771.2 800.7,2771.2 802.7,2771.3 C804.7,2771.3 806.7,2771.4 808.7,2771.4 C810.7,2771.5 812.7,2771.5 814.7,2771.6 C816.8,2771.6 818.8,2771.7 820.8,2771.7 C822.8,2771.8 824.8,2771.8 826.8,2771.8 C828.8,2771.9 830.8,2771.9 832.8,2772.0 C834.9,2772.0 836.9,2772.1 838.9,2772.1 C840.9,2772.2 842.9,2772.2 844.9,2772.3 C846.9,2772.3 848.9,2772.3 851.0,2772.4 C853.0,2772.4 855.0,2772.5 857.0,2772.5 C859.0,2772.6 861.0,2772.6 863.0,2772.7 C865.0,2772.7 867.1,2772.8 869.1,2772.8 C871.1,2772.8 873.1,2772.9 875.1,2772.9 C877.1,2773.0 879.1,2773.0 881.1,2773.1 C883.2,2773.1 885.2,2773.2 887.2,2773.2 C889.2,2773.3 891.2,2773.3 893.2,2773.3 C895.2,2773.4 897.2,2773.4 899.3,2773.5 C901.3,2773.5 903.3,2773.6 905.3,2773.6 C907.3,2773.7 909.3,2773.7 911.3,2773.8 C913.3,2773.8 915.4,2773.8 917.4,2773.9 C919.4,2773.9 921.4,2774.0 923.4,2774.0 C925.4,2774.1 927.4,2774.1 929.4,2774.2 C931.5,2774.2 933.5,2774.2 935.5,2774.3 C937.5,2774.3 939.5,2774.4 941.5,2774.4 C943.5,2774.5 945.5,2774.5 947.6,2774.6 C949.6,2774.6 951.6,2774.6 953.6,2774.7 C955.6,2774.7 957.6,2774.8 959.6,2774.8 C961.6,2774.9 963.7,2774.9 965.7,2774.9 C967.7,2775.0 969.7,2775.0 971.7,2775.1 C973.7,2775.1 975.7,2775.2 977.7,2775.2 C979.8,2775.2 981.8,2775.3 983.8,2775.3 C985.8,2775.4 987.8,2775.4 989.8,2775.5 C991.8,2775.5 993.8,2775.5 995.9,2775.6 C997.9,2775.6 999.9,2775.7 1001.9,2775.7 C1003.9,2775.8 1005.9,2775.8 1007.9,2775.8 C1009.9,2775.9 1012.0,2775.9 1014.0,2776.0 C1016.0,2776.0 1018.0,2776.1 1020.0,2776.1 C1024.6,2776.2 1029.1,2776.2 1033.7,2776.4 C1038.3,2776.6 1042.8,2777.5 1047.4,2778.5 C1051.0,2779.3 1054.7,2780.8 1058.3,2782.6 C1061.0,2784.0 1063.8,2786.4 1066.5,2788.7 C1069.2,2791.0 1072.0,2794.0 1074.7,2796.9 C1077.4,2799.8 1080.2,2803.3 1082.9,2806.5 C1085.6,2809.7 1088.4,2813.3 1091.1,2816.1 C1093.8,2818.9 1096.6,2821.8 1099.3,2823.6 C1102.1,2825.4 1104.8,2826.9 1107.6,2827.7 C1110.3,2828.5 1113.1,2829.4 1115.8,2829.5 C1120.3,2829.7 1124.9,2829.8 1129.4,2829.8 C1134.0,2829.8 1138.5,2829.0 1143.1,2828.4 C1147.7,2827.8 1152.2,2826.7 1156.8,2825.7 C1161.4,2824.7 1165.9,2823.3 1170.5,2822.2 C1175.1,2821.1 1179.6,2819.9 1184.2,2818.8 C1188.7,2817.7 1193.3,2816.4 1197.8,2815.4 C1199.8,2815.0 1201.8,2814.6 1203.8,2814.2 C1205.9,2813.8 1207.9,2813.4 1209.9,2813.0 C1211.9,2812.7 1213.9,2812.3 1215.9,2811.9 C1218.0,2811.5 1220.0,2811.2 1222.0,2810.8 C1224.0,2810.4 1226.0,2810.1 1228.0,2809.7 C1230.0,2809.3 1232.1,2809.0 1234.1,2808.6 C1236.1,2808.3 1238.1,2807.9 1240.1,2807.6 C1242.1,2807.2 1244.2,2806.9 1246.2,2806.5 C1248.2,2806.2 1250.2,2805.9 1252.2,2805.5 C1254.2,2805.2 1256.2,2804.9 1258.3,2804.6 C1260.3,2804.2 1262.3,2803.9 1264.3,2803.6 C1266.3,2803.3 1268.3,2803.0 1270.4,2802.7 C1272.4,2802.4 1274.4,2802.0 1276.4,2801.7 C1278.4,2801.4 1280.4,2801.1 1282.4,2800.8 C1284.5,2800.6 1286.5,2800.3 1288.5,2800.0 C1290.5,2799.7 1292.5,2799.4 1294.5,2799.1 C1296.6,2798.8 1298.6,2798.6 1300.6,2798.3 C1302.6,2798.0 1304.6,2797.7 1306.6,2797.5 C1308.6,2797.2 1310.7,2796.9 1312.7,2796.7 C1314.7,2796.4 1316.7,2796.2 1318.7,2795.9 C1320.7,2795.6 1322.8,2795.4 1324.8,2795.1 C1326.8,2794.9 1328.8,2794.6 1330.8,2794.4 C1332.8,2794.2 1334.8,2793.9 1336.9,2793.7 C1338.9,2793.5 1340.9,2793.2 1342.9,2793.0 C1344.9,2792.8 1346.9,2792.5 1349.0,2792.3 C1351.0,2792.1 1353.0,2791.9 1355.0,2791.6 C1357.0,2791.4 1359.0,2791.2 1361.0,2791.0 C1363.1,2790.8 1365.1,2790.6 1367.1,2790.4 C1369.1,2790.2 1371.1,2790.0 1373.1,2789.8 C1375.1,2789.6 1377.2,2789.4 1379.2,2789.2 C1381.2,2789.0 1383.2,2788.8 1385.2,2788.6 C1387.2,2788.4 1389.3,2788.2 1391.3,2788.0 C1393.3,2787.9 1395.3,2787.7 1397.3,2787.5 C1399.3,2787.3 1401.3,2787.1 1403.4,2787.0 C1405.4,2786.8 1407.4,2786.6 1409.4,2786.5 C1411.4,2786.3 1413.4,2786.1 1415.5,2786.0 C1417.5,2785.8 1419.5,2785.6 1421.5,2785.5 C1423.5,2785.3 1425.5,2785.2 1427.5,2785.0 C1429.6,2784.9 1431.6,2784.7 1433.6,2784.6 C1435.6,2784.4 1437.6,2784.3 1439.6,2784.1 C1441.7,2784.0 1443.7,2783.9 1445.7,2783.7 C1447.7,2783.6 1449.7,2783.4 1451.7,2783.3 C1453.7,2783.2 1455.8,2783.1 1457.8,2782.9 C1459.8,2782.8 1461.8,2782.7 1463.8,2782.5 C1465.8,2782.4 1467.9,2782.3 1469.9,2782.2 C1471.9,2782.1 1473.9,2781.9 1475.9,2781.8 C1477.9,2781.7 1479.9,2781.6 1482.0,2781.5 C1484.0,2781.4 1486.0,2781.3 1488.0,2781.2 C1490.0,2781.1 1492.0,2781.0 1494.1,2780.9 C1496.1,2780.8 1498.1,2780.7 1500.1,2780.6 C1502.1,2780.5 1504.1,2780.4 1506.1,2780.3 C1508.2,2780.2 1510.2,2780.1 1512.2,2780.0 C1514.2,2779.9 1516.2,2779.8 1518.2,2779.7 C1520.3,2779.7 1522.3,2779.6 1524.3,2779.5 C1526.3,2779.4 1528.3,2779.3 1530.3,2779.2 C1532.3,2779.2 1534.4,2779.1 1536.4,2779.0 C1538.4,2778.9 1540.4,2778.9 1542.4,2778.8 C1544.4,2778.7 1546.5,2778.7 1548.5,2778.6 C1550.5,2778.5 1552.5,2778.5 1554.5,2778.4 C1556.5,2778.3 1558.5,2778.3 1560.6,2778.2 C1562.6,2778.1 1564.6,2778.1 1566.6,2778.0 C1568.6,2778.0 1570.6,2777.9 1572.7,2777.9 C1574.7,2777.8 1576.7,2777.8 1578.7,2777.7 C1580.7,2777.7 1582.7,2777.6 1584.7,2777.6 C1586.8,2777.5 1588.8,2777.5 1590.8,2777.4 C1592.8,2777.4 1594.8,2777.3 1596.8,2777.3 C1598.9,2777.2 1600.9,2777.2 1602.9,2777.2 C1604.9,2777.1 1606.9,2777.1 1608.9,2777.0 C1610.9,2777.0 1613.0,2777.0 1615.0,2776.9 C1617.0,2776.9 1619.0,2776.9 1621.0,2776.8 C1623.0,2776.8 1625.1,2776.8 1627.1,2776.7 C1629.1,2776.7 1631.1,2776.7 1633.1,2776.7 C1635.1,2776.6 1637.1,2776.6 1639.2,2776.6 C1641.2,2776.5 1643.2,2776.5 1645.2,2776.5 C1647.2,2776.5 1649.2,2776.5 1651.3,2776.4 C1653.3,2776.4 1655.3,2776.4 1657.3,2776.4 C1659.3,2776.4 1661.3,2776.3 1663.3,2776.3 C1665.4,2776.3 1667.4,2776.3 1669.4,2776.3 C1671.4,2776.3 1673.4,2776.2 1675.4,2776.2 C1677.5,2776.2 1679.5,2776.2 1681.5,2776.2 C1683.5,2776.2 1685.5,2776.2 1687.5,2776.2 C1689.5,2776.2 1691.6,2776.1 1693.6,2776.1 C1695.6,2776.1 1697.6,2776.1 1699.6,2776.1 C1701.6,2776.1 1703.7,2776.1 1705.7,2776.1 C1707.7,2776.1 1709.7,2776.1 1711.7,2776.1 C1713.7,2776.1 1715.7,2776.1 1717.8,2776.1 C1719.8,2776.1 1721.8,2776.1 1723.8,2776.1 C1725.8,2776.1 1727.8,2776.1 1729.8,2776.1 C1731.9,2776.1 1733.9,2776.1 1735.9,2776.1 C1737.9,2776.1 1739.9,2776.1 1741.9,2776.1 C1744.0,2776.1 1746.0,2776.1 1748.0,2776.1 C1750.0,2776.1 1752.0,2776.1 1754.0,2776.1 C1756.0,2776.1 1758.1,2776.1 1760.1,2776.1 C1762.1,2776.1 1764.1,2776.1 1766.1,2776.1 C1768.1,2776.1 1770.2,2776.1 1772.2,2776.1 C1774.2,2776.1 1776.2,2776.1 1778.2,2776.1 C1780.2,2776.1 1782.2,2776.1 1784.3,2776.1 C1786.3,2776.1 1788.3,2776.1 1790.3,2776.2 C1792.3,2776.2 1794.3,2776.2 1796.4,2776.2 C1798.4,2776.2 1800.4,2776.2 1802.4,2776.2 C1804.4,2776.2 1806.4,2776.2 1808.4,2776.2 C1810.5,2776.2 1812.5,2776.2 1814.5,2776.2 C1816.5,2776.2 1818.5,2776.2 1820.5,2776.2 C1822.6,2776.2 1824.6,2776.3 1826.6,2776.3 C1828.6,2776.3 1830.6,2776.3 1832.6,2776.3 C1834.6,2776.3 1836.7,2776.3 1838.7,2776.3 C1840.7,2776.3 1842.7,2776.3 1844.7,2776.3 C1846.7,2776.3 1848.8,2776.3 1850.8,2776.3 C1852.8,2776.3 1854.8,2776.3 1856.8,2776.3 C1858.8,2776.3 1860.8,2776.3 1862.9,2776.3 C1864.9,2776.3 1866.9,2776.3 1868.9,2776.4 C1870.9,2776.4 1872.9,2776.4 1875.0,2776.4 C1877.0,2776.4 1879.0,2776.4 1881.0,2776.4" fill="none" stroke="#FFC000" stroke-width="8.6" stroke-linecap="butt" stroke-linejoin="round"/>
<circle cx="1881.0" cy="2776.4" r="4.3" fill="#FFC000"/>
<path d="M60.1,2943.0 C62.1,2942.9 64.1,2942.9 66.1,2942.8 C68.2,2942.7 70.2,2942.6 72.2,2942.5 C74.2,2942.4 76.2,2942.3 78.2,2942.2 C80.2,2942.1 82.3,2942.0 84.3,2942.0 C86.3,2941.9 88.3,2941.8 90.3,2941.7 C92.3,2941.6 94.3,2941.6 96.4,2941.5 C98.4,2941.4 100.4,2941.3 102.4,2941.2 C104.4,2941.2 106.4,2941.1 108.4,2941.0 C110.5,2941.0 112.5,2940.9 114.5,2940.8 C116.5,2940.7 118.5,2940.7 120.5,2940.6 C122.5,2940.5 124.6,2940.5 126.6,2940.4 C128.6,2940.4 130.6,2940.3 132.6,2940.2 C134.6,2940.2 136.6,2940.1 138.7,2940.1 C140.7,2940.0 142.7,2939.9 144.7,2939.9 C146.7,2939.8 148.7,2939.8 150.7,2939.7 C152.8,2939.7 154.8,2939.6 156.8,2939.6 C158.8,2939.5 160.8,2939.5 162.8,2939.4 C164.8,2939.4 166.9,2939.3 168.9,2939.3 C170.9,2939.2 172.9,2939.2 174.9,2939.1 C176.9,2939.1 178.9,2939.1 181.0,2939.0 C183.0,2939.0 185.0,2938.9 187.0,2938.9 C189.0,2938.9 191.0,2938.8 193.0,2938.8 C195.1,2938.8 197.1,2938.7 199.1,2938.7 C201.1,2938.7 203.1,2938.6 205.1,2938.6 C207.1,2938.6 209.2,2938.5 211.2,2938.5 C213.2,2938.5 215.2,2938.5 217.2,2938.4 C219.2,2938.4 221.2,2938.4 223.3,2938.4 C225.3,2938.3 227.3,2938.3 229.3,2938.3 C231.3,2938.3 233.3,2938.2 235.3,2938.2 C237.4,2938.2 239.4,2938.2 241.4,2938.2 C243.4,2938.2 245.4,2938.1 247.4,2938.1 C249.4,2938.1 251.5,2938.1 253.5,2938.1 C255.5,2938.1 257.5,2938.1 259.5,2938.1 C261.5,2938.0 263.5,2938.0 265.6,2938.0 C267.6,2938.0 269.6,2938.0 271.6,2938.0 C273.6,2938.0 275.6,2938.0 277.6,2938.0 C279.7,2938.0 281.7,2938.0 283.7,2938.0 C285.7,2938.0 287.7,2938.0 289.7,2938.0 C291.7,2938.0 293.8,2938.0 295.8,2938.0 C297.8,2938.0 299.8,2938.0 301.8,2938.0 C303.8,2938.0 305.8,2938.0 307.9,2938.0 C309.9,2938.0 311.9,2938.0 313.9,2938.0 C315.9,2938.0 317.9,2938.0 319.9,2938.0 C322.0,2938.0 324.0,2938.0 326.0,2938.0 C328.0,2938.1 330.0,2938.1 332.0,2938.1 C334.0,2938.1 336.1,2938.1 338.1,2938.1 C340.1,2938.1 342.1,2938.1 344.1,2938.2 C346.1,2938.2 348.1,2938.2 350.2,2938.2 C352.2,2938.2 354.2,2938.2 356.2,2938.2 C358.2,2938.3 360.2,2938.3 362.2,2938.3 C364.3,2938.3 366.3,2938.3 368.3,2938.4 C370.3,2938.4 372.3,2938.4 374.3,2938.4 C376.3,2938.4 378.4,2938.5 380.4,2938.5 C382.4,2938.5 384.4,2938.5 386.4,2938.6 C388.4,2938.6 390.4,2938.6 392.5,2938.6 C394.5,2938.7 396.5,2938.7 398.5,2938.7 C400.5,2938.7 402.5,2938.8 404.5,2938.8 C406.6,2938.8 408.6,2938.9 410.6,2938.9 C412.6,2938.9 414.6,2939.0 416.6,2939.0 C418.6,2939.0 420.7,2939.0 422.7,2939.1 C424.7,2939.1 426.7,2939.1 428.7,2939.2 C430.7,2939.2 432.7,2939.2 434.8,2939.3 C436.8,2939.3 438.8,2939.3 440.8,2939.4 C442.8,2939.4 444.8,2939.5 446.8,2939.5 C448.8,2939.5 450.9,2939.6 452.9,2939.6 C454.9,2939.6 456.9,2939.7 458.9,2939.7 C460.9,2939.7 462.9,2939.8 465.0,2939.8 C467.0,2939.9 469.0,2939.9 471.0,2939.9 C473.0,2940.0 475.0,2940.0 477.0,2940.1 C479.1,2940.1 481.1,2940.1 483.1,2940.2 C485.1,2940.2 487.1,2940.3 489.1,2940.3 C491.1,2940.4 493.2,2940.4 495.2,2940.4 C497.2,2940.5 499.2,2940.5 501.2,2940.6 C503.2,2940.6 505.2,2940.7 507.3,2940.7 C509.3,2940.8 511.3,2940.8 513.3,2940.8 C515.3,2940.9 517.3,2940.9 519.3,2941.0 C521.4,2941.0 523.4,2941.1 525.4,2941.1 C527.4,2941.2 529.4,2941.2 531.4,2941.3 C533.4,2941.3 535.5,2941.4 537.5,2941.4 C539.5,2941.4 541.5,2941.5 543.5,2941.5 C545.5,2941.6 547.5,2941.6 549.6,2941.7 C551.6,2941.7 553.6,2941.8 555.6,2941.8 C557.6,2941.9 559.6,2941.9 561.6,2942.0 C563.7,2942.0 565.7,2942.1 567.7,2942.1 C569.7,2942.2 571.7,2942.2 573.7,2942.3 C575.7,2942.3 577.8,2942.4 579.8,2942.4 C581.8,2942.5 583.8,2942.5 585.8,2942.6 C587.8,2942.6 589.8,2942.7 591.9,2942.7 C593.9,2942.8 595.9,2942.8 597.9,2942.9 C599.9,2942.9 601.9,2943.0 603.9,2943.0 C606.0,2943.1 608.0,2943.1 610.0,2943.2 C612.0,2943.2 614.0,2943.3 616.0,2943.3 C618.0,2943.4 620.1,2943.4 622.1,2943.5 C624.1,2943.5 626.1,2943.6 628.1,2943.6 C630.1,2943.7 632.1,2943.8 634.2,2943.8 C636.2,2943.9 638.2,2943.9 640.2,2944.0 C642.2,2944.0 644.2,2944.1 646.2,2944.1 C648.3,2944.2 650.3,2944.2 652.3,2944.3 C654.3,2944.3 656.3,2944.4 658.3,2944.4 C660.3,2944.5 662.4,2944.5 664.4,2944.6 C666.4,2944.6 668.4,2944.7 670.4,2944.7 C672.4,2944.8 674.4,2944.8 676.5,2944.9 C678.5,2944.9 680.5,2945.0 682.5,2945.0 C684.5,2945.1 686.5,2945.1 688.5,2945.2 C690.6,2945.2 692.6,2945.3 694.6,2945.3 C696.6,2945.4 698.6,2945.4 700.6,2945.5 C702.6,2945.5 704.7,2945.6 706.7,2945.6 C708.7,2945.7 710.7,2945.7 712.7,2945.8 C714.7,2945.8 716.7,2945.8 718.8,2945.9 C720.8,2945.9 722.8,2946.0 724.8,2946.0 C726.8,2946.1 728.8,2946.1 730.8,2946.2 C732.9,2946.2 734.9,2946.3 736.9,2946.3 C738.9,2946.4 740.9,2946.4 742.9,2946.5 C744.9,2946.5 747.0,2946.5 749.0,2946.6 C751.0,2946.6 753.0,2946.7 755.0,2946.7 C757.0,2946.8 759.0,2946.8 761.1,2946.8 C763.1,2946.9 765.1,2946.9 767.1,2947.0 C769.1,2947.0 771.1,2947.1 773.1,2947.1 C775.2,2947.1 777.2,2947.2 779.2,2947.2 C781.2,2947.3 783.2,2947.3 785.2,2947.3 C787.2,2947.4 789.3,2947.4 791.3,2947.5 C793.3,2947.5 795.3,2947.5 797.3,2947.6 C799.3,2947.6 801.3,2947.7 803.4,2947.7 C805.4,2947.7 807.4,2947.7 809.4,2947.8 C812.9,2947.9 816.5,2948.3 820.0,2948.5 C824.6,2948.8 829.1,2948.8 833.7,2949.2 C838.3,2949.6 842.8,2950.8 847.4,2951.9 C851.9,2953.0 856.5,2954.5 861.0,2956.0 C865.6,2957.5 870.1,2959.2 874.7,2960.8 C879.3,2962.4 883.8,2963.8 888.4,2965.6 C893.0,2967.4 897.5,2969.7 902.1,2971.7 C906.7,2973.7 911.2,2975.8 915.8,2977.9 C920.3,2979.9 924.9,2982.7 929.4,2984.0 C934.0,2985.3 938.5,2986.3 943.1,2986.8 C947.7,2987.3 952.2,2987.6 956.8,2987.7 C961.4,2987.8 965.9,2987.9 970.5,2987.9 C975.1,2987.9 979.6,2987.7 984.2,2987.5 C988.7,2987.3 993.3,2986.7 997.8,2986.1 C999.8,2985.8 1001.8,2985.5 1003.8,2985.1 C1005.8,2984.8 1007.8,2984.5 1009.8,2984.2 C1011.8,2983.9 1013.8,2983.6 1015.8,2983.3 C1017.8,2983.0 1019.8,2982.7 1021.8,2982.4 C1023.8,2982.1 1025.8,2981.8 1027.9,2981.5 C1029.9,2981.2 1031.9,2980.9 1033.9,2980.6 C1035.9,2980.3 1037.9,2980.0 1039.9,2979.8 C1041.9,2979.5 1043.9,2979.2 1045.9,2978.9 C1047.9,2978.6 1049.9,2978.4 1051.9,2978.1 C1053.9,2977.8 1055.9,2977.6 1057.9,2977.3 C1059.9,2977.0 1061.9,2976.8 1063.9,2976.5 C1065.9,2976.3 1067.9,2976.0 1069.9,2975.8 C1071.9,2975.5 1073.9,2975.3 1075.9,2975.0 C1077.9,2974.8 1079.9,2974.5 1081.9,2974.3 C1083.9,2974.1 1086.0,2973.8 1088.0,2973.6 C1090.0,2973.4 1092.0,2973.1 1094.0,2972.9 C1096.0,2972.7 1098.0,2972.4 1100.0,2972.2 C1102.0,2972.0 1104.0,2971.8 1106.0,2971.5 C1108.0,2971.3 1110.0,2971.1 1112.0,2970.9 C1114.0,2970.7 1116.0,2970.5 1118.0,2970.3 C1120.0,2970.1 1122.0,2969.9 1124.0,2969.6 C1126.0,2969.4 1128.0,2969.2 1130.0,2969.0 C1132.0,2968.8 1134.0,2968.6 1136.0,2968.5 C1138.0,2968.3 1140.0,2968.1 1142.0,2967.9 C1144.1,2967.7 1146.1,2967.5 1148.1,2967.3 C1150.1,2967.1 1152.1,2966.9 1154.1,2966.8 C1156.1,2966.6 1158.1,2966.4 1160.1,2966.2 C1162.1,2966.1 1164.1,2965.9 1166.1,2965.7 C1168.1,2965.5 1170.1,2965.4 1172.1,2965.2 C1174.1,2965.0 1176.1,2964.9 1178.1,2964.7 C1180.1,2964.5 1182.1,2964.4 1184.1,2964.2 C1186.1,2964.1 1188.1,2963.9 1190.1,2963.7 C1192.1,2963.6 1194.1,2963.4 1196.1,2963.3 C1198.1,2963.1 1200.2,2963.0 1202.2,2962.8 C1204.2,2962.7 1206.2,2962.5 1208.2,2962.4 C1210.2,2962.3 1212.2,2962.1 1214.2,2962.0 C1216.2,2961.8 1218.2,2961.7 1220.2,2961.6 C1222.2,2961.4 1224.2,2961.3 1226.2,2961.1 C1228.2,2961.0 1230.2,2960.9 1232.2,2960.8 C1234.2,2960.6 1236.2,2960.5 1238.2,2960.4 C1240.2,2960.2 1242.2,2960.1 1244.2,2960.0 C1246.2,2959.9 1248.2,2959.7 1250.2,2959.6 C1252.2,2959.5 1254.2,2959.4 1256.2,2959.3 C1258.3,2959.1 1260.3,2959.0 1262.3,2958.9 C1264.3,2958.8 1266.3,2958.7 1268.3,2958.6 C1270.3,2958.5 1272.3,2958.3 1274.3,2958.2 C1276.3,2958.1 1278.3,2958.0 1280.3,2957.9 C1282.3,2957.8 1284.3,2957.7 1286.3,2957.6 C1288.3,2957.5 1290.3,2957.4 1292.3,2957.3 C1294.3,2957.2 1296.3,2957.1 1298.3,2957.0 C1300.3,2956.9 1302.3,2956.8 1304.3,2956.7 C1306.3,2956.6 1308.3,2956.5 1310.3,2956.4 C1312.3,2956.3 1314.3,2956.2 1316.4,2956.1 C1318.4,2956.0 1320.4,2955.9 1322.4,2955.8 C1324.4,2955.7 1326.4,2955.6 1328.4,2955.6 C1330.4,2955.5 1332.4,2955.4 1334.4,2955.3 C1336.4,2955.2 1338.4,2955.1 1340.4,2955.0 C1342.4,2954.9 1344.4,2954.9 1346.4,2954.8 C1348.4,2954.7 1350.4,2954.6 1352.4,2954.5 C1354.4,2954.4 1356.4,2954.4 1358.4,2954.3 C1360.4,2954.2 1362.4,2954.1 1364.4,2954.0 C1366.4,2954.0 1368.4,2953.9 1370.4,2953.8 C1372.4,2953.7 1374.5,2953.7 1376.5,2953.6 C1378.5,2953.5 1380.5,2953.4 1382.5,2953.4 C1384.5,2953.3 1386.5,2953.2 1388.5,2953.2 C1390.5,2953.1 1392.5,2953.0 1394.5,2952.9 C1396.5,2952.9 1398.5,2952.8 1400.5,2952.7 C1402.5,2952.7 1404.5,2952.6 1406.5,2952.5 C1408.5,2952.5 1410.5,2952.4 1412.5,2952.3 C1414.5,2952.3 1416.5,2952.2 1418.5,2952.2 C1420.5,2952.1 1422.5,2952.0 1424.5,2952.0 C1426.5,2951.9 1428.5,2951.8 1430.5,2951.8 C1432.6,2951.7 1434.6,2951.7 1436.6,2951.6 C1438.6,2951.6 1440.6,2951.5 1442.6,2951.4 C1444.6,2951.4 1446.6,2951.3 1448.6,2951.3 C1450.6,2951.2 1452.6,2951.2 1454.6,2951.1 C1456.6,2951.1 1458.6,2951.0 1460.6,2951.0 C1462.6,2950.9 1464.6,2950.9 1466.6,2950.8 C1468.6,2950.8 1470.6,2950.7 1472.6,2950.7 C1474.6,2950.6 1476.6,2950.6 1478.6,2950.5 C1480.6,2950.5 1482.6,2950.4 1484.6,2950.4 C1486.6,2950.3 1488.7,2950.3 1490.7,2950.2 C1492.7,2950.2 1494.7,2950.1 1496.7,2950.1 C1498.7,2950.1 1500.7,2950.0 1502.7,2950.0 C1504.7,2949.9 1506.7,2949.9 1508.7,2949.9 C1510.7,2949.8 1512.7,2949.8 1514.7,2949.7 C1516.7,2949.7 1518.7,2949.7 1520.7,2949.6 C1522.7,2949.6 1524.7,2949.5 1526.7,2949.5 C1528.7,2949.5 1530.7,2949.4 1532.7,2949.4 C1534.7,2949.4 1536.7,2949.3 1538.7,2949.3 C1540.7,2949.3 1542.7,2949.2 1544.7,2949.2 C1546.8,2949.2 1548.8,2949.1 1550.8,2949.1 C1552.8,2949.1 1554.8,2949.0 1556.8,2949.0 C1558.8,2949.0 1560.8,2948.9 1562.8,2948.9 C1564.8,2948.9 1566.8,2948.9 1568.8,2948.8 C1570.8,2948.8 1572.8,2948.8 1574.8,2948.7 C1576.8,2948.7 1578.8,2948.7 1580.8,2948.7 C1582.8,2948.6 1584.8,2948.6 1586.8,2948.6 C1588.8,2948.6 1590.8,2948.5 1592.8,2948.5 C1594.8,2948.5 1596.8,2948.5 1598.8,2948.4 C1600.8,2948.4 1602.8,2948.4 1604.9,2948.4 C1606.9,2948.4 1608.9,2948.3 1610.9,2948.3 C1612.9,2948.3 1614.9,2948.3 1616.9,2948.2 C1618.9,2948.2 1620.9,2948.2 1622.9,2948.2 C1624.9,2948.2 1626.9,2948.1 1628.9,2948.1 C1630.9,2948.1 1632.9,2948.1 1634.9,2948.1 C1636.9,2948.1 1638.9,2948.0 1640.9,2948.0 C1642.9,2948.0 1644.9,2948.0 1646.9,2948.0 C1648.9,2948.0 1650.9,2947.9 1652.9,2947.9 C1654.9,2947.9 1656.9,2947.9 1658.9,2947.9 C1660.9,2947.9 1663.0,2947.9 1665.0,2947.8 C1667.0,2947.8 1669.0,2947.8 1671.0,2947.8 C1673.0,2947.8 1675.0,2947.8 1677.0,2947.8 C1679.0,2947.8 1681.0,2947.7 1683.0,2947.7 C1685.0,2947.7 1687.0,2947.7 1689.0,2947.7 C1691.0,2947.7 1693.0,2947.7 1695.0,2947.7 C1697.0,2947.7 1699.0,2947.6 1701.0,2947.6 C1703.0,2947.6 1705.0,2947.6 1707.0,2947.6 C1709.0,2947.6 1711.0,2947.6 1713.0,2947.6 C1715.0,2947.6 1717.0,2947.6 1719.0,2947.6 C1721.1,2947.6 1723.1,2947.5 1725.1,2947.5 C1727.1,2947.5 1729.1,2947.5 1731.1,2947.5 C1733.1,2947.5 1735.1,2947.5 1737.1,2947.5 C1739.1,2947.5 1741.1,2947.5 1743.1,2947.5 C1745.1,2947.5 1747.1,2947.5 1749.1,2947.5 C1751.1,2947.5 1753.1,2947.5 1755.1,2947.4 C1757.1,2947.4 1759.1,2947.4 1761.1,2947.4 C1763.1,2947.4 1765.1,2947.4 1767.1,2947.4 C1769.1,2947.4 1771.1,2947.4 1773.1,2947.4 C1775.1,2947.4 1777.2,2947.4 1779.2,2947.4 C1781.2,2947.4 1783.2,2947.4 1785.2,2947.4 C1787.2,2947.4 1789.2,2947.4 1791.2,2947.4 C1793.2,2947.4 1795.2,2947.4 1797.2,2947.4 C1799.2,2947.4 1801.2,2947.4 1803.2,2947.4 C1805.2,2947.4 1807.2,2947.4 1809.2,2947.4 C1811.2,2947.4 1813.2,2947.4 1815.2,2947.4 C1817.2,2947.4 1819.2,2947.4 1821.2,2947.4 C1823.2,2947.4 1825.2,2947.4 1827.2,2947.4 C1829.2,2947.4 1831.2,2947.4 1833.2,2947.4 C1835.3,2947.3 1837.3,2947.3 1839.3,2947.3 C1841.3,2947.3 1843.3,2947.3 1845.3,2947.3 C1847.3,2947.3 1849.3,2947.3 1851.3,2947.3 C1853.3,2947.3 1855.3,2947.3 1857.3,2947.3 C1859.3,2947.3 1861.3,2947.3 1863.3,2947.3" fill="none" stroke="#CD8E00" stroke-width="8.6" stroke-linecap="butt" stroke-linejoin="round"/>
<circle cx="1863.3" cy="2947.3" r="4.3" fill="#CD8E00"/>
<path d="M62.0,3110.5 C64.0,3110.3 66.0,3110.1 68.0,3109.9 C70.0,3109.7 72.0,3109.6 74.0,3109.4 C76.1,3109.2 78.1,3109.0 80.1,3108.9 C82.1,3108.7 84.1,3108.6 86.1,3108.4 C88.1,3108.2 90.1,3108.1 92.1,3108.0 C94.1,3107.8 96.1,3107.7 98.1,3107.5 C100.1,3107.4 102.1,3107.3 104.2,3107.2 C106.2,3107.0 108.2,3106.9 110.2,3106.8 C112.2,3106.7 114.2,3106.6 116.2,3106.5 C118.2,3106.4 120.2,3106.2 122.2,3106.2 C124.2,3106.1 126.2,3106.0 128.2,3105.9 C130.2,3105.8 132.3,3105.7 134.3,3105.6 C136.3,3105.5 138.3,3105.4 140.3,3105.4 C142.3,3105.3 144.3,3105.2 146.3,3105.2 C148.3,3105.1 150.3,3105.0 152.3,3105.0 C154.3,3104.9 156.3,3104.8 158.3,3104.8 C160.4,3104.7 162.4,3104.7 164.4,3104.6 C166.4,3104.6 168.4,3104.5 170.4,3104.5 C172.4,3104.4 174.4,3104.4 176.4,3104.4 C178.4,3104.3 180.4,3104.3 182.4,3104.3 C184.4,3104.2 186.4,3104.2 188.5,3104.2 C190.5,3104.1 192.5,3104.1 194.5,3104.1 C196.5,3104.0 198.5,3104.0 200.5,3104.0 C202.5,3104.0 204.5,3104.0 206.5,3103.9 C208.5,3103.9 210.5,3103.9 212.5,3103.9 C214.5,3103.9 216.6,3103.9 218.6,3103.9 C220.6,3103.8 222.6,3103.8 224.6,3103.8 C226.6,3103.8 228.6,3103.8 230.6,3103.8 C232.6,3103.8 234.6,3103.8 236.6,3103.8 C238.6,3103.8 240.6,3103.8 242.7,3103.8 C244.7,3103.7 246.7,3103.7 248.7,3103.7 C250.7,3103.7 252.7,3103.7 254.7,3103.7 C256.7,3103.7 258.7,3103.7 260.7,3103.7 C262.7,3103.7 264.7,3103.7 266.7,3103.7 C268.7,3103.7 270.8,3103.7 272.8,3103.7 C274.8,3103.7 276.8,3103.7 278.8,3103.7 C280.8,3103.7 282.8,3103.7 284.8,3103.7 C286.8,3103.7 288.8,3103.6 290.8,3103.6 C292.8,3103.6 294.8,3103.6 296.8,3103.6 C298.9,3103.6 300.9,3103.6 302.9,3103.6 C304.9,3103.6 306.9,3103.6 308.9,3103.5 C310.9,3103.5 312.9,3103.5 314.9,3103.5 C316.9,3103.5 318.9,3103.5 320.9,3103.4 C322.9,3103.4 324.9,3103.4 327.0,3103.4 C329.0,3103.3 331.0,3103.3 333.0,3103.3 C335.0,3103.3 337.0,3103.2 339.0,3103.2 C341.0,3103.2 343.0,3103.1 345.0,3103.1 C347.0,3103.1 349.0,3103.0 351.0,3103.0 C353.0,3103.0 355.1,3102.9 357.1,3102.9 C359.1,3102.8 361.1,3102.8 363.1,3102.7 C365.1,3102.7 367.1,3102.7 369.1,3102.6 C371.1,3102.6 373.1,3102.5 375.1,3102.5 C377.1,3102.4 379.1,3102.4 381.1,3102.3 C383.2,3102.3 385.2,3102.2 387.2,3102.2 C389.2,3102.1 391.2,3102.1 393.2,3102.0 C395.2,3101.9 397.2,3101.9 399.2,3101.8 C401.2,3101.8 403.2,3101.7 405.2,3101.7 C407.2,3101.6 409.2,3101.5 411.3,3101.5 C413.3,3101.4 415.3,3101.4 417.3,3101.3 C419.3,3101.2 421.3,3101.2 423.3,3101.1 C425.3,3101.1 427.3,3101.0 429.3,3100.9 C431.3,3100.9 433.3,3100.8 435.3,3100.8 C437.4,3100.7 439.4,3100.6 441.4,3100.6 C443.4,3100.5 445.4,3100.4 447.4,3100.4 C449.4,3100.3 451.4,3100.3 453.4,3100.2 C455.4,3100.1 457.4,3100.1 459.4,3100.0 C461.4,3100.0 463.4,3099.9 465.5,3099.8 C467.5,3099.8 469.5,3099.7 471.5,3099.7 C473.5,3099.6 475.5,3099.5 477.5,3099.5 C479.5,3099.4 481.5,3099.4 483.5,3099.3 C485.5,3099.2 487.5,3099.2 489.5,3099.1 C491.5,3099.1 493.6,3099.0 495.6,3099.0 C497.6,3098.9 499.6,3098.9 501.6,3098.8 C503.6,3098.8 505.6,3098.7 507.6,3098.7 C509.6,3098.6 511.6,3098.6 513.6,3098.5 C515.6,3098.5 517.6,3098.4 519.6,3098.4 C521.7,3098.3 523.7,3098.3 525.7,3098.2 C527.7,3098.2 529.7,3098.1 531.7,3098.1 C533.7,3098.1 535.7,3098.0 537.7,3098.0 C539.7,3098.0 541.7,3097.9 543.7,3097.9 C545.7,3097.9 547.7,3097.8 549.8,3097.8 C551.8,3097.8 553.8,3097.7 555.8,3097.7 C557.8,3097.7 559.8,3097.7 561.8,3097.7 C563.8,3097.6 565.8,3097.6 567.8,3097.6 C569.8,3097.6 571.8,3097.6 573.8,3097.6 C575.8,3097.6 577.9,3097.6 579.9,3097.6 C581.9,3097.6 583.9,3097.6 585.9,3097.6 C587.9,3097.6 589.9,3097.6 591.9,3097.6 C593.9,3097.6 595.9,3097.6 597.9,3097.7 C599.9,3097.7 601.9,3097.7 603.9,3097.7 C606.0,3097.7 608.0,3097.8 610.0,3097.8 C612.0,3097.8 614.0,3097.9 616.0,3097.9 C618.0,3097.9 620.0,3098.0 622.0,3098.0 C624.0,3098.0 626.0,3098.1 628.0,3098.1 C630.0,3098.2 632.1,3098.2 634.1,3098.2 C636.1,3098.3 638.1,3098.3 640.1,3098.4 C642.1,3098.4 644.1,3098.5 646.1,3098.6 C648.1,3098.6 650.1,3098.7 652.1,3098.7 C654.1,3098.8 656.1,3098.9 658.1,3098.9 C660.2,3099.0 662.2,3099.1 664.2,3099.1 C666.2,3099.2 668.2,3099.3 670.2,3099.4 C672.2,3099.4 674.2,3099.5 676.2,3099.6 C678.2,3099.7 680.2,3099.8 682.2,3099.8 C684.2,3099.9 686.2,3100.0 688.3,3100.1 C690.3,3100.2 692.3,3100.3 694.3,3100.4 C696.3,3100.5 698.3,3100.6 700.3,3100.6 C702.3,3100.7 704.3,3100.8 706.3,3100.9 C708.3,3101.0 710.3,3101.1 712.3,3101.3 C714.3,3101.4 716.4,3101.5 718.4,3101.6 C720.4,3101.7 722.4,3101.8 724.4,3101.9 C726.4,3102.0 728.4,3102.1 730.4,3102.2 C732.4,3102.3 734.4,3102.5 736.4,3102.6 C738.4,3102.7 740.4,3102.8 742.4,3102.9 C744.5,3103.0 746.5,3103.2 748.5,3103.3 C750.5,3103.4 752.5,3103.5 754.5,3103.7 C756.5,3103.8 758.5,3103.9 760.5,3104.0 C762.5,3104.2 764.5,3104.3 766.5,3104.4 C768.5,3104.5 770.5,3104.7 772.6,3104.8 C774.6,3104.9 776.6,3105.1 778.6,3105.2 C780.6,3105.3 782.6,3105.4 784.6,3105.6 C791.7,3106.2 798.9,3107.5 806.0,3108.9 C812.6,3110.2 819.1,3113.1 825.7,3113.8 C834.4,3114.7 843.2,3115.4 851.9,3115.4 C852.6,3115.4 853.4,3115.1 854.1,3114.9 C854.8,3114.8 855.6,3114.6 856.3,3114.5 C857.0,3114.3 857.8,3114.0 858.5,3114.0 C859.6,3114.0 860.7,3114.6 861.8,3114.6 C862.5,3114.6 863.2,3114.6 863.8,3114.6 C864.5,3114.6 865.2,3114.6 865.9,3114.6 C866.6,3114.6 867.3,3114.5 867.9,3114.5 C868.6,3114.5 869.3,3114.5 870.0,3114.5 C870.7,3114.5 871.4,3114.5 872.0,3114.5 C872.7,3114.5 873.4,3114.5 874.1,3114.5 C874.8,3114.5 875.5,3114.5 876.1,3114.5 C876.8,3114.5 877.5,3114.5 878.2,3114.4 C878.9,3114.4 879.6,3114.4 880.2,3114.4 C880.9,3114.4 881.6,3114.4 882.3,3114.4 C883.0,3114.4 883.7,3114.4 884.4,3114.4 C885.0,3114.4 885.7,3114.4 886.4,3114.4 C887.1,3114.4 887.8,3114.4 888.5,3114.4 C889.1,3114.4 889.8,3114.3 890.5,3114.3 C891.2,3114.3 891.9,3114.3 892.6,3114.3 C893.2,3114.3 893.9,3114.3 894.6,3114.3 C895.3,3114.3 896.1,3114.8 896.8,3115.0 C897.5,3115.3 898.2,3115.5 899.0,3115.8 C899.7,3116.0 900.4,3116.3 901.2,3116.5 C901.9,3116.7 902.6,3117.0 903.3,3117.2 C904.1,3117.5 904.8,3117.7 905.5,3118.0 C906.2,3118.2 907.0,3118.7 907.7,3118.7 C918.7,3118.9 929.6,3118.8 940.6,3118.9 C951.6,3119.0 962.6,3120.3 973.6,3121.0 C1001.0,3122.7 1028.3,3126.2 1055.7,3126.2 C1073.9,3126.2 1092.2,3124.3 1110.4,3123.4 C1112.4,3123.3 1114.4,3123.2 1116.4,3123.1 C1118.5,3123.0 1120.5,3122.9 1122.5,3122.9 C1124.5,3122.8 1126.5,3122.7 1128.5,3122.6 C1130.5,3122.5 1132.5,3122.4 1134.6,3122.3 C1136.6,3122.2 1138.6,3122.2 1140.6,3122.1 C1142.6,3122.0 1144.6,3121.9 1146.6,3121.8 C1148.7,3121.8 1150.7,3121.7 1152.7,3121.6 C1154.7,3121.5 1156.7,3121.4 1158.7,3121.4 C1160.7,3121.3 1162.8,3121.2 1164.8,3121.1 C1166.8,3121.1 1168.8,3121.0 1170.8,3120.9 C1172.8,3120.8 1174.8,3120.8 1176.8,3120.7 C1178.9,3120.6 1180.9,3120.6 1182.9,3120.5 C1184.9,3120.4 1186.9,3120.4 1188.9,3120.3 C1190.9,3120.2 1193.0,3120.2 1195.0,3120.1 C1197.0,3120.0 1199.0,3120.0 1201.0,3119.9 C1203.0,3119.8 1205.0,3119.8 1207.1,3119.7 C1209.1,3119.6 1211.1,3119.6 1213.1,3119.5 C1215.1,3119.5 1217.1,3119.4 1219.1,3119.3 C1221.1,3119.3 1223.2,3119.2 1225.2,3119.2 C1227.2,3119.1 1229.2,3119.1 1231.2,3119.0 C1233.2,3119.0 1235.2,3118.9 1237.3,3118.8 C1239.3,3118.8 1241.3,3118.7 1243.3,3118.7 C1245.3,3118.6 1247.3,3118.6 1249.3,3118.5 C1251.3,3118.5 1253.4,3118.4 1255.4,3118.4 C1257.4,3118.3 1259.4,3118.3 1261.4,3118.2 C1263.4,3118.2 1265.4,3118.2 1267.5,3118.1 C1269.5,3118.1 1271.5,3118.0 1273.5,3118.0 C1275.5,3117.9 1277.5,3117.9 1279.5,3117.8 C1281.6,3117.8 1283.6,3117.8 1285.6,3117.7 C1287.6,3117.7 1289.6,3117.6 1291.6,3117.6 C1293.6,3117.6 1295.6,3117.5 1297.7,3117.5 C1299.7,3117.4 1301.7,3117.4 1303.7,3117.4 C1305.7,3117.3 1307.7,3117.3 1309.7,3117.3 C1311.8,3117.2 1313.8,3117.2 1315.8,3117.2 C1317.8,3117.1 1319.8,3117.1 1321.8,3117.1 C1323.8,3117.0 1325.8,3117.0 1327.9,3117.0 C1329.9,3116.9 1331.9,3116.9 1333.9,3116.9 C1335.9,3116.8 1337.9,3116.8 1339.9,3116.8 C1342.0,3116.8 1344.0,3116.7 1346.0,3116.7 C1348.0,3116.7 1350.0,3116.7 1352.0,3116.6 C1354.0,3116.6 1356.1,3116.6 1358.1,3116.5 C1360.1,3116.5 1362.1,3116.5 1364.1,3116.5 C1366.1,3116.5 1368.1,3116.4 1370.1,3116.4 C1372.2,3116.4 1374.2,3116.4 1376.2,3116.3 C1378.2,3116.3 1380.2,3116.3 1382.2,3116.3 C1384.2,3116.3 1386.3,3116.2 1388.3,3116.2 C1390.3,3116.2 1392.3,3116.2 1394.3,3116.2 C1396.3,3116.1 1398.3,3116.1 1400.3,3116.1 C1402.4,3116.1 1404.4,3116.1 1406.4,3116.1 C1408.4,3116.0 1410.4,3116.0 1412.4,3116.0 C1414.4,3116.0 1416.5,3116.0 1418.5,3116.0 C1420.5,3115.9 1422.5,3115.9 1424.5,3115.9 C1426.5,3115.9 1428.5,3115.9 1430.6,3115.9 C1432.6,3115.9 1434.6,3115.9 1436.6,3115.8 C1438.6,3115.8 1440.6,3115.8 1442.6,3115.8 C1444.6,3115.8 1446.7,3115.8 1448.7,3115.8 C1450.7,3115.8 1452.7,3115.8 1454.7,3115.7 C1456.7,3115.7 1458.7,3115.7 1460.8,3115.7 C1462.8,3115.7 1464.8,3115.7 1466.8,3115.7 C1468.8,3115.7 1470.8,3115.7 1472.8,3115.7 C1474.9,3115.7 1476.9,3115.7 1478.9,3115.7 C1480.9,3115.6 1482.9,3115.6 1484.9,3115.6 C1486.9,3115.6 1488.9,3115.6 1491.0,3115.6 C1493.0,3115.6 1495.0,3115.6 1497.0,3115.6 C1499.0,3115.6 1501.0,3115.6 1503.0,3115.6 C1505.1,3115.6 1507.1,3115.6 1509.1,3115.6 C1511.1,3115.6 1513.1,3115.6 1515.1,3115.6 C1517.1,3115.6 1519.1,3115.6 1521.2,3115.6 C1523.2,3115.6 1525.2,3115.6 1527.2,3115.6 C1529.2,3115.6 1531.2,3115.6 1533.2,3115.6 C1535.3,3115.6 1537.3,3115.6 1539.3,3115.6 C1541.3,3115.6 1543.3,3115.5 1545.3,3115.5 C1547.3,3115.5 1549.4,3115.5 1551.4,3115.5 C1553.4,3115.5 1555.4,3115.5 1557.4,3115.6 C1559.4,3115.6 1561.4,3115.6 1563.4,3115.6 C1565.5,3115.6 1567.5,3115.6 1569.5,3115.6 C1571.5,3115.6 1573.5,3115.6 1575.5,3115.6 C1577.5,3115.6 1579.6,3115.6 1581.6,3115.6 C1583.6,3115.6 1585.6,3115.6 1587.6,3115.6 C1589.6,3115.6 1591.6,3115.6 1593.7,3115.6 C1595.7,3115.6 1597.7,3115.6 1599.7,3115.6 C1601.7,3115.6 1603.7,3115.6 1605.7,3115.6 C1607.7,3115.6 1609.8,3115.6 1611.8,3115.6 C1613.8,3115.6 1615.8,3115.6 1617.8,3115.6 C1619.8,3115.6 1621.8,3115.6 1623.9,3115.6 C1625.9,3115.6 1627.9,3115.6 1629.9,3115.6 C1631.9,3115.6 1633.9,3115.6 1635.9,3115.6 C1637.9,3115.6 1640.0,3115.6 1642.0,3115.6 C1644.0,3115.7 1646.0,3115.7 1648.0,3115.7 C1650.0,3115.7 1652.0,3115.7 1654.1,3115.7 C1656.1,3115.7 1658.1,3115.7 1660.1,3115.7 C1662.1,3115.7 1664.1,3115.7 1666.1,3115.7 C1668.2,3115.7 1670.2,3115.7 1672.2,3115.7 C1674.2,3115.7 1676.2,3115.7 1678.2,3115.7 C1680.2,3115.7 1682.2,3115.7 1684.3,3115.7 C1686.3,3115.7 1688.3,3115.7 1690.3,3115.7 C1692.3,3115.7 1694.3,3115.7 1696.3,3115.7 C1698.4,3115.7 1700.4,3115.7 1702.4,3115.7 C1704.4,3115.7 1706.4,3115.8 1708.4,3115.8 C1710.4,3115.8 1712.4,3115.8 1714.5,3115.8 C1716.5,3115.8 1718.5,3115.8 1720.5,3115.8 C1722.5,3115.8 1724.5,3115.8 1726.5,3115.8 C1728.6,3115.8 1730.6,3115.8 1732.6,3115.8 C1734.6,3115.8 1736.6,3115.8 1738.6,3115.8 C1740.6,3115.8 1742.7,3115.8 1744.7,3115.8 C1746.7,3115.8 1748.7,3115.8 1750.7,3115.8 C1752.7,3115.8 1754.7,3115.8 1756.7,3115.8 C1758.8,3115.8 1760.8,3115.8 1762.8,3115.8 C1764.8,3115.8 1766.8,3115.8 1768.8,3115.8 C1770.8,3115.8 1772.9,3115.8 1774.9,3115.8 C1776.9,3115.8 1778.9,3115.8 1780.9,3115.8 C1782.9,3115.8 1784.9,3115.8 1786.9,3115.8 C1789.0,3115.8 1791.0,3115.8 1793.0,3115.8 C1795.0,3115.8 1797.0,3115.8 1799.0,3115.7 C1801.0,3115.7 1803.1,3115.7 1805.1,3115.7 C1807.1,3115.7 1809.1,3115.7 1811.1,3115.7 C1813.1,3115.7 1815.1,3115.7 1817.2,3115.7 C1819.2,3115.7 1821.2,3115.7 1823.2,3115.7 C1825.2,3115.7 1827.2,3115.7 1829.2,3115.7 C1831.2,3115.7 1833.3,3115.7 1835.3,3115.6 C1837.3,3115.6 1839.3,3115.6 1841.3,3115.6 C1843.3,3115.6 1845.3,3115.6 1847.4,3115.6 C1849.4,3115.6 1851.4,3115.6 1853.4,3115.6 C1855.4,3115.6 1857.4,3115.6 1859.4,3115.5 C1861.5,3115.5 1863.5,3115.5 1865.5,3115.5 C1867.5,3115.5 1869.5,3115.5 1871.5,3115.5 C1873.5,3115.5 1875.5,3115.4 1877.6,3115.4 C1879.6,3115.4 1881.6,3115.4 1883.6,3115.4" fill="none" stroke="#00B050" stroke-width="8.6" stroke-linecap="butt" stroke-linejoin="round"/>
<circle cx="1883.6" cy="3115.4" r="4.3" fill="#00B050"/>
<path d="M60.1,3231.5 C62.1,3231.7 64.1,3231.8 66.1,3232.0 C68.1,3232.1 70.1,3232.3 72.1,3232.5 C74.1,3232.6 76.1,3232.8 78.2,3232.9 C80.2,3233.1 82.2,3233.2 84.2,3233.4 C86.2,3233.5 88.2,3233.7 90.2,3233.9 C92.2,3234.0 94.2,3234.2 96.2,3234.3 C98.2,3234.5 100.2,3234.6 102.2,3234.8 C104.2,3234.9 106.2,3235.0 108.2,3235.2 C110.2,3235.3 112.2,3235.5 114.3,3235.6 C116.3,3235.8 118.3,3235.9 120.3,3236.1 C122.3,3236.2 124.3,3236.3 126.3,3236.5 C128.3,3236.6 130.3,3236.7 132.3,3236.9 C134.3,3237.0 136.3,3237.2 138.3,3237.3 C140.3,3237.4 142.3,3237.6 144.3,3237.7 C146.3,3237.8 148.3,3238.0 150.4,3238.1 C152.4,3238.2 154.4,3238.4 156.4,3238.5 C158.4,3238.6 160.4,3238.7 162.4,3238.9 C164.4,3239.0 166.4,3239.1 168.4,3239.3 C170.4,3239.4 172.4,3239.5 174.4,3239.6 C176.4,3239.8 178.4,3239.9 180.4,3240.0 C182.4,3240.1 184.4,3240.2 186.5,3240.4 C188.5,3240.5 190.5,3240.6 192.5,3240.7 C194.5,3240.8 196.5,3241.0 198.5,3241.1 C200.5,3241.2 202.5,3241.3 204.5,3241.4 C206.5,3241.5 208.5,3241.7 210.5,3241.8 C212.5,3241.9 214.5,3242.0 216.5,3242.1 C218.5,3242.2 220.5,3242.3 222.6,3242.5 C224.6,3242.6 226.6,3242.7 228.6,3242.8 C230.6,3242.9 232.6,3243.0 234.6,3243.1 C236.6,3243.2 238.6,3243.3 240.6,3243.4 C242.6,3243.5 244.6,3243.6 246.6,3243.8 C248.6,3243.9 250.6,3244.0 252.6,3244.1 C254.6,3244.2 256.6,3244.3 258.7,3244.4 C260.7,3244.5 262.7,3244.6 264.7,3244.7 C266.7,3244.8 268.7,3244.9 270.7,3245.0 C272.7,3245.1 274.7,3245.2 276.7,3245.3 C278.7,3245.4 280.7,3245.5 282.7,3245.6 C284.7,3245.7 286.7,3245.8 288.7,3245.9 C290.7,3246.0 292.8,3246.1 294.8,3246.2 C296.8,3246.2 298.8,3246.3 300.8,3246.4 C302.8,3246.5 304.8,3246.6 306.8,3246.7 C308.8,3246.8 310.8,3246.9 312.8,3247.0 C314.8,3247.1 316.8,3247.2 318.8,3247.3 C320.8,3247.4 322.8,3247.4 324.8,3247.5 C326.8,3247.6 328.9,3247.7 330.9,3247.8 C332.9,3247.9 334.9,3248.0 336.9,3248.1 C338.9,3248.2 340.9,3248.2 342.9,3248.3 C344.9,3248.4 346.9,3248.5 348.9,3248.6 C350.9,3248.7 352.9,3248.8 354.9,3248.8 C356.9,3248.9 358.9,3249.0 360.9,3249.1 C362.9,3249.2 365.0,3249.3 367.0,3249.3 C369.0,3249.4 371.0,3249.5 373.0,3249.6 C375.0,3249.7 377.0,3249.7 379.0,3249.8 C381.0,3249.9 383.0,3250.0 385.0,3250.1 C387.0,3250.2 389.0,3250.2 391.0,3250.3 C393.0,3250.4 395.0,3250.5 397.0,3250.5 C399.0,3250.6 401.1,3250.7 403.1,3250.8 C405.1,3250.9 407.1,3250.9 409.1,3251.0 C411.1,3251.1 413.1,3251.2 415.1,3251.2 C417.1,3251.3 419.1,3251.4 421.1,3251.5 C423.1,3251.6 425.1,3251.6 427.1,3251.7 C429.1,3251.8 431.1,3251.9 433.1,3251.9 C435.1,3252.0 437.2,3252.1 439.2,3252.2 C441.2,3252.2 443.2,3252.3 445.2,3252.4 C447.2,3252.5 449.2,3252.5 451.2,3252.6 C453.2,3252.7 455.2,3252.7 457.2,3252.8 C459.2,3252.9 461.2,3253.0 463.2,3253.0 C465.2,3253.1 467.2,3253.2 469.2,3253.3 C471.2,3253.3 473.3,3253.4 475.3,3253.5 C477.3,3253.5 479.3,3253.6 481.3,3253.7 C483.3,3253.8 485.3,3253.8 487.3,3253.9 C489.3,3254.0 491.3,3254.0 493.3,3254.1 C495.3,3254.2 497.3,3254.3 499.3,3254.3 C501.3,3254.4 503.3,3254.5 505.3,3254.5 C507.3,3254.6 509.4,3254.7 511.4,3254.8 C513.4,3254.8 515.4,3254.9 517.4,3255.0 C519.4,3255.0 521.4,3255.1 523.4,3255.2 C525.4,3255.2 527.4,3255.3 529.4,3255.4 C531.4,3255.5 533.4,3255.5 535.4,3255.6 C537.4,3255.7 539.4,3255.7 541.4,3255.8 C543.5,3255.9 545.5,3255.9 547.5,3256.0 C549.5,3256.1 551.5,3256.2 553.5,3256.2 C555.5,3256.3 557.5,3256.4 559.5,3256.4 C561.5,3256.5 563.5,3256.6 565.5,3256.6 C567.5,3256.7 569.5,3256.8 571.5,3256.9 C573.5,3256.9 575.5,3257.0 577.5,3257.1 C579.6,3257.1 581.6,3257.2 583.6,3257.3 C585.6,3257.3 587.6,3257.4 589.6,3257.5 C591.6,3257.6 593.6,3257.6 595.6,3257.7 C597.6,3257.8 599.6,3257.8 601.6,3257.9 C603.6,3258.0 605.6,3258.1 607.6,3258.1 C609.6,3258.2 611.6,3258.3 613.6,3258.3 C615.7,3258.4 617.7,3258.5 619.7,3258.6 C621.7,3258.6 623.7,3258.7 625.7,3258.8 C627.7,3258.8 629.7,3258.9 631.7,3259.0 C633.7,3259.1 635.7,3259.1 637.7,3259.2 C639.7,3259.3 641.7,3259.4 643.7,3259.4 C645.7,3259.5 647.7,3259.6 649.7,3259.7 C651.8,3259.7 653.8,3259.8 655.8,3259.9 C657.8,3260.0 659.8,3260.0 661.8,3260.1 C663.8,3260.2 665.8,3260.3 667.8,3260.3 C669.8,3260.4 671.8,3260.5 673.8,3260.6 C675.8,3260.6 677.8,3260.7 679.8,3260.8 C681.8,3260.9 683.8,3260.9 685.8,3261.0 C687.9,3261.1 689.9,3261.2 691.9,3261.3 C693.9,3261.3 695.9,3261.4 697.9,3261.5 C699.9,3261.6 701.9,3261.6 703.9,3261.7 C705.9,3261.8 707.9,3261.9 709.9,3262.0 C711.9,3262.0 713.9,3262.1 715.9,3262.2 C717.9,3262.3 719.9,3262.4 721.9,3262.5 C724.0,3262.5 726.0,3262.6 728.0,3262.7 C730.0,3262.8 732.0,3262.9 734.0,3262.9 C736.0,3263.0 738.0,3263.1 740.0,3263.2 C746.7,3263.5 753.3,3263.7 760.0,3264.0 C766.8,3264.3 773.7,3264.4 780.5,3264.8 C787.3,3265.2 794.2,3266.1 801.0,3267.4 C806.5,3268.4 812.0,3270.5 817.5,3272.6 C822.3,3274.5 827.0,3277.3 831.8,3279.8 C836.6,3282.4 841.4,3285.7 846.2,3288.0 C851.7,3290.6 857.1,3293.2 862.6,3294.7 C869.4,3296.6 876.3,3298.3 883.1,3298.8 C889.9,3299.3 896.8,3299.7 903.6,3299.7 C910.5,3299.7 917.3,3299.2 924.2,3298.8 C931.0,3298.4 937.9,3297.8 944.7,3297.2 C951.5,3296.6 958.4,3295.8 965.2,3295.1 C972.0,3294.4 978.9,3293.7 985.7,3293.1 C992.6,3292.5 999.4,3292.0 1006.3,3291.5 C1013.1,3291.0 1020.0,3290.5 1026.8,3290.0 C1037.9,3289.3 1048.9,3288.5 1060.0,3288.0 C1062.0,3287.9 1064.0,3287.9 1066.0,3287.8 C1068.0,3287.7 1070.0,3287.7 1072.0,3287.6 C1074.0,3287.5 1076.1,3287.4 1078.1,3287.4 C1080.1,3287.3 1082.1,3287.2 1084.1,3287.2 C1086.1,3287.1 1088.1,3287.0 1090.1,3287.0 C1092.1,3286.9 1094.1,3286.8 1096.1,3286.8 C1098.1,3286.7 1100.1,3286.6 1102.1,3286.6 C1104.1,3286.5 1106.1,3286.5 1108.2,3286.4 C1110.2,3286.3 1112.2,3286.3 1114.2,3286.2 C1116.2,3286.1 1118.2,3286.1 1120.2,3286.0 C1122.2,3286.0 1124.2,3285.9 1126.2,3285.8 C1128.2,3285.8 1130.2,3285.7 1132.2,3285.6 C1134.2,3285.6 1136.2,3285.5 1138.2,3285.5 C1140.3,3285.4 1142.3,3285.3 1144.3,3285.3 C1146.3,3285.2 1148.3,3285.2 1150.3,3285.1 C1152.3,3285.0 1154.3,3285.0 1156.3,3284.9 C1158.3,3284.9 1160.3,3284.8 1162.3,3284.8 C1164.3,3284.7 1166.3,3284.6 1168.3,3284.6 C1170.3,3284.5 1172.4,3284.5 1174.4,3284.4 C1176.4,3284.4 1178.4,3284.3 1180.4,3284.3 C1182.4,3284.2 1184.4,3284.1 1186.4,3284.1 C1188.4,3284.0 1190.4,3284.0 1192.4,3283.9 C1194.4,3283.9 1196.4,3283.8 1198.4,3283.8 C1200.4,3283.7 1202.4,3283.7 1204.5,3283.6 C1206.5,3283.6 1208.5,3283.5 1210.5,3283.5 C1212.5,3283.4 1214.5,3283.4 1216.5,3283.3 C1218.5,3283.3 1220.5,3283.2 1222.5,3283.2 C1224.5,3283.1 1226.5,3283.1 1228.5,3283.0 C1230.5,3283.0 1232.5,3282.9 1234.6,3282.9 C1236.6,3282.8 1238.6,3282.8 1240.6,3282.7 C1242.6,3282.7 1244.6,3282.6 1246.6,3282.6 C1248.6,3282.5 1250.6,3282.5 1252.6,3282.4 C1254.6,3282.4 1256.6,3282.4 1258.6,3282.3 C1260.6,3282.3 1262.6,3282.2 1264.6,3282.2 C1266.7,3282.1 1268.7,3282.1 1270.7,3282.0 C1272.7,3282.0 1274.7,3282.0 1276.7,3281.9 C1278.7,3281.9 1280.7,3281.8 1282.7,3281.8 C1284.7,3281.7 1286.7,3281.7 1288.7,3281.7 C1290.7,3281.6 1292.7,3281.6 1294.7,3281.5 C1296.7,3281.5 1298.8,3281.5 1300.8,3281.4 C1302.8,3281.4 1304.8,3281.3 1306.8,3281.3 C1308.8,3281.3 1310.8,3281.2 1312.8,3281.2 C1314.8,3281.1 1316.8,3281.1 1318.8,3281.1 C1320.8,3281.0 1322.8,3281.0 1324.8,3280.9 C1326.8,3280.9 1328.8,3280.9 1330.9,3280.8 C1332.9,3280.8 1334.9,3280.8 1336.9,3280.7 C1338.9,3280.7 1340.9,3280.7 1342.9,3280.6 C1344.9,3280.6 1346.9,3280.5 1348.9,3280.5 C1350.9,3280.5 1352.9,3280.4 1354.9,3280.4 C1356.9,3280.4 1358.9,3280.3 1360.9,3280.3 C1363.0,3280.3 1365.0,3280.2 1367.0,3280.2 C1369.0,3280.2 1371.0,3280.1 1373.0,3280.1 C1375.0,3280.1 1377.0,3280.1 1379.0,3280.0 C1381.0,3280.0 1383.0,3280.0 1385.0,3279.9 C1387.0,3279.9 1389.0,3279.9 1391.0,3279.8 C1393.1,3279.8 1395.1,3279.8 1397.1,3279.7 C1399.1,3279.7 1401.1,3279.7 1403.1,3279.7 C1405.1,3279.6 1407.1,3279.6 1409.1,3279.6 C1411.1,3279.5 1413.1,3279.5 1415.1,3279.5 C1417.1,3279.5 1419.1,3279.4 1421.1,3279.4 C1423.1,3279.4 1425.2,3279.4 1427.2,3279.3 C1429.2,3279.3 1431.2,3279.3 1433.2,3279.3 C1435.2,3279.2 1437.2,3279.2 1439.2,3279.2 C1441.2,3279.2 1443.2,3279.1 1445.2,3279.1 C1447.2,3279.1 1449.2,3279.1 1451.2,3279.0 C1453.2,3279.0 1455.2,3279.0 1457.3,3279.0 C1459.3,3278.9 1461.3,3278.9 1463.3,3278.9 C1465.3,3278.9 1467.3,3278.9 1469.3,3278.8 C1471.3,3278.8 1473.3,3278.8 1475.3,3278.8 C1477.3,3278.8 1479.3,3278.7 1481.3,3278.7 C1483.3,3278.7 1485.3,3278.7 1487.3,3278.7 C1489.4,3278.6 1491.4,3278.6 1493.4,3278.6 C1495.4,3278.6 1497.4,3278.6 1499.4,3278.5 C1501.4,3278.5 1503.4,3278.5 1505.4,3278.5 C1507.4,3278.5 1509.4,3278.5 1511.4,3278.4 C1513.4,3278.4 1515.4,3278.4 1517.4,3278.4 C1519.4,3278.4 1521.5,3278.4 1523.5,3278.3 C1525.5,3278.3 1527.5,3278.3 1529.5,3278.3 C1531.5,3278.3 1533.5,3278.3 1535.5,3278.3 C1537.5,3278.2 1539.5,3278.2 1541.5,3278.2 C1543.5,3278.2 1545.5,3278.2 1547.5,3278.2 C1549.5,3278.2 1551.5,3278.1 1553.6,3278.1 C1555.6,3278.1 1557.6,3278.1 1559.6,3278.1 C1561.6,3278.1 1563.6,3278.1 1565.6,3278.1 C1567.6,3278.0 1569.6,3278.0 1571.6,3278.0 C1573.6,3278.0 1575.6,3278.0 1577.6,3278.0 C1579.6,3278.0 1581.6,3278.0 1583.7,3278.0 C1585.7,3278.0 1587.7,3277.9 1589.7,3277.9 C1591.7,3277.9 1593.7,3277.9 1595.7,3277.9 C1597.7,3277.9 1599.7,3277.9 1601.7,3277.9 C1603.7,3277.9 1605.7,3277.9 1607.7,3277.9 C1609.7,3277.9 1611.7,3277.9 1613.7,3277.8 C1615.8,3277.8 1617.8,3277.8 1619.8,3277.8 C1621.8,3277.8 1623.8,3277.8 1625.8,3277.8 C1627.8,3277.8 1629.8,3277.8 1631.8,3277.8 C1633.8,3277.8 1635.8,3277.8 1637.8,3277.8 C1639.8,3277.8 1641.8,3277.8 1643.8,3277.8 C1645.8,3277.8 1647.9,3277.8 1649.9,3277.8 C1651.9,3277.8 1653.9,3277.8 1655.9,3277.8 C1657.9,3277.8 1659.9,3277.8 1661.9,3277.7 C1663.9,3277.7 1665.9,3277.7 1667.9,3277.7 C1669.9,3277.7 1671.9,3277.7 1673.9,3277.7 C1675.9,3277.7 1677.9,3277.7 1680.0,3277.7 C1682.0,3277.7 1684.0,3277.7 1686.0,3277.7 C1688.0,3277.7 1690.0,3277.7 1692.0,3277.7 C1694.0,3277.7 1696.0,3277.7 1698.0,3277.7 C1700.0,3277.7 1702.0,3277.8 1704.0,3277.8 C1706.0,3277.8 1708.0,3277.8 1710.0,3277.8 C1712.1,3277.8 1714.1,3277.8 1716.1,3277.8 C1718.1,3277.8 1720.1,3277.8 1722.1,3277.8 C1724.1,3277.8 1726.1,3277.8 1728.1,3277.8 C1730.1,3277.8 1732.1,3277.8 1734.1,3277.8 C1736.1,3277.8 1738.1,3277.8 1740.1,3277.8 C1742.2,3277.8 1744.2,3277.8 1746.2,3277.8 C1748.2,3277.8 1750.2,3277.9 1752.2,3277.9 C1754.2,3277.9 1756.2,3277.9 1758.2,3277.9 C1760.2,3277.9 1762.2,3277.9 1764.2,3277.9 C1766.2,3277.9 1768.2,3277.9 1770.2,3277.9 C1772.2,3277.9 1774.3,3277.9 1776.3,3278.0 C1778.3,3278.0 1780.3,3278.0 1782.3,3278.0 C1784.3,3278.0 1786.3,3278.0 1788.3,3278.0 C1790.3,3278.0 1792.3,3278.0 1794.3,3278.0 C1796.3,3278.1 1798.3,3278.1 1800.3,3278.1 C1802.3,3278.1 1804.3,3278.1 1806.4,3278.1 C1808.4,3278.1 1810.4,3278.1 1812.4,3278.1 C1814.4,3278.2 1816.4,3278.2 1818.4,3278.2 C1820.4,3278.2 1822.4,3278.2 1824.4,3278.2 C1826.4,3278.2 1828.4,3278.2 1830.4,3278.3 C1832.4,3278.3 1834.4,3278.3 1836.4,3278.3 C1838.5,3278.3 1840.5,3278.3 1842.5,3278.3 C1844.5,3278.4 1846.5,3278.4 1848.5,3278.4 C1850.5,3278.4 1852.5,3278.4 1854.5,3278.4 C1856.5,3278.4 1858.5,3278.5 1860.5,3278.5 C1862.5,3278.5 1864.5,3278.5 1866.5,3278.5 C1868.5,3278.5 1870.6,3278.6 1872.6,3278.6 C1874.6,3278.6 1876.6,3278.6 1878.6,3278.6 C1880.6,3278.6 1882.6,3278.7 1884.6,3278.7" fill="none" stroke="#00B0F0" stroke-width="8.6" stroke-linecap="butt" stroke-linejoin="round"/>
<circle cx="1884.6" cy="3278.7" r="4.3" fill="#00B0F0"/>
<path d="M60.1,3460.7 C62.1,3460.7 64.1,3460.7 66.1,3460.7 C68.1,3460.7 70.2,3460.7 72.2,3460.7 C74.2,3460.7 76.2,3460.7 78.2,3460.7 C80.2,3460.6 82.2,3460.6 84.2,3460.6 C86.2,3460.6 88.3,3460.6 90.3,3460.6 C92.3,3460.6 94.3,3460.6 96.3,3460.6 C98.3,3460.6 100.3,3460.6 102.3,3460.6 C104.3,3460.6 106.4,3460.6 108.4,3460.6 C110.4,3460.6 112.4,3460.6 114.4,3460.6 C116.4,3460.6 118.4,3460.7 120.4,3460.7 C122.4,3460.7 124.5,3460.7 126.5,3460.7 C128.5,3460.7 130.5,3460.7 132.5,3460.7 C134.5,3460.7 136.5,3460.7 138.5,3460.7 C140.5,3460.7 142.6,3460.7 144.6,3460.7 C146.6,3460.7 148.6,3460.7 150.6,3460.7 C152.6,3460.7 154.6,3460.7 156.6,3460.7 C158.6,3460.8 160.7,3460.8 162.7,3460.8 C164.7,3460.8 166.7,3460.8 168.7,3460.8 C170.7,3460.8 172.7,3460.8 174.7,3460.8 C176.8,3460.8 178.8,3460.8 180.8,3460.9 C182.8,3460.9 184.8,3460.9 186.8,3460.9 C188.8,3460.9 190.8,3460.9 192.8,3460.9 C194.9,3460.9 196.9,3460.9 198.9,3461.0 C200.9,3461.0 202.9,3461.0 204.9,3461.0 C206.9,3461.0 208.9,3461.0 210.9,3461.0 C213.0,3461.0 215.0,3461.1 217.0,3461.1 C219.0,3461.1 221.0,3461.1 223.0,3461.1 C225.0,3461.1 227.0,3461.1 229.0,3461.2 C231.1,3461.2 233.1,3461.2 235.1,3461.2 C237.1,3461.2 239.1,3461.2 241.1,3461.2 C243.1,3461.3 245.1,3461.3 247.1,3461.3 C249.2,3461.3 251.2,3461.3 253.2,3461.3 C255.2,3461.4 257.2,3461.4 259.2,3461.4 C261.2,3461.4 263.2,3461.4 265.2,3461.5 C267.3,3461.5 269.3,3461.5 271.3,3461.5 C273.3,3461.5 275.3,3461.6 277.3,3461.6 C279.3,3461.6 281.3,3461.6 283.3,3461.6 C285.4,3461.7 287.4,3461.7 289.4,3461.7 C291.4,3461.7 293.4,3461.7 295.4,3461.8 C297.4,3461.8 299.4,3461.8 301.4,3461.8 C303.5,3461.8 305.5,3461.9 307.5,3461.9 C309.5,3461.9 311.5,3461.9 313.5,3462.0 C315.5,3462.0 317.5,3462.0 319.5,3462.0 C321.6,3462.0 323.6,3462.1 325.6,3462.1 C327.6,3462.1 329.6,3462.1 331.6,3462.2 C333.6,3462.2 335.6,3462.2 337.6,3462.2 C339.7,3462.3 341.7,3462.3 343.7,3462.3 C345.7,3462.3 347.7,3462.4 349.7,3462.4 C351.7,3462.4 353.7,3462.4 355.7,3462.5 C357.8,3462.5 359.8,3462.5 361.8,3462.5 C363.8,3462.6 365.8,3462.6 367.8,3462.6 C369.8,3462.6 371.8,3462.7 373.8,3462.7 C375.9,3462.7 377.9,3462.7 379.9,3462.8 C381.9,3462.8 383.9,3462.8 385.9,3462.9 C387.9,3462.9 389.9,3462.9 391.9,3462.9 C394.0,3463.0 396.0,3463.0 398.0,3463.0 C400.0,3463.1 402.0,3463.1 404.0,3463.1 C406.0,3463.1 408.0,3463.2 410.1,3463.2 C412.1,3463.2 414.1,3463.3 416.1,3463.3 C418.1,3463.3 420.1,3463.3 422.1,3463.4 C424.1,3463.4 426.1,3463.4 428.2,3463.5 C430.2,3463.5 432.2,3463.5 434.2,3463.5 C436.2,3463.6 438.2,3463.6 440.2,3463.6 C442.2,3463.7 444.2,3463.7 446.3,3463.7 C448.3,3463.8 450.3,3463.8 452.3,3463.8 C454.3,3463.9 456.3,3463.9 458.3,3463.9 C460.3,3463.9 462.3,3464.0 464.4,3464.0 C466.4,3464.0 468.4,3464.1 470.4,3464.1 C472.4,3464.1 474.4,3464.2 476.4,3464.2 C478.4,3464.2 480.4,3464.3 482.5,3464.3 C484.5,3464.3 486.5,3464.4 488.5,3464.4 C490.5,3464.4 492.5,3464.5 494.5,3464.5 C496.5,3464.5 498.5,3464.6 500.6,3464.6 C502.6,3464.6 504.6,3464.7 506.6,3464.7 C508.6,3464.7 510.6,3464.8 512.6,3464.8 C514.6,3464.8 516.6,3464.9 518.7,3464.9 C520.7,3464.9 522.7,3465.0 524.7,3465.0 C526.7,3465.0 528.7,3465.1 530.7,3465.1 C532.7,3465.1 534.7,3465.2 536.8,3465.2 C538.8,3465.2 540.8,3465.3 542.8,3465.3 C544.8,3465.3 546.8,3465.4 548.8,3465.4 C550.8,3465.4 552.8,3465.5 554.9,3465.5 C556.9,3465.5 558.9,3465.6 560.9,3465.6 C562.9,3465.6 564.9,3465.7 566.9,3465.7 C568.9,3465.7 570.9,3465.8 573.0,3465.8 C575.0,3465.8 577.0,3465.9 579.0,3465.9 C581.0,3465.9 583.0,3466.0 585.0,3466.0 C587.0,3466.0 589.0,3466.1 591.1,3466.1 C593.1,3466.2 595.1,3466.2 597.1,3466.2 C599.1,3466.3 601.1,3466.3 603.1,3466.3 C605.1,3466.4 607.1,3466.4 609.2,3466.4 C611.2,3466.5 613.2,3466.5 615.2,3466.5 C617.2,3466.6 619.2,3466.6 621.2,3466.6 C623.2,3466.7 625.2,3466.7 627.3,3466.7 C629.3,3466.8 631.3,3466.8 633.3,3466.8 C635.3,3466.9 637.3,3466.9 639.3,3467.0 C641.3,3467.0 643.4,3467.0 645.4,3467.1 C647.4,3467.1 649.4,3467.1 651.4,3467.2 C653.4,3467.2 655.4,3467.2 657.4,3467.3 C659.4,3467.3 661.5,3467.3 663.5,3467.4 C665.5,3467.4 667.5,3467.4 669.5,3467.5 C671.5,3467.5 673.5,3467.5 675.5,3467.6 C677.5,3467.6 679.6,3467.6 681.6,3467.7 C683.6,3467.7 685.6,3467.7 687.6,3467.8 C689.6,3467.8 691.6,3467.9 693.6,3467.9 C695.6,3467.9 697.7,3468.0 699.7,3468.0 C701.7,3468.0 703.7,3468.1 705.7,3468.1 C707.7,3468.1 709.7,3468.2 711.7,3468.2 C713.7,3468.2 715.8,3468.3 717.8,3468.3 C719.8,3468.3 721.8,3468.4 723.8,3468.4 C725.8,3468.4 727.8,3468.5 729.8,3468.5 C731.8,3468.5 733.9,3468.6 735.9,3468.6 C737.9,3468.6 739.9,3468.7 741.9,3468.7 C743.9,3468.7 745.9,3468.8 747.9,3468.8 C749.9,3468.8 752.0,3468.9 754.0,3468.9 C756.0,3468.9 758.0,3469.0 760.0,3469.0 C766.8,3469.1 773.7,3469.4 780.5,3469.8 C787.3,3470.2 794.2,3471.3 801.0,3472.4 C807.9,3473.5 814.7,3475.5 821.6,3477.2 C828.4,3478.9 835.3,3480.9 842.1,3482.7 C848.9,3484.5 855.8,3486.4 862.6,3487.8 C869.4,3489.2 876.3,3490.5 883.1,3491.5 C889.9,3492.5 896.8,3493.1 903.6,3494.0 C910.5,3494.9 917.3,3495.9 924.2,3496.7 C931.0,3497.5 937.9,3498.4 944.7,3499.1 C951.5,3499.8 958.4,3500.9 965.2,3501.2 C972.0,3501.5 978.9,3501.8 985.7,3501.8 C992.6,3501.8 999.4,3501.1 1006.3,3500.6 C1013.1,3500.1 1020.0,3498.9 1026.8,3498.1 C1033.6,3497.3 1040.5,3496.3 1047.3,3495.6 C1051.5,3495.2 1055.8,3494.8 1060.0,3494.4 C1062.0,3494.2 1064.0,3494.0 1066.0,3493.8 C1068.0,3493.6 1070.0,3493.4 1072.0,3493.3 C1074.0,3493.1 1076.1,3492.9 1078.1,3492.7 C1080.1,3492.5 1082.1,3492.3 1084.1,3492.2 C1086.1,3492.0 1088.1,3491.8 1090.1,3491.6 C1092.1,3491.5 1094.1,3491.3 1096.1,3491.1 C1098.1,3490.9 1100.1,3490.8 1102.1,3490.6 C1104.1,3490.4 1106.1,3490.3 1108.2,3490.1 C1110.2,3489.9 1112.2,3489.8 1114.2,3489.6 C1116.2,3489.5 1118.2,3489.3 1120.2,3489.1 C1122.2,3489.0 1124.2,3488.8 1126.2,3488.7 C1128.2,3488.5 1130.2,3488.4 1132.2,3488.2 C1134.2,3488.0 1136.2,3487.9 1138.2,3487.7 C1140.3,3487.6 1142.3,3487.5 1144.3,3487.3 C1146.3,3487.2 1148.3,3487.0 1150.3,3486.9 C1152.3,3486.7 1154.3,3486.6 1156.3,3486.4 C1158.3,3486.3 1160.3,3486.2 1162.3,3486.0 C1164.3,3485.9 1166.3,3485.8 1168.3,3485.6 C1170.3,3485.5 1172.4,3485.4 1174.4,3485.2 C1176.4,3485.1 1178.4,3485.0 1180.4,3484.8 C1182.4,3484.7 1184.4,3484.6 1186.4,3484.5 C1188.4,3484.3 1190.4,3484.2 1192.4,3484.1 C1194.4,3484.0 1196.4,3483.9 1198.4,3483.7 C1200.4,3483.6 1202.4,3483.5 1204.5,3483.4 C1206.5,3483.3 1208.5,3483.2 1210.5,3483.0 C1212.5,3482.9 1214.5,3482.8 1216.5,3482.7 C1218.5,3482.6 1220.5,3482.5 1222.5,3482.4 C1224.5,3482.3 1226.5,3482.2 1228.5,3482.1 C1230.5,3481.9 1232.5,3481.8 1234.6,3481.7 C1236.6,3481.6 1238.6,3481.5 1240.6,3481.4 C1242.6,3481.3 1244.6,3481.2 1246.6,3481.1 C1248.6,3481.0 1250.6,3480.9 1252.6,3480.9 C1254.6,3480.8 1256.6,3480.7 1258.6,3480.6 C1260.6,3480.5 1262.6,3480.4 1264.6,3480.3 C1266.7,3480.2 1268.7,3480.1 1270.7,3480.0 C1272.7,3479.9 1274.7,3479.9 1276.7,3479.8 C1278.7,3479.7 1280.7,3479.6 1282.7,3479.5 C1284.7,3479.4 1286.7,3479.4 1288.7,3479.3 C1290.7,3479.2 1292.7,3479.1 1294.7,3479.0 C1296.7,3479.0 1298.8,3478.9 1300.8,3478.8 C1302.8,3478.7 1304.8,3478.7 1306.8,3478.6 C1308.8,3478.5 1310.8,3478.4 1312.8,3478.4 C1314.8,3478.3 1316.8,3478.2 1318.8,3478.2 C1320.8,3478.1 1322.8,3478.0 1324.8,3478.0 C1326.8,3477.9 1328.8,3477.8 1330.9,3477.8 C1332.9,3477.7 1334.9,3477.6 1336.9,3477.6 C1338.9,3477.5 1340.9,3477.4 1342.9,3477.4 C1344.9,3477.3 1346.9,3477.3 1348.9,3477.2 C1350.9,3477.1 1352.9,3477.1 1354.9,3477.0 C1356.9,3477.0 1358.9,3476.9 1360.9,3476.9 C1363.0,3476.8 1365.0,3476.8 1367.0,3476.7 C1369.0,3476.6 1371.0,3476.6 1373.0,3476.5 C1375.0,3476.5 1377.0,3476.4 1379.0,3476.4 C1381.0,3476.3 1383.0,3476.3 1385.0,3476.2 C1387.0,3476.2 1389.0,3476.2 1391.0,3476.1 C1393.1,3476.1 1395.1,3476.0 1397.1,3476.0 C1399.1,3475.9 1401.1,3475.9 1403.1,3475.8 C1405.1,3475.8 1407.1,3475.8 1409.1,3475.7 C1411.1,3475.7 1413.1,3475.6 1415.1,3475.6 C1417.1,3475.6 1419.1,3475.5 1421.1,3475.5 C1423.1,3475.5 1425.2,3475.4 1427.2,3475.4 C1429.2,3475.3 1431.2,3475.3 1433.2,3475.3 C1435.2,3475.2 1437.2,3475.2 1439.2,3475.2 C1441.2,3475.1 1443.2,3475.1 1445.2,3475.1 C1447.2,3475.1 1449.2,3475.0 1451.2,3475.0 C1453.2,3475.0 1455.2,3474.9 1457.3,3474.9 C1459.3,3474.9 1461.3,3474.9 1463.3,3474.8 C1465.3,3474.8 1467.3,3474.8 1469.3,3474.7 C1471.3,3474.7 1473.3,3474.7 1475.3,3474.7 C1477.3,3474.6 1479.3,3474.6 1481.3,3474.6 C1483.3,3474.6 1485.3,3474.6 1487.3,3474.5 C1489.4,3474.5 1491.4,3474.5 1493.4,3474.5 C1495.4,3474.5 1497.4,3474.4 1499.4,3474.4 C1501.4,3474.4 1503.4,3474.4 1505.4,3474.4 C1507.4,3474.3 1509.4,3474.3 1511.4,3474.3 C1513.4,3474.3 1515.4,3474.3 1517.4,3474.3 C1519.4,3474.2 1521.5,3474.2 1523.5,3474.2 C1525.5,3474.2 1527.5,3474.2 1529.5,3474.2 C1531.5,3474.2 1533.5,3474.1 1535.5,3474.1 C1537.5,3474.1 1539.5,3474.1 1541.5,3474.1 C1543.5,3474.1 1545.5,3474.1 1547.5,3474.1 C1549.5,3474.0 1551.5,3474.0 1553.6,3474.0 C1555.6,3474.0 1557.6,3474.0 1559.6,3474.0 C1561.6,3474.0 1563.6,3474.0 1565.6,3474.0 C1567.6,3474.0 1569.6,3474.0 1571.6,3474.0 C1573.6,3473.9 1575.6,3473.9 1577.6,3473.9 C1579.6,3473.9 1581.6,3473.9 1583.7,3473.9 C1585.7,3473.9 1587.7,3473.9 1589.7,3473.9 C1591.7,3473.9 1593.7,3473.9 1595.7,3473.9 C1597.7,3473.9 1599.7,3473.9 1601.7,3473.9 C1603.7,3473.9 1605.7,3473.9 1607.7,3473.9 C1609.7,3473.8 1611.7,3473.8 1613.7,3473.8 C1615.8,3473.8 1617.8,3473.8 1619.8,3473.8 C1621.8,3473.8 1623.8,3473.8 1625.8,3473.8 C1627.8,3473.8 1629.8,3473.8 1631.8,3473.8 C1633.8,3473.8 1635.8,3473.8 1637.8,3473.8 C1639.8,3473.8 1641.8,3473.8 1643.8,3473.8 C1645.8,3473.8 1647.9,3473.8 1649.9,3473.8 C1651.9,3473.8 1653.9,3473.8 1655.9,3473.8 C1657.9,3473.8 1659.9,3473.8 1661.9,3473.8 C1663.9,3473.8 1665.9,3473.8 1667.9,3473.8 C1669.9,3473.8 1671.9,3473.8 1673.9,3473.8 C1675.9,3473.8 1677.9,3473.8 1680.0,3473.8 C1682.0,3473.8 1684.0,3473.8 1686.0,3473.8 C1688.0,3473.8 1690.0,3473.8 1692.0,3473.8 C1694.0,3473.8 1696.0,3473.8 1698.0,3473.8 C1700.0,3473.8 1702.0,3473.8 1704.0,3473.8 C1706.0,3473.8 1708.0,3473.8 1710.0,3473.8 C1712.1,3473.8 1714.1,3473.8 1716.1,3473.8 C1718.1,3473.8 1720.1,3473.8 1722.1,3473.8 C1724.1,3473.8 1726.1,3473.8 1728.1,3473.9 C1730.1,3473.9 1732.1,3473.9 1734.1,3473.9 C1736.1,3473.9 1738.1,3473.9 1740.1,3473.9 C1742.2,3473.9 1744.2,3473.9 1746.2,3473.9 C1748.2,3473.9 1750.2,3473.9 1752.2,3473.9 C1754.2,3473.9 1756.2,3473.9 1758.2,3473.9 C1760.2,3473.9 1762.2,3473.9 1764.2,3473.9 C1766.2,3473.9 1768.2,3473.9 1770.2,3473.9 C1772.2,3473.9 1774.3,3473.9 1776.3,3473.9 C1778.3,3473.9 1780.3,3473.9 1782.3,3473.9 C1784.3,3473.9 1786.3,3473.9 1788.3,3473.9 C1790.3,3473.9 1792.3,3473.9 1794.3,3473.8 C1796.3,3473.8 1798.3,3473.8 1800.3,3473.8 C1802.3,3473.8 1804.3,3473.8 1806.4,3473.8 C1808.4,3473.8 1810.4,3473.8 1812.4,3473.8 C1814.4,3473.8 1816.4,3473.8 1818.4,3473.8 C1820.4,3473.8 1822.4,3473.8 1824.4,3473.8 C1826.4,3473.8 1828.4,3473.8 1830.4,3473.8 C1832.4,3473.8 1834.4,3473.8 1836.4,3473.8 C1838.5,3473.8 1840.5,3473.8 1842.5,3473.8 C1844.5,3473.7 1846.5,3473.7 1848.5,3473.7 C1850.5,3473.7 1852.5,3473.7 1854.5,3473.7 C1856.5,3473.7 1858.5,3473.7 1860.5,3473.7 C1862.5,3473.7 1864.5,3473.7 1866.5,3473.7 C1868.5,3473.6 1870.6,3473.6 1872.6,3473.6 C1874.6,3473.6 1876.6,3473.6 1878.6,3473.6 C1880.6,3473.6 1882.6,3473.6 1884.6,3473.6" fill="none" stroke="#0070C0" stroke-width="8.6" stroke-linecap="butt" stroke-linejoin="round"/>
<circle cx="1884.6" cy="3473.6" r="4.3" fill="#0070C0"/>
<path d="M60.1,3647.9 C62.1,3647.7 64.1,3647.6 66.1,3647.4 C68.1,3647.3 70.1,3647.1 72.1,3647.0 C74.1,3646.9 76.1,3646.7 78.1,3646.6 C80.1,3646.5 82.1,3646.4 84.1,3646.2 C86.1,3646.1 88.1,3646.0 90.1,3645.9 C92.1,3645.8 94.1,3645.7 96.1,3645.6 C98.1,3645.4 100.1,3645.3 102.1,3645.2 C104.1,3645.1 106.1,3645.0 108.1,3644.9 C110.1,3644.8 112.1,3644.7 114.2,3644.6 C116.2,3644.5 118.2,3644.5 120.2,3644.4 C122.2,3644.3 124.2,3644.2 126.2,3644.1 C128.2,3644.0 130.2,3643.9 132.2,3643.9 C134.2,3643.8 136.2,3643.7 138.2,3643.6 C140.2,3643.6 142.2,3643.5 144.2,3643.4 C146.2,3643.3 148.2,3643.3 150.2,3643.2 C152.2,3643.1 154.2,3643.1 156.2,3643.0 C158.2,3642.9 160.2,3642.9 162.2,3642.8 C164.2,3642.8 166.2,3642.7 168.2,3642.7 C170.2,3642.6 172.2,3642.6 174.2,3642.5 C176.2,3642.4 178.2,3642.4 180.2,3642.3 C182.2,3642.3 184.2,3642.3 186.2,3642.2 C188.2,3642.2 190.2,3642.1 192.2,3642.1 C194.2,3642.0 196.2,3642.0 198.2,3641.9 C200.2,3641.9 202.2,3641.9 204.2,3641.8 C206.2,3641.8 208.2,3641.8 210.2,3641.7 C212.2,3641.7 214.2,3641.6 216.2,3641.6 C218.3,3641.6 220.3,3641.5 222.3,3641.5 C224.3,3641.5 226.3,3641.4 228.3,3641.4 C230.3,3641.4 232.3,3641.4 234.3,3641.3 C236.3,3641.3 238.3,3641.3 240.3,3641.2 C242.3,3641.2 244.3,3641.2 246.3,3641.2 C248.3,3641.1 250.3,3641.1 252.3,3641.1 C254.3,3641.0 256.3,3641.0 258.3,3641.0 C260.3,3641.0 262.3,3640.9 264.3,3640.9 C266.3,3640.9 268.3,3640.9 270.3,3640.8 C272.3,3640.8 274.3,3640.8 276.3,3640.8 C278.3,3640.7 280.3,3640.7 282.3,3640.7 C284.3,3640.7 286.3,3640.6 288.3,3640.6 C290.3,3640.6 292.3,3640.6 294.3,3640.5 C296.3,3640.5 298.3,3640.5 300.3,3640.5 C302.3,3640.4 304.3,3640.4 306.3,3640.4 C308.3,3640.4 310.3,3640.3 312.3,3640.3 C314.3,3640.3 316.3,3640.2 318.3,3640.2 C320.3,3640.2 322.4,3640.1 324.4,3640.1 C326.4,3640.1 328.4,3640.1 330.4,3640.0 C332.4,3640.0 334.4,3640.0 336.4,3639.9 C338.4,3639.9 340.4,3639.8 342.4,3639.8 C344.4,3639.8 346.4,3639.7 348.4,3639.7 C350.4,3639.7 352.4,3639.6 354.4,3639.6 C356.4,3639.5 358.4,3639.5 360.4,3639.5 C362.4,3639.4 364.4,3639.4 366.4,3639.4 C368.4,3639.3 370.4,3639.3 372.4,3639.2 C374.4,3639.2 376.4,3639.1 378.4,3639.1 C380.4,3639.1 382.4,3639.0 384.4,3639.0 C386.4,3638.9 388.4,3638.9 390.4,3638.8 C392.4,3638.8 394.4,3638.8 396.4,3638.7 C398.4,3638.7 400.4,3638.6 402.4,3638.6 C404.4,3638.5 406.4,3638.5 408.4,3638.5 C410.4,3638.4 412.4,3638.4 414.4,3638.3 C416.4,3638.3 418.4,3638.2 420.4,3638.2 C422.4,3638.2 424.4,3638.1 426.4,3638.1 C428.5,3638.0 430.5,3638.0 432.5,3637.9 C434.5,3637.9 436.5,3637.9 438.5,3637.8 C440.5,3637.8 442.5,3637.7 444.5,3637.7 C446.5,3637.6 448.5,3637.6 450.5,3637.6 C452.5,3637.5 454.5,3637.5 456.5,3637.4 C458.5,3637.4 460.5,3637.4 462.5,3637.3 C464.5,3637.3 466.5,3637.2 468.5,3637.2 C470.5,3637.2 472.5,3637.1 474.5,3637.1 C476.5,3637.1 478.5,3637.0 480.5,3637.0 C482.5,3636.9 484.5,3636.9 486.5,3636.9 C488.5,3636.8 490.5,3636.8 492.5,3636.8 C494.5,3636.7 496.5,3636.7 498.5,3636.7 C500.5,3636.7 502.5,3636.6 504.5,3636.6 C506.5,3636.6 508.5,3636.5 510.5,3636.5 C512.5,3636.5 514.5,3636.5 516.5,3636.4 C518.5,3636.4 520.5,3636.4 522.5,3636.4 C524.5,3636.3 526.5,3636.3 528.5,3636.3 C530.5,3636.3 532.6,3636.3 534.6,3636.2 C536.6,3636.2 538.6,3636.2 540.6,3636.2 C542.6,3636.2 544.6,3636.2 546.6,3636.2 C548.6,3636.1 550.6,3636.1 552.6,3636.1 C554.6,3636.1 556.6,3636.1 558.6,3636.1 C560.6,3636.1 562.6,3636.1 564.6,3636.1 C566.6,3636.1 568.6,3636.1 570.6,3636.1 C572.6,3636.1 574.6,3636.1 576.6,3636.1 C578.6,3636.1 580.6,3636.1 582.6,3636.1 C584.6,3636.1 586.6,3636.1 588.6,3636.1 C590.6,3636.1 592.6,3636.1 594.6,3636.1 C596.6,3636.2 598.6,3636.2 600.6,3636.2 C602.6,3636.2 604.6,3636.2 606.6,3636.2 C608.6,3636.3 610.6,3636.3 612.6,3636.3 C614.6,3636.3 616.6,3636.4 618.6,3636.4 C620.6,3636.4 622.6,3636.4 624.6,3636.5 C626.6,3636.5 628.6,3636.5 630.6,3636.6 C632.6,3636.6 634.6,3636.6 636.7,3636.7 C638.7,3636.7 640.7,3636.8 642.7,3636.8 C644.7,3636.8 646.7,3636.9 648.7,3636.9 C650.7,3637.0 652.7,3637.0 654.7,3637.1 C656.7,3637.1 658.7,3637.2 660.7,3637.2 C662.7,3637.3 664.7,3637.3 666.7,3637.4 C668.7,3637.4 670.7,3637.5 672.7,3637.6 C674.7,3637.6 676.7,3637.7 678.7,3637.8 C680.7,3637.8 682.7,3637.9 684.7,3638.0 C686.7,3638.0 688.7,3638.1 690.7,3638.2 C692.7,3638.3 694.7,3638.3 696.7,3638.4 C698.7,3638.5 700.7,3638.6 702.7,3638.7 C704.7,3638.7 706.7,3638.8 708.7,3638.9 C710.7,3639.0 712.7,3639.1 714.7,3639.2 C716.7,3639.3 718.7,3639.4 720.7,3639.5 C722.7,3639.6 724.7,3639.7 726.7,3639.8 C728.7,3639.9 730.7,3640.0 732.7,3640.1 C734.7,3640.2 736.7,3640.3 738.7,3640.4 C740.8,3640.5 742.8,3640.6 744.8,3640.7 C746.8,3640.9 748.8,3641.0 750.8,3641.1 C752.8,3641.2 754.8,3641.3 756.8,3641.5 C758.8,3641.6 760.8,3641.7 762.8,3641.9 C764.8,3642.0 766.8,3642.1 768.8,3642.3 C770.8,3642.4 772.8,3642.5 774.8,3642.7 C776.8,3642.8 778.8,3643.0 780.8,3643.1 C782.8,3643.2 784.8,3643.4 786.8,3643.5 C788.8,3643.7 790.8,3643.8 792.8,3644.0 C802.7,3645.0 812.5,3649.9 822.4,3650.5 C823.1,3650.5 823.7,3650.6 824.4,3650.6 C825.1,3650.6 825.8,3650.7 826.4,3650.7 C827.1,3650.7 827.8,3650.7 828.4,3650.8 C829.1,3650.8 829.8,3650.8 830.5,3650.9 C831.1,3650.9 831.8,3650.9 832.5,3651.0 C833.1,3651.0 833.8,3651.0 834.5,3651.1 C835.2,3651.1 835.8,3651.1 836.5,3651.1 C837.2,3651.2 837.9,3651.2 838.5,3651.2 C839.2,3651.3 839.9,3651.3 840.5,3651.3 C841.2,3651.4 841.9,3651.4 842.6,3651.4 C843.2,3651.5 843.9,3651.5 844.6,3651.5 C845.2,3651.5 845.9,3651.6 846.6,3651.6 C847.3,3651.6 847.9,3651.7 848.6,3651.7 C849.4,3651.7 850.3,3651.3 851.1,3651.1 C851.9,3650.8 852.8,3650.4 853.6,3650.4 C854.4,3650.4 855.2,3651.0 856.0,3651.3 C856.9,3651.6 857.7,3652.2 858.5,3652.2 C859.2,3652.2 859.9,3652.2 860.6,3652.2 C861.3,3652.2 862.0,3652.2 862.7,3652.2 C863.4,3652.2 864.0,3652.2 864.7,3652.2 C865.4,3652.2 866.1,3652.2 866.8,3652.2 C867.5,3652.2 868.2,3652.2 868.9,3652.2 C869.6,3652.2 870.3,3652.2 871.0,3652.2 C871.7,3652.2 872.4,3652.2 873.1,3652.2 C873.8,3652.2 874.4,3652.2 875.1,3652.2 C875.8,3652.2 876.5,3652.2 877.2,3652.2 C877.9,3652.2 878.6,3652.2 879.3,3652.2 C880.0,3652.2 880.7,3652.2 881.4,3652.2 C882.1,3652.2 882.8,3652.2 883.5,3652.2 C884.2,3652.2 884.8,3652.2 885.5,3652.2 C886.2,3652.2 886.9,3652.2 887.6,3652.2 C888.3,3652.2 889.0,3652.2 889.7,3652.2 C890.3,3652.2 891.0,3652.7 891.6,3652.9 C892.3,3653.1 892.9,3653.3 893.5,3653.6 C894.2,3653.8 894.8,3654.0 895.5,3654.2 C896.1,3654.5 896.7,3654.7 897.4,3654.9 C898.0,3655.2 898.6,3655.4 899.3,3655.6 C899.9,3655.8 900.6,3656.3 901.2,3656.3 C914.3,3657.0 927.5,3656.7 940.6,3657.1 C960.4,3657.7 980.2,3659.9 1000.0,3660.9 C1016.3,3661.7 1032.5,3663.0 1048.8,3663.0 C1069.3,3663.0 1089.9,3661.4 1110.4,3660.6 C1112.4,3660.5 1114.4,3660.5 1116.4,3660.4 C1118.4,3660.3 1120.4,3660.2 1122.4,3660.2 C1124.4,3660.1 1126.4,3660.0 1128.4,3660.0 C1130.4,3659.9 1132.4,3659.8 1134.4,3659.7 C1136.4,3659.7 1138.4,3659.6 1140.4,3659.5 C1142.4,3659.5 1144.4,3659.4 1146.4,3659.3 C1148.4,3659.3 1150.4,3659.2 1152.4,3659.2 C1154.4,3659.1 1156.4,3659.0 1158.4,3659.0 C1160.4,3658.9 1162.4,3658.8 1164.4,3658.8 C1166.4,3658.7 1168.4,3658.7 1170.4,3658.6 C1172.4,3658.5 1174.4,3658.5 1176.4,3658.4 C1178.4,3658.4 1180.4,3658.3 1182.4,3658.3 C1184.4,3658.2 1186.4,3658.1 1188.4,3658.1 C1190.4,3658.0 1192.4,3658.0 1194.4,3657.9 C1196.4,3657.9 1198.4,3657.8 1200.4,3657.8 C1202.4,3657.7 1204.4,3657.7 1206.4,3657.6 C1208.4,3657.6 1210.4,3657.5 1212.4,3657.5 C1214.4,3657.4 1216.4,3657.4 1218.4,3657.3 C1220.4,3657.3 1222.4,3657.2 1224.4,3657.2 C1226.4,3657.1 1228.4,3657.1 1230.4,3657.0 C1232.4,3657.0 1234.4,3656.9 1236.4,3656.9 C1238.4,3656.8 1240.4,3656.8 1242.4,3656.7 C1244.4,3656.7 1246.4,3656.7 1248.4,3656.6 C1250.4,3656.6 1252.4,3656.5 1254.4,3656.5 C1256.4,3656.4 1258.4,3656.4 1260.4,3656.4 C1262.4,3656.3 1264.4,3656.3 1266.4,3656.2 C1268.4,3656.2 1270.4,3656.2 1272.4,3656.1 C1274.4,3656.1 1276.4,3656.1 1278.4,3656.0 C1280.4,3656.0 1282.4,3655.9 1284.4,3655.9 C1286.4,3655.9 1288.4,3655.8 1290.4,3655.8 C1292.4,3655.8 1294.4,3655.7 1296.4,3655.7 C1298.4,3655.7 1300.4,3655.6 1302.4,3655.6 C1304.5,3655.6 1306.5,3655.5 1308.5,3655.5 C1310.5,3655.5 1312.5,3655.4 1314.5,3655.4 C1316.5,3655.4 1318.5,3655.3 1320.5,3655.3 C1322.5,3655.3 1324.5,3655.3 1326.5,3655.2 C1328.5,3655.2 1330.5,3655.2 1332.5,3655.1 C1334.5,3655.1 1336.5,3655.1 1338.5,3655.1 C1340.5,3655.0 1342.5,3655.0 1344.5,3655.0 C1346.5,3655.0 1348.5,3654.9 1350.5,3654.9 C1352.5,3654.9 1354.5,3654.9 1356.5,3654.8 C1358.5,3654.8 1360.5,3654.8 1362.5,3654.8 C1364.5,3654.7 1366.5,3654.7 1368.5,3654.7 C1370.5,3654.7 1372.5,3654.6 1374.5,3654.6 C1376.5,3654.6 1378.5,3654.6 1380.5,3654.6 C1382.5,3654.5 1384.5,3654.5 1386.5,3654.5 C1388.5,3654.5 1390.5,3654.5 1392.5,3654.4 C1394.5,3654.4 1396.5,3654.4 1398.5,3654.4 C1400.5,3654.4 1402.5,3654.3 1404.5,3654.3 C1406.5,3654.3 1408.5,3654.3 1410.5,3654.3 C1412.5,3654.3 1414.5,3654.2 1416.5,3654.2 C1418.5,3654.2 1420.5,3654.2 1422.5,3654.2 C1424.5,3654.2 1426.5,3654.1 1428.5,3654.1 C1430.5,3654.1 1432.5,3654.1 1434.5,3654.1 C1436.5,3654.1 1438.5,3654.1 1440.5,3654.1 C1442.5,3654.0 1444.5,3654.0 1446.5,3654.0 C1448.5,3654.0 1450.5,3654.0 1452.5,3654.0 C1454.5,3654.0 1456.5,3653.9 1458.5,3653.9 C1460.5,3653.9 1462.5,3653.9 1464.5,3653.9 C1466.5,3653.9 1468.5,3653.9 1470.5,3653.9 C1472.5,3653.9 1474.5,3653.9 1476.5,3653.8 C1478.5,3653.8 1480.5,3653.8 1482.5,3653.8 C1484.5,3653.8 1486.5,3653.8 1488.5,3653.8 C1490.5,3653.8 1492.5,3653.8 1494.5,3653.8 C1496.5,3653.8 1498.5,3653.7 1500.5,3653.7 C1502.5,3653.7 1504.5,3653.7 1506.5,3653.7 C1508.5,3653.7 1510.5,3653.7 1512.5,3653.7 C1514.5,3653.7 1516.5,3653.7 1518.5,3653.7 C1520.5,3653.7 1522.5,3653.7 1524.5,3653.7 C1526.5,3653.7 1528.5,3653.6 1530.5,3653.6 C1532.5,3653.6 1534.5,3653.6 1536.5,3653.6 C1538.5,3653.6 1540.5,3653.6 1542.5,3653.6 C1544.5,3653.6 1546.5,3653.6 1548.5,3653.6 C1550.5,3653.6 1552.5,3653.6 1554.5,3653.6 C1556.5,3653.6 1558.5,3653.6 1560.5,3653.6 C1562.5,3653.6 1564.5,3653.6 1566.5,3653.6 C1568.5,3653.6 1570.5,3653.6 1572.5,3653.6 C1574.5,3653.6 1576.5,3653.6 1578.5,3653.6 C1580.5,3653.6 1582.5,3653.5 1584.5,3653.5 C1586.5,3653.5 1588.5,3653.5 1590.5,3653.5 C1592.5,3653.5 1594.5,3653.5 1596.5,3653.5 C1598.5,3653.5 1600.5,3653.5 1602.5,3653.5 C1604.5,3653.5 1606.5,3653.5 1608.5,3653.5 C1610.5,3653.5 1612.5,3653.5 1614.5,3653.5 C1616.5,3653.5 1618.5,3653.5 1620.5,3653.5 C1622.5,3653.5 1624.5,3653.5 1626.5,3653.5 C1628.5,3653.5 1630.5,3653.5 1632.5,3653.5 C1634.5,3653.5 1636.5,3653.5 1638.5,3653.5 C1640.5,3653.5 1642.5,3653.5 1644.5,3653.5 C1646.5,3653.5 1648.5,3653.5 1650.5,3653.5 C1652.5,3653.5 1654.5,3653.5 1656.5,3653.5 C1658.5,3653.5 1660.5,3653.5 1662.5,3653.5 C1664.5,3653.5 1666.5,3653.5 1668.5,3653.5 C1670.5,3653.5 1672.5,3653.5 1674.5,3653.5 C1676.5,3653.5 1678.5,3653.5 1680.5,3653.5 C1682.5,3653.5 1684.5,3653.5 1686.5,3653.5 C1688.5,3653.5 1690.5,3653.5 1692.6,3653.5 C1694.6,3653.5 1696.6,3653.5 1698.6,3653.5 C1700.6,3653.5 1702.6,3653.5 1704.6,3653.5 C1706.6,3653.5 1708.6,3653.5 1710.6,3653.5 C1712.6,3653.5 1714.6,3653.5 1716.6,3653.5 C1718.6,3653.5 1720.6,3653.5 1722.6,3653.5 C1724.6,3653.5 1726.6,3653.5 1728.6,3653.5 C1730.6,3653.5 1732.6,3653.5 1734.6,3653.5 C1736.6,3653.5 1738.6,3653.5 1740.6,3653.5 C1742.6,3653.5 1744.6,3653.5 1746.6,3653.5 C1748.6,3653.5 1750.6,3653.5 1752.6,3653.5 C1754.6,3653.5 1756.6,3653.5 1758.6,3653.5 C1760.6,3653.5 1762.6,3653.5 1764.6,3653.5 C1766.6,3653.5 1768.6,3653.5 1770.6,3653.5 C1772.6,3653.5 1774.6,3653.5 1776.6,3653.5 C1778.6,3653.5 1780.6,3653.5 1782.6,3653.5 C1784.6,3653.5 1786.6,3653.5 1788.6,3653.5 C1790.6,3653.5 1792.6,3653.5 1794.6,3653.5 C1796.6,3653.5 1798.6,3653.5 1800.6,3653.5 C1802.6,3653.5 1804.6,3653.5 1806.6,3653.5 C1808.6,3653.5 1810.6,3653.5 1812.6,3653.5 C1814.6,3653.5 1816.6,3653.5 1818.6,3653.5 C1820.6,3653.5 1822.6,3653.5 1824.6,3653.5 C1826.6,3653.5 1828.6,3653.4 1830.6,3653.4 C1832.6,3653.4 1834.6,3653.4 1836.6,3653.4 C1838.6,3653.4 1840.6,3653.4 1842.6,3653.4 C1844.6,3653.4 1846.6,3653.4 1848.6,3653.4 C1850.6,3653.4 1852.6,3653.4 1854.6,3653.4 C1856.6,3653.4 1858.6,3653.4 1860.6,3653.4 C1862.6,3653.4 1864.6,3653.4 1866.6,3653.3 C1868.6,3653.3 1870.6,3653.3 1872.6,3653.3 C1874.6,3653.3 1876.6,3653.3 1878.6,3653.3 C1880.6,3653.3 1882.6,3653.3 1884.6,3653.3" fill="none" stroke="#7030A0" stroke-width="8.6" stroke-linecap="butt" stroke-linejoin="round"/>
<circle cx="1884.6" cy="3653.3" r="4.3" fill="#7030A0"/>
<line x1="1032.6" y1="519.2" x2="988.8" y2="545.9" stroke="#E00000" stroke-width="8.6" stroke-linecap="butt"/>
<line x1="1152.5" y1="744.4" x2="1101.8" y2="770.4" stroke="#FFC000" stroke-width="8.6" stroke-linecap="butt"/>
<line x1="860" y1="903.2" x2="819.3" y2="930.7" stroke="#CD8E00" stroke-width="8.6" stroke-linecap="butt"/>
<line x1="1252.5" y1="2622.4" x2="1199.1" y2="2648.9" stroke="#E00000" stroke-width="8.6" stroke-linecap="butt"/>
<line x1="1110.5" y1="2830.5" x2="1059.1" y2="2860.4" stroke="#FFC000" stroke-width="8.6" stroke-linecap="butt"/>
<line x1="928" y1="2986.5" x2="878.8" y2="3016.2" stroke="#CD8E00" stroke-width="8.6" stroke-linecap="butt"/>
<text transform="translate(900.48,613.17) scale(0.9638,1)" font-family="Liberation Serif, serif" font-weight="bold" font-size="66.47">149.11</text>
<text transform="translate(1010.53,838.87) scale(0.9730,1)" font-family="Liberation Serif, serif" font-weight="bold" font-size="66.47">161.35</text>
<text transform="translate(727.64,999.27) scale(0.9708,1)" font-family="Liberation Serif, serif" font-weight="bold" font-size="66.47">132.07</text>
<text transform="translate(1107.76,2716.75) scale(0.9515,1)" font-family="Liberation Serif, serif" font-weight="bold" font-size="67.50">176.27</text>
<text transform="translate(968.45,2927.52) scale(1.0063,1)" font-family="Liberation Serif, serif" font-weight="bold" font-size="63.97">161.35</text>
<text transform="translate(789.35,3084.83) scale(0.9384,1)" font-family="Liberation Serif, serif" font-weight="bold" font-size="67.31">142.41</text>
</svg></body></html>
